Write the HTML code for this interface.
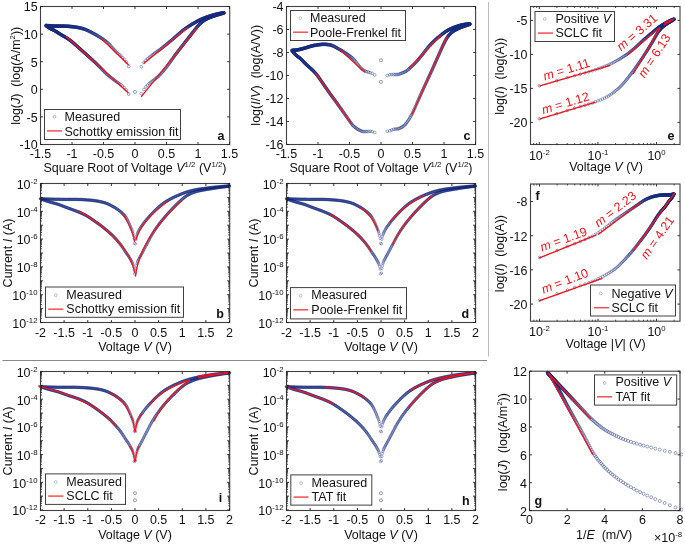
<!DOCTYPE html>
<html><head><meta charset="utf-8"><style>
html,body{margin:0;padding:0;background:#fff;}
svg{display:block;will-change:transform;}
text{font-family:"Liberation Sans", sans-serif;font-size:12.5px;fill:#111;white-space:pre;}
</style></head><body>
<svg width="685" height="544" viewBox="0 0 685 544">
<defs><marker id="mka" markerWidth="6" markerHeight="6" refX="3" refY="3" markerUnits="userSpaceOnUse" overflow="visible"><circle cx="3" cy="3" r="1.35" fill="none" stroke="#15287a" stroke-width="0.42"/></marker><marker id="mkc" markerWidth="6" markerHeight="6" refX="3" refY="3" markerUnits="userSpaceOnUse" overflow="visible"><circle cx="3" cy="3" r="1.35" fill="none" stroke="#15287a" stroke-width="0.42"/></marker><marker id="mkb" markerWidth="6" markerHeight="6" refX="3" refY="3" markerUnits="userSpaceOnUse" overflow="visible"><circle cx="3" cy="3" r="1.2" fill="none" stroke="#15287a" stroke-width="0.36"/></marker><marker id="mkd" markerWidth="6" markerHeight="6" refX="3" refY="3" markerUnits="userSpaceOnUse" overflow="visible"><circle cx="3" cy="3" r="1.2" fill="none" stroke="#15287a" stroke-width="0.36"/></marker><marker id="mki" markerWidth="6" markerHeight="6" refX="3" refY="3" markerUnits="userSpaceOnUse" overflow="visible"><circle cx="3" cy="3" r="1.2" fill="none" stroke="#15287a" stroke-width="0.36"/></marker><marker id="mkh" markerWidth="6" markerHeight="6" refX="3" refY="3" markerUnits="userSpaceOnUse" overflow="visible"><circle cx="3" cy="3" r="1.2" fill="none" stroke="#15287a" stroke-width="0.36"/></marker><marker id="mke" markerWidth="6" markerHeight="6" refX="3" refY="3" markerUnits="userSpaceOnUse" overflow="visible"><circle cx="3" cy="3" r="1.3" fill="none" stroke="#15287a" stroke-width="0.42"/></marker><marker id="mkf" markerWidth="6" markerHeight="6" refX="3" refY="3" markerUnits="userSpaceOnUse" overflow="visible"><circle cx="3" cy="3" r="1.3" fill="none" stroke="#15287a" stroke-width="0.42"/></marker><marker id="mkg" markerWidth="6" markerHeight="6" refX="3" refY="3" markerUnits="userSpaceOnUse" overflow="visible"><circle cx="3" cy="3" r="1.5" fill="none" stroke="#15287a" stroke-width="0.42"/></marker><marker id="mkz" markerWidth="6" markerHeight="6" refX="3" refY="3" markerUnits="userSpaceOnUse" overflow="visible"><circle cx="3" cy="3" r="1.55" fill="none" stroke="#15287a" stroke-width="0.45"/></marker></defs>
<rect width="685" height="544" fill="#fff"/>
<clipPath id="cpa"><rect x="37.5" y="3.5" width="195.2" height="144.0"/></clipPath>
<g clip-path="url(#cpa)">
<polyline points="128.7,66.5 126.1,61.9 124.1,59.4 122.4,57.6 120.9,56.1 119.6,54.8 118.3,53.7 117.2,52.7 116.1,51.7 115.1,50.6 114.1,49.6 113.2,48.6 112.3,47.6 111.4,46.7 110.6,45.8 109.8,44.9 109.0,44.1 108.3,43.4 107.5,42.7 106.8,42.1 106.1,41.5 105.5,41.0 104.8,40.5 104.1,40.0 103.5,39.6 102.9,39.2 102.3,38.7 101.7,38.3 101.1,38.0 100.5,37.6 99.9,37.2 99.4,36.9 98.8,36.5 98.3,36.2 97.7,35.9 97.2,35.5 96.7,35.2 96.2,34.9 95.7,34.7 95.2,34.4 94.7,34.1 94.2,33.8 93.7,33.6 93.2,33.3 92.7,33.1 92.3,32.8 91.8,32.6 91.4,32.3 90.9,32.1 90.5,31.9 90.0,31.7 89.6,31.4 89.1,31.2 88.7,31.0 88.3,30.8 87.9,30.6 87.4,30.4 87.0,30.2 86.6,30.0 86.2,29.8 85.8,29.7 85.4,29.5 85.0,29.4 84.6,29.2 84.2,29.1 83.8,29.0 83.4,28.9 83.0,28.8 82.7,28.6 82.3,28.5 81.9,28.4 81.5,28.3 81.2,28.2 80.8,28.1 80.4,28.1 80.1,28.0 79.7,27.9 79.4,27.8 79.0,27.7 78.7,27.6 78.3,27.6 78.0,27.5 77.6,27.4 77.3,27.4 76.9,27.3 76.6,27.3 76.2,27.2 75.9,27.2 75.6,27.1 75.2,27.1 74.9,27.0 74.6,27.0 74.2,26.9 73.9,26.9 73.6,26.9 73.3,26.8 73.0,26.8 72.6,26.7 72.3,26.7 72.0,26.7 71.7,26.6 71.4,26.6 71.1,26.6 70.8,26.5 70.4,26.5 70.1,26.5 69.8,26.5 69.5,26.4 69.2,26.4 68.9,26.4 68.6,26.3 68.3,26.3 68.0,26.3 67.7,26.3 67.4,26.3 67.1,26.2 66.9,26.2 66.6,26.2 66.3,26.2 66.0,26.2 65.7,26.2 65.4,26.2 65.1,26.2 64.8,26.2 64.6,26.2 64.3,26.1 64.0,26.1 63.7,26.1 63.4,26.1 63.2,26.1 62.9,26.1 62.6,26.1 62.3,26.1 62.1,26.1 61.8,26.1 61.5,26.1 61.3,26.1 61.0,26.1 60.7,26.1 60.5,26.1 60.2,26.1 59.9,26.1 59.7,26.1 59.4,26.1 59.1,26.1 58.9,26.1 58.6,26.1 58.4,26.1 58.1,26.1 57.8,26.1 57.6,26.1 57.3,26.1 57.1,26.1 56.8,26.1 56.6,26.1 56.3,26.1 56.1,26.1 55.8,26.1 55.6,26.1 55.3,26.1 55.1,26.1 54.8,26.1 54.6,26.1 54.3,26.1 54.1,26.1 53.8,26.1 53.6,26.1 53.3,26.0 53.1,26.0 52.9,26.0 52.6,26.0 52.4,26.0 52.1,26.0 51.9,26.0 51.7,26.0 51.4,26.0 51.2,25.9 50.9,25.9 50.7,25.9 50.5,25.9 50.2,25.9 50.0,25.9 49.8,25.9 49.5,25.8 49.3,25.8 49.1,25.8 48.8,25.8 48.6,25.8 48.4,25.7 48.2,25.7 47.9,25.7 47.7,25.7 47.5,25.7 47.3,25.7 47.0,25.6 46.8,25.6 46.6,25.6 46.4,25.6 46.1,25.6 45.9,25.5" fill="none" stroke="none" marker-start="url(#mka)" marker-mid="url(#mka)" marker-end="url(#mka)"/>
<polyline points="128.7,94.2 126.1,89.9 124.1,87.6 122.4,86.0 120.9,84.8 119.6,83.8 118.3,83.0 117.2,82.2 116.1,81.5 115.1,80.7 114.1,80.0 113.2,79.3 112.3,78.6 111.4,77.9 110.6,77.3 109.8,76.7 109.0,76.0 108.3,75.4 107.5,74.8 106.8,74.2 106.1,73.5 105.5,72.9 104.8,72.2 104.1,71.5 103.5,70.8 102.9,70.2 102.3,69.6 101.7,68.9 101.1,68.3 100.5,67.8 99.9,67.2 99.4,66.6 98.8,66.1 98.3,65.6 97.7,65.0 97.2,64.5 96.7,64.0 96.2,63.5 95.7,63.0 95.2,62.5 94.7,62.1 94.2,61.6 93.7,61.2 93.2,60.7 92.7,60.3 92.3,59.8 91.8,59.4 91.4,59.0 90.9,58.6 90.5,58.1 90.0,57.7 89.6,57.3 89.1,57.0 88.7,56.6 88.3,56.2 87.9,55.8 87.4,55.4 87.0,55.1 86.6,54.7 86.2,54.3 85.8,54.0 85.4,53.6 85.0,53.3 84.6,52.9 84.2,52.6 83.8,52.2 83.4,51.9 83.0,51.5 82.7,51.2 82.3,50.9 81.9,50.5 81.5,50.2 81.2,49.9 80.8,49.5 80.4,49.2 80.1,48.9 79.7,48.6 79.4,48.3 79.0,48.0 78.7,47.7 78.3,47.3 78.0,47.0 77.6,46.7 77.3,46.4 76.9,46.1 76.6,45.8 76.2,45.5 75.9,45.2 75.6,44.9 75.2,44.6 74.9,44.3 74.6,44.0 74.2,43.7 73.9,43.4 73.6,43.2 73.3,42.9 73.0,42.6 72.6,42.3 72.3,42.1 72.0,41.8 71.7,41.5 71.4,41.3 71.1,41.0 70.8,40.8 70.4,40.5 70.1,40.3 69.8,40.1 69.5,39.9 69.2,39.7 68.9,39.4 68.6,39.2 68.3,39.0 68.0,38.8 67.7,38.6 67.4,38.5 67.1,38.3 66.9,38.1 66.6,37.9 66.3,37.7 66.0,37.5 65.7,37.4 65.4,37.2 65.1,37.0 64.8,36.9 64.6,36.7 64.3,36.5 64.0,36.4 63.7,36.2 63.4,36.1 63.2,35.9 62.9,35.7 62.6,35.6 62.3,35.4 62.1,35.3 61.8,35.1 61.5,35.0 61.3,34.8 61.0,34.6 60.7,34.5 60.5,34.3 60.2,34.2 59.9,34.0 59.7,33.9 59.4,33.7 59.1,33.5 58.9,33.4 58.6,33.2 58.4,33.0 58.1,32.9 57.8,32.7 57.6,32.5 57.3,32.4 57.1,32.2 56.8,32.0 56.6,31.9 56.3,31.7 56.1,31.5 55.8,31.4 55.6,31.2 55.3,31.1 55.1,30.9 54.8,30.8 54.6,30.6 54.3,30.5 54.1,30.3 53.8,30.2 53.6,30.1 53.3,30.0 53.1,29.8 52.9,29.7 52.6,29.6 52.4,29.5 52.1,29.4 51.9,29.3 51.7,29.2 51.4,29.0 51.2,28.9 50.9,28.8 50.7,28.7 50.5,28.6 50.2,28.4 50.0,28.3 49.8,28.2 49.5,28.0 49.3,27.9 49.1,27.8 48.8,27.6 48.6,27.5 48.4,27.3 48.2,27.2 47.9,27.0 47.7,26.9 47.5,26.7 47.3,26.5 47.0,26.4 46.8,26.2 46.6,26.0 46.4,25.9 46.1,25.7 45.9,25.5" fill="none" stroke="none" marker-start="url(#mka)" marker-mid="url(#mka)" marker-end="url(#mka)"/>
<polyline points="141.3,66.8 143.9,62.5 145.9,60.3 147.6,58.7 149.1,57.5 150.4,56.5 151.7,55.6 152.8,54.7 153.9,53.9 154.9,53.1 155.9,52.4 156.8,51.8 157.7,51.2 158.6,50.6 159.4,50.0 160.2,49.4 161.0,48.8 161.7,48.2 162.5,47.6 163.2,47.0 163.9,46.5 164.5,45.9 165.2,45.4 165.9,44.9 166.5,44.3 167.1,43.8 167.7,43.4 168.3,42.9 168.9,42.4 169.5,41.9 170.1,41.4 170.6,41.0 171.2,40.5 171.7,40.0 172.3,39.6 172.8,39.1 173.3,38.7 173.8,38.2 174.3,37.8 174.8,37.3 175.3,36.9 175.8,36.5 176.3,36.1 176.8,35.6 177.3,35.2 177.7,34.8 178.2,34.4 178.6,34.0 179.1,33.6 179.5,33.2 180.0,32.8 180.4,32.5 180.9,32.1 181.3,31.7 181.7,31.4 182.1,31.0 182.6,30.7 183.0,30.3 183.4,30.0 183.8,29.7 184.2,29.4 184.6,29.1 185.0,28.8 185.4,28.5 185.8,28.3 186.2,28.0 186.6,27.7 187.0,27.5 187.3,27.2 187.7,27.0 188.1,26.7 188.5,26.5 188.8,26.2 189.2,26.0 189.6,25.8 189.9,25.6 190.3,25.3 190.6,25.1 191.0,24.9 191.3,24.7 191.7,24.5 192.0,24.3 192.4,24.1 192.7,23.8 193.1,23.6 193.4,23.4 193.8,23.2 194.1,23.1 194.4,22.9 194.8,22.7 195.1,22.5 195.4,22.3 195.8,22.1 196.1,21.9 196.4,21.7 196.7,21.6 197.0,21.4 197.4,21.2 197.7,21.0 198.0,20.9 198.3,20.7 198.6,20.6 198.9,20.4 199.2,20.2 199.6,20.1 199.9,19.9 200.2,19.8 200.5,19.6 200.8,19.5 201.1,19.4 201.4,19.2 201.7,19.1 202.0,19.0 202.3,18.9 202.6,18.7 202.9,18.6 203.1,18.5 203.4,18.4 203.7,18.3 204.0,18.2 204.3,18.0 204.6,17.9 204.9,17.8 205.2,17.7 205.4,17.6 205.7,17.5 206.0,17.4 206.3,17.3 206.6,17.2 206.8,17.1 207.1,17.0 207.4,16.9 207.7,16.8 207.9,16.7 208.2,16.6 208.5,16.6 208.7,16.5 209.0,16.4 209.3,16.3 209.5,16.2 209.8,16.1 210.1,16.0 210.3,16.0 210.6,15.9 210.9,15.8 211.1,15.7 211.4,15.6 211.6,15.6 211.9,15.5 212.2,15.4 212.4,15.3 212.7,15.3 212.9,15.2 213.2,15.1 213.4,15.0 213.7,15.0 213.9,14.9 214.2,14.8 214.4,14.8 214.7,14.7 214.9,14.6 215.2,14.6 215.4,14.5 215.7,14.4 215.9,14.4 216.2,14.3 216.4,14.3 216.7,14.2 216.9,14.2 217.1,14.1 217.4,14.0 217.6,14.0 217.9,13.9 218.1,13.9 218.3,13.8 218.6,13.8 218.8,13.7 219.1,13.7 219.3,13.6 219.5,13.6 219.8,13.5 220.0,13.5 220.2,13.4 220.5,13.4 220.7,13.4 220.9,13.3 221.2,13.3 221.4,13.2 221.6,13.2 221.8,13.1 222.1,13.1 222.3,13.1 222.5,13.0 222.7,13.0 223.0,13.0 223.2,12.9 223.4,12.9 223.6,12.9 223.9,12.8 224.1,12.8" fill="none" stroke="none" marker-start="url(#mka)" marker-mid="url(#mka)" marker-end="url(#mka)"/>
<polyline points="141.3,93.6 143.9,89.5 145.9,86.9 147.6,85.0 149.1,83.6 150.4,82.6 151.7,81.7 152.8,80.8 153.9,80.0 154.9,79.2 155.9,78.4 156.8,77.6 157.7,76.9 158.6,76.1 159.4,75.3 160.2,74.4 161.0,73.6 161.7,72.8 162.5,72.0 163.2,71.1 163.9,70.3 164.5,69.5 165.2,68.7 165.9,67.9 166.5,67.1 167.1,66.3 167.7,65.4 168.3,64.6 168.9,63.8 169.5,62.9 170.1,62.1 170.6,61.3 171.2,60.5 171.7,59.8 172.3,59.0 172.8,58.3 173.3,57.6 173.8,56.9 174.3,56.2 174.8,55.5 175.3,54.9 175.8,54.2 176.3,53.6 176.8,52.9 177.3,52.3 177.7,51.7 178.2,51.1 178.6,50.5 179.1,49.9 179.5,49.3 180.0,48.7 180.4,48.2 180.9,47.6 181.3,47.1 181.7,46.5 182.1,46.0 182.6,45.4 183.0,44.9 183.4,44.4 183.8,43.9 184.2,43.3 184.6,42.8 185.0,42.3 185.4,41.8 185.8,41.3 186.2,40.8 186.6,40.3 187.0,39.8 187.3,39.4 187.7,38.9 188.1,38.4 188.5,37.9 188.8,37.5 189.2,37.0 189.6,36.5 189.9,36.1 190.3,35.6 190.6,35.2 191.0,34.7 191.3,34.3 191.7,33.8 192.0,33.4 192.4,32.9 192.7,32.5 193.1,32.1 193.4,31.6 193.8,31.2 194.1,30.8 194.4,30.3 194.8,29.9 195.1,29.5 195.4,29.1 195.8,28.7 196.1,28.3 196.4,27.9 196.7,27.5 197.0,27.1 197.4,26.7 197.7,26.3 198.0,26.0 198.3,25.6 198.6,25.3 198.9,24.9 199.2,24.6 199.6,24.2 199.9,23.9 200.2,23.6 200.5,23.3 200.8,23.0 201.1,22.7 201.4,22.4 201.7,22.2 202.0,21.9 202.3,21.7 202.6,21.5 202.9,21.3 203.1,21.1 203.4,20.9 203.7,20.7 204.0,20.5 204.3,20.3 204.6,20.1 204.9,19.9 205.2,19.8 205.4,19.6 205.7,19.4 206.0,19.3 206.3,19.1 206.6,19.0 206.8,18.8 207.1,18.7 207.4,18.6 207.7,18.4 207.9,18.3 208.2,18.2 208.5,18.1 208.7,18.0 209.0,17.8 209.3,17.7 209.5,17.6 209.8,17.5 210.1,17.4 210.3,17.3 210.6,17.2 210.9,17.1 211.1,17.0 211.4,16.9 211.6,16.8 211.9,16.7 212.2,16.6 212.4,16.5 212.7,16.4 212.9,16.3 213.2,16.2 213.4,16.2 213.7,16.1 213.9,16.0 214.2,15.9 214.4,15.8 214.7,15.7 214.9,15.6 215.2,15.6 215.4,15.5 215.7,15.4 215.9,15.3 216.2,15.2 216.4,15.2 216.7,15.1 216.9,15.0 217.1,14.9 217.4,14.9 217.6,14.8 217.9,14.7 218.1,14.6 218.3,14.6 218.6,14.5 218.8,14.4 219.1,14.4 219.3,14.3 219.5,14.2 219.8,14.1 220.0,14.1 220.2,14.0 220.5,13.9 220.7,13.9 220.9,13.8 221.2,13.7 221.4,13.7 221.6,13.6 221.8,13.5 222.1,13.5 222.3,13.4 222.5,13.3 222.7,13.3 223.0,13.2 223.2,13.2 223.4,13.1 223.6,13.0 223.9,13.0 224.1,12.9" fill="none" stroke="none" marker-start="url(#mka)" marker-mid="url(#mka)" marker-end="url(#mka)"/>
<polyline points="135.0,91.9" fill="none" stroke="none" marker-start="url(#mkz)" marker-mid="url(#mkz)" marker-end="url(#mkz)"/>
<polyline points="101.17,38.18 128.70,65.01" fill="none" stroke="#f0141e" stroke-width="1.35" stroke-linejoin="round"/>
<polyline points="66.02,36.36 128.51,93.11" fill="none" stroke="#f0141e" stroke-width="1.35" stroke-linejoin="round"/>
<polyline points="143.63,63.58 187.98,27.59" fill="none" stroke="#f0141e" stroke-width="1.35" stroke-linejoin="round"/>
<polyline points="141.11,96.81 197.81,27.09" fill="none" stroke="#f0141e" stroke-width="1.35" stroke-linejoin="round"/>
</g>
<rect x="40.5" y="6.5" width="189.2" height="138.0" fill="none" stroke="#404040" stroke-width="1.1"/>
<path d="M40.50,144.5v-2.5M40.50,6.5v2.5" stroke="#222" stroke-width="0.9"/>
<text x="40.50" y="158" text-anchor="middle">-1.5</text>
<path d="M72.00,144.5v-2.5M72.00,6.5v2.5" stroke="#222" stroke-width="0.9"/>
<text x="72.00" y="158" text-anchor="middle">-1</text>
<path d="M103.50,144.5v-2.5M103.50,6.5v2.5" stroke="#222" stroke-width="0.9"/>
<text x="103.50" y="158" text-anchor="middle">-0.5</text>
<path d="M135.00,144.5v-2.5M135.00,6.5v2.5" stroke="#222" stroke-width="0.9"/>
<text x="135.00" y="158" text-anchor="middle">0</text>
<path d="M166.50,144.5v-2.5M166.50,6.5v2.5" stroke="#222" stroke-width="0.9"/>
<text x="166.50" y="158" text-anchor="middle">0.5</text>
<path d="M198.00,144.5v-2.5M198.00,6.5v2.5" stroke="#222" stroke-width="0.9"/>
<text x="198.00" y="158" text-anchor="middle">1</text>
<path d="M229.50,144.5v-2.5M229.50,6.5v2.5" stroke="#222" stroke-width="0.9"/>
<text x="229.50" y="158" text-anchor="middle">1.5</text>
<path d="M40.5,144.50h2.5M229.7,144.50h-2.5" stroke="#222" stroke-width="0.9"/>
<text x="37.7" y="149.40" text-anchor="end">-10</text>
<path d="M40.5,116.90h2.5M229.7,116.90h-2.5" stroke="#222" stroke-width="0.9"/>
<text x="37.7" y="121.80" text-anchor="end">-5</text>
<path d="M40.5,89.30h2.5M229.7,89.30h-2.5" stroke="#222" stroke-width="0.9"/>
<text x="37.7" y="94.20" text-anchor="end">0</text>
<path d="M40.5,61.70h2.5M229.7,61.70h-2.5" stroke="#222" stroke-width="0.9"/>
<text x="37.7" y="66.60" text-anchor="end">5</text>
<path d="M40.5,34.10h2.5M229.7,34.10h-2.5" stroke="#222" stroke-width="0.9"/>
<text x="37.7" y="39.00" text-anchor="end">10</text>
<path d="M40.5,6.50h2.5M229.7,6.50h-2.5" stroke="#222" stroke-width="0.9"/>
<text x="37.7" y="11.40" text-anchor="end">15</text>
<text x="135" y="171.9" text-anchor="middle">Square Root of Voltage <tspan font-style="italic">V</tspan><tspan dy="-5" font-size="7.8">1/2</tspan><tspan dy="5"> (V</tspan><tspan dy="-5" font-size="7.8">1/2</tspan><tspan dy="5">)</tspan></text>
<text transform="translate(20.1,75.8) rotate(-90)" text-anchor="middle">log(<tspan font-style="italic">J</tspan>)  (log(A/m<tspan dy="-5" font-size="7.8">2</tspan><tspan dy="5">))</tspan></text>
<rect x="44.5" y="109.5" width="136" height="30" fill="#fff" stroke="#404040" stroke-width="1"/>
<circle cx="54.5" cy="116.8" r="1.4" fill="none" stroke="#15287a" stroke-width="0.5" opacity="0.55"/>
<text x="64.5" y="120.8">Measured</text>
<line x1="47" y1="130.9" x2="62" y2="130.9" stroke="#f0141e" stroke-width="1.5" opacity="0.75"/>
<text x="64.5" y="135.5">Schottky emission fit</text>
<text x="217.5" y="140.1" font-weight="bold" font-size="13">a</text>
<clipPath id="cpc"><rect x="283.5" y="3.5" width="195.10000000000002" height="144.0"/></clipPath>
<g clip-path="url(#cpc)">
<polyline points="374.7,74.9 372.1,73.3 370.1,72.7 368.4,72.2 366.9,71.6 365.6,71.2 364.3,70.6 363.2,70.0 362.1,69.2 361.1,68.3 360.1,67.2 359.2,66.1 358.3,65.0 357.4,63.9 356.6,62.8 355.8,61.8 355.0,60.8 354.3,59.9 353.5,59.2 352.8,58.5 352.1,57.8 351.5,57.3 350.8,56.7 350.1,56.3 349.5,55.8 348.9,55.4 348.3,54.9 347.7,54.5 347.1,54.1 346.5,53.7 345.9,53.4 345.4,53.0 344.8,52.6 344.3,52.3 343.7,51.9 343.2,51.6 342.7,51.3 342.2,50.9 341.7,50.6 341.2,50.3 340.7,50.1 340.2,49.8 339.7,49.5 339.2,49.2 338.7,49.0 338.3,48.7 337.8,48.5 337.4,48.2 336.9,48.0 336.5,47.7 336.0,47.5 335.6,47.2 335.1,47.0 334.7,46.8 334.3,46.5 333.9,46.3 333.4,46.1 333.0,45.9 332.6,45.7 332.2,45.6 331.8,45.4 331.4,45.3 331.0,45.2 330.6,45.0 330.2,44.9 329.8,44.9 329.4,44.8 329.0,44.7 328.7,44.7 328.3,44.6 327.9,44.6 327.5,44.5 327.2,44.5 326.8,44.5 326.4,44.4 326.1,44.4 325.7,44.4 325.4,44.3 325.0,44.3 324.7,44.3 324.3,44.3 324.0,44.3 323.6,44.3 323.3,44.3 322.9,44.3 322.6,44.3 322.2,44.4 321.9,44.4 321.6,44.4 321.2,44.4 320.9,44.5 320.6,44.5 320.2,44.6 319.9,44.6 319.6,44.6 319.3,44.7 319.0,44.7 318.6,44.8 318.3,44.8 318.0,44.9 317.7,44.9 317.4,44.9 317.1,45.0 316.8,45.0 316.4,45.1 316.1,45.1 315.8,45.2 315.5,45.2 315.2,45.3 314.9,45.3 314.6,45.4 314.3,45.4 314.0,45.5 313.7,45.5 313.4,45.6 313.1,45.7 312.9,45.7 312.6,45.8 312.3,45.9 312.0,45.9 311.7,46.0 311.4,46.1 311.1,46.2 310.8,46.2 310.6,46.3 310.3,46.4 310.0,46.5 309.7,46.6 309.4,46.7 309.2,46.8 308.9,46.8 308.6,46.9 308.3,47.0 308.1,47.1 307.8,47.2 307.5,47.3 307.3,47.3 307.0,47.4 306.7,47.5 306.5,47.6 306.2,47.7 305.9,47.7 305.7,47.8 305.4,47.9 305.1,48.0 304.9,48.0 304.6,48.1 304.4,48.2 304.1,48.3 303.8,48.3 303.6,48.4 303.3,48.5 303.1,48.6 302.8,48.6 302.6,48.7 302.3,48.8 302.1,48.8 301.8,48.9 301.6,49.0 301.3,49.1 301.1,49.1 300.8,49.2 300.6,49.2 300.3,49.3 300.1,49.4 299.8,49.4 299.6,49.5 299.3,49.5 299.1,49.6 298.9,49.6 298.6,49.7 298.4,49.7 298.1,49.7 297.9,49.8 297.7,49.8 297.4,49.9 297.2,49.9 296.9,49.9 296.7,50.0 296.5,50.0 296.2,50.0 296.0,50.1 295.8,50.1 295.5,50.1 295.3,50.1 295.1,50.2 294.8,50.2 294.6,50.2 294.4,50.2 294.2,50.3 293.9,50.3 293.7,50.3 293.5,50.3 293.3,50.3 293.0,50.4 292.8,50.4 292.6,50.4 292.4,50.4 292.1,50.4 291.9,50.5" fill="none" stroke="none" marker-start="url(#mkc)" marker-mid="url(#mkc)" marker-end="url(#mkc)"/>
<polyline points="374.7,132.5 372.1,131.6 370.1,131.4 368.4,131.4 366.9,131.5 365.6,131.6 364.3,131.6 363.2,131.5 362.1,131.3 361.1,130.9 360.1,130.5 359.2,130.0 358.3,129.5 357.4,129.0 356.6,128.5 355.8,127.9 355.0,127.3 354.3,126.7 353.5,126.0 352.8,125.3 352.1,124.6 351.5,123.7 350.8,122.7 350.1,121.8 349.5,120.9 348.9,120.0 348.3,119.1 347.7,118.3 347.1,117.4 346.5,116.6 345.9,115.8 345.4,115.0 344.8,114.2 344.3,113.4 343.7,112.7 343.2,111.9 342.7,111.2 342.2,110.5 341.7,109.8 341.2,109.0 340.7,108.3 340.2,107.7 339.7,107.0 339.2,106.3 338.7,105.6 338.3,105.0 337.8,104.3 337.4,103.7 336.9,103.1 336.5,102.4 336.0,101.8 335.6,101.2 335.1,100.6 334.7,100.0 334.3,99.5 333.9,98.9 333.4,98.3 333.0,97.7 332.6,97.2 332.2,96.6 331.8,96.1 331.4,95.5 331.0,95.0 330.6,94.4 330.2,93.9 329.8,93.3 329.4,92.8 329.0,92.2 328.7,91.7 328.3,91.1 327.9,90.6 327.5,90.1 327.2,89.6 326.8,89.0 326.4,88.5 326.1,88.0 325.7,87.5 325.4,87.0 325.0,86.5 324.7,86.0 324.3,85.5 324.0,85.0 323.6,84.5 323.3,84.0 322.9,83.5 322.6,83.0 322.2,82.5 321.9,82.0 321.6,81.5 321.2,81.0 320.9,80.5 320.6,80.0 320.2,79.6 319.9,79.1 319.6,78.6 319.3,78.1 319.0,77.7 318.6,77.2 318.3,76.8 318.0,76.4 317.7,75.9 317.4,75.5 317.1,75.1 316.8,74.7 316.4,74.3 316.1,73.9 315.8,73.6 315.5,73.2 315.2,72.9 314.9,72.5 314.6,72.2 314.3,71.9 314.0,71.6 313.7,71.3 313.4,71.0 313.1,70.7 312.9,70.4 312.6,70.1 312.3,69.9 312.0,69.6 311.7,69.3 311.4,69.1 311.1,68.8 310.8,68.6 310.6,68.3 310.3,68.1 310.0,67.8 309.7,67.6 309.4,67.3 309.2,67.1 308.9,66.9 308.6,66.6 308.3,66.4 308.1,66.1 307.8,65.9 307.5,65.7 307.3,65.4 307.0,65.2 306.7,64.9 306.5,64.7 306.2,64.4 305.9,64.2 305.7,63.9 305.4,63.7 305.1,63.4 304.9,63.2 304.6,62.9 304.4,62.6 304.1,62.4 303.8,62.1 303.6,61.8 303.3,61.5 303.1,61.3 302.8,61.0 302.6,60.7 302.3,60.4 302.1,60.2 301.8,59.9 301.6,59.6 301.3,59.4 301.1,59.1 300.8,58.9 300.6,58.7 300.3,58.5 300.1,58.3 299.8,58.1 299.6,57.9 299.3,57.7 299.1,57.5 298.9,57.3 298.6,57.1 298.4,57.0 298.1,56.8 297.9,56.6 297.7,56.4 297.4,56.3 297.2,56.1 296.9,55.9 296.7,55.7 296.5,55.5 296.2,55.3 296.0,55.1 295.8,54.9 295.5,54.7 295.3,54.5 295.1,54.3 294.8,54.0 294.6,53.8 294.4,53.5 294.2,53.3 293.9,53.0 293.7,52.7 293.5,52.5 293.3,52.2 293.0,51.9 292.8,51.6 292.6,51.3 292.4,51.0 292.1,50.7 291.9,50.4" fill="none" stroke="none" marker-start="url(#mkc)" marker-mid="url(#mkc)" marker-end="url(#mkc)"/>
<polyline points="387.3,75.4 389.9,74.6 391.9,74.5 393.6,74.5 395.1,74.5 396.4,74.6 397.7,74.5 398.8,74.3 399.9,73.9 400.9,73.5 401.9,73.1 402.8,72.7 403.7,72.4 404.6,72.0 405.4,71.6 406.2,71.1 407.0,70.6 407.7,70.0 408.5,69.3 409.2,68.7 409.9,68.1 410.5,67.5 411.2,66.9 411.9,66.3 412.5,65.7 413.1,65.1 413.7,64.5 414.3,64.0 414.9,63.4 415.5,62.8 416.1,62.1 416.6,61.5 417.2,60.9 417.7,60.3 418.3,59.6 418.8,59.0 419.3,58.4 419.8,57.7 420.3,57.1 420.8,56.5 421.3,55.9 421.8,55.3 422.3,54.7 422.8,54.1 423.3,53.5 423.7,52.9 424.2,52.3 424.6,51.7 425.1,51.1 425.5,50.5 426.0,49.9 426.4,49.4 426.9,48.8 427.3,48.3 427.7,47.7 428.1,47.2 428.6,46.7 429.0,46.2 429.4,45.7 429.8,45.3 430.2,44.9 430.6,44.4 431.0,44.0 431.4,43.6 431.8,43.2 432.2,42.8 432.6,42.5 433.0,42.1 433.3,41.7 433.7,41.4 434.1,41.0 434.5,40.7 434.8,40.3 435.2,40.0 435.6,39.7 435.9,39.4 436.3,39.0 436.6,38.7 437.0,38.4 437.3,38.1 437.7,37.8 438.0,37.5 438.4,37.2 438.7,37.0 439.1,36.7 439.4,36.4 439.8,36.1 440.1,35.8 440.4,35.6 440.8,35.3 441.1,35.0 441.4,34.8 441.8,34.5 442.1,34.2 442.4,34.0 442.7,33.7 443.0,33.5 443.4,33.2 443.7,33.0 444.0,32.8 444.3,32.5 444.6,32.3 444.9,32.1 445.2,31.9 445.6,31.7 445.9,31.5 446.2,31.3 446.5,31.1 446.8,30.9 447.1,30.7 447.4,30.5 447.7,30.4 448.0,30.2 448.3,30.1 448.6,29.9 448.9,29.8 449.1,29.6 449.4,29.5 449.7,29.3 450.0,29.2 450.3,29.1 450.6,28.9 450.9,28.8 451.2,28.7 451.4,28.5 451.7,28.4 452.0,28.3 452.3,28.2 452.6,28.1 452.8,28.0 453.1,27.8 453.4,27.7 453.7,27.6 453.9,27.5 454.2,27.4 454.5,27.3 454.7,27.2 455.0,27.1 455.3,27.0 455.5,26.9 455.8,26.8 456.1,26.7 456.3,26.7 456.6,26.6 456.9,26.5 457.1,26.4 457.4,26.3 457.6,26.2 457.9,26.1 458.2,26.0 458.4,26.0 458.7,25.9 458.9,25.8 459.2,25.7 459.4,25.6 459.7,25.6 459.9,25.5 460.2,25.4 460.4,25.3 460.7,25.3 460.9,25.2 461.2,25.2 461.4,25.1 461.7,25.0 461.9,25.0 462.2,24.9 462.4,24.9 462.7,24.8 462.9,24.8 463.1,24.7 463.4,24.7 463.6,24.7 463.9,24.6 464.1,24.6 464.3,24.5 464.6,24.5 464.8,24.5 465.1,24.4 465.3,24.4 465.5,24.3 465.8,24.3 466.0,24.3 466.2,24.2 466.5,24.2 466.7,24.2 466.9,24.2 467.2,24.1 467.4,24.1 467.6,24.1 467.8,24.0 468.1,24.0 468.3,24.0 468.5,24.0 468.7,24.0 469.0,24.0 469.2,23.9 469.4,23.9 469.6,23.9 469.9,23.9 470.1,23.9" fill="none" stroke="none" marker-start="url(#mkc)" marker-mid="url(#mkc)" marker-end="url(#mkc)"/>
<polyline points="387.3,131.2 389.9,130.8 391.9,130.0 393.6,129.3 395.1,129.1 396.4,129.0 397.7,128.8 398.8,128.6 399.9,128.2 400.9,127.7 401.9,127.2 402.8,126.6 403.7,125.9 404.6,125.1 405.4,124.2 406.2,123.3 407.0,122.3 407.7,121.2 408.5,120.1 409.2,119.0 409.9,117.8 410.5,116.7 411.2,115.5 411.9,114.3 412.5,113.1 413.1,111.8 413.7,110.5 414.3,109.2 414.9,107.9 415.5,106.5 416.1,105.2 416.6,103.9 417.2,102.6 417.7,101.4 418.3,100.1 418.8,98.9 419.3,97.8 419.8,96.6 420.3,95.5 420.8,94.4 421.3,93.3 421.8,92.2 422.3,91.2 422.8,90.1 423.3,89.1 423.7,88.0 424.2,87.0 424.6,86.0 425.1,85.0 425.5,84.0 426.0,83.1 426.4,82.1 426.9,81.2 427.3,80.2 427.7,79.3 428.1,78.4 428.6,77.5 429.0,76.6 429.4,75.7 429.8,74.8 430.2,73.9 430.6,73.0 431.0,72.2 431.4,71.3 431.8,70.4 432.2,69.6 432.6,68.7 433.0,67.9 433.3,67.0 433.7,66.2 434.1,65.3 434.5,64.5 434.8,63.7 435.2,62.9 435.6,62.1 435.9,61.3 436.3,60.5 436.6,59.7 437.0,58.9 437.3,58.1 437.7,57.3 438.0,56.5 438.4,55.8 438.7,55.0 439.1,54.2 439.4,53.4 439.8,52.7 440.1,51.9 440.4,51.1 440.8,50.4 441.1,49.6 441.4,48.9 441.8,48.2 442.1,47.5 442.4,46.8 442.7,46.1 443.0,45.4 443.4,44.7 443.7,44.1 444.0,43.4 444.3,42.8 444.6,42.1 444.9,41.5 445.2,40.9 445.6,40.3 445.9,39.7 446.2,39.1 446.5,38.6 446.8,38.1 447.1,37.6 447.4,37.2 447.7,36.8 448.0,36.4 448.3,36.0 448.6,35.7 448.9,35.3 449.1,35.0 449.4,34.7 449.7,34.3 450.0,34.1 450.3,33.8 450.6,33.5 450.9,33.2 451.2,32.9 451.4,32.7 451.7,32.4 452.0,32.2 452.3,32.0 452.6,31.8 452.8,31.5 453.1,31.3 453.4,31.2 453.7,31.0 453.9,30.8 454.2,30.6 454.5,30.5 454.7,30.3 455.0,30.2 455.3,30.0 455.5,29.9 455.8,29.7 456.1,29.6 456.3,29.5 456.6,29.3 456.9,29.2 457.1,29.1 457.4,28.9 457.6,28.8 457.9,28.7 458.2,28.6 458.4,28.4 458.7,28.3 458.9,28.2 459.2,28.1 459.4,28.0 459.7,27.9 459.9,27.8 460.2,27.7 460.4,27.6 460.7,27.4 460.9,27.3 461.2,27.2 461.4,27.1 461.7,27.0 461.9,26.9 462.2,26.8 462.4,26.7 462.7,26.7 462.9,26.6 463.1,26.5 463.4,26.4 463.6,26.3 463.9,26.2 464.1,26.1 464.3,26.1 464.6,26.0 464.8,25.9 465.1,25.8 465.3,25.7 465.5,25.7 465.8,25.6 466.0,25.5 466.2,25.4 466.5,25.3 466.7,25.3 466.9,25.2 467.2,25.1 467.4,25.0 467.6,24.9 467.8,24.9 468.1,24.8 468.3,24.7 468.5,24.6 468.7,24.6 469.0,24.5 469.2,24.4 469.4,24.3 469.6,24.3 469.9,24.2 470.1,24.1" fill="none" stroke="none" marker-start="url(#mkc)" marker-mid="url(#mkc)" marker-end="url(#mkc)"/>
<polyline points="381.0,60.2 381.0,81.9" fill="none" stroke="none" marker-start="url(#mkz)" marker-mid="url(#mkz)" marker-end="url(#mkz)"/>
<polyline points="339.29,49.16 365.00,72.17" fill="none" stroke="#f0141e" stroke-width="1.35" stroke-linejoin="round"/>
<polyline points="315.42,73.08 352.21,124.61" fill="none" stroke="#f0141e" stroke-width="1.35" stroke-linejoin="round"/>
<polyline points="409.10,68.83 441.29,34.79" fill="none" stroke="#f0141e" stroke-width="1.35" stroke-linejoin="round"/>
<polyline points="411.87,114.71 446.84,36.75" fill="none" stroke="#f0141e" stroke-width="1.35" stroke-linejoin="round"/>
</g>
<rect x="286.5" y="6.5" width="189.10000000000002" height="138.0" fill="none" stroke="#404040" stroke-width="1.1"/>
<path d="M286.50,144.5v-2.5M286.50,6.5v2.5" stroke="#222" stroke-width="0.9"/>
<text x="286.50" y="158" text-anchor="middle">-1.5</text>
<path d="M318.00,144.5v-2.5M318.00,6.5v2.5" stroke="#222" stroke-width="0.9"/>
<text x="318.00" y="158" text-anchor="middle">-1</text>
<path d="M349.50,144.5v-2.5M349.50,6.5v2.5" stroke="#222" stroke-width="0.9"/>
<text x="349.50" y="158" text-anchor="middle">-0.5</text>
<path d="M381.00,144.5v-2.5M381.00,6.5v2.5" stroke="#222" stroke-width="0.9"/>
<text x="381.00" y="158" text-anchor="middle">0</text>
<path d="M412.50,144.5v-2.5M412.50,6.5v2.5" stroke="#222" stroke-width="0.9"/>
<text x="412.50" y="158" text-anchor="middle">0.5</text>
<path d="M444.00,144.5v-2.5M444.00,6.5v2.5" stroke="#222" stroke-width="0.9"/>
<text x="444.00" y="158" text-anchor="middle">1</text>
<path d="M475.50,144.5v-2.5M475.50,6.5v2.5" stroke="#222" stroke-width="0.9"/>
<text x="475.50" y="158" text-anchor="middle">1.5</text>
<path d="M286.5,144.50h2.5M475.6,144.50h-2.5" stroke="#222" stroke-width="0.9"/>
<text x="283.5" y="149.40" text-anchor="end">-16</text>
<path d="M286.5,121.50h2.5M475.6,121.50h-2.5" stroke="#222" stroke-width="0.9"/>
<text x="283.5" y="126.40" text-anchor="end">-14</text>
<path d="M286.5,98.50h2.5M475.6,98.50h-2.5" stroke="#222" stroke-width="0.9"/>
<text x="283.5" y="103.40" text-anchor="end">-12</text>
<path d="M286.5,75.50h2.5M475.6,75.50h-2.5" stroke="#222" stroke-width="0.9"/>
<text x="283.5" y="80.40" text-anchor="end">-10</text>
<path d="M286.5,52.50h2.5M475.6,52.50h-2.5" stroke="#222" stroke-width="0.9"/>
<text x="283.5" y="57.40" text-anchor="end">-8</text>
<path d="M286.5,29.50h2.5M475.6,29.50h-2.5" stroke="#222" stroke-width="0.9"/>
<text x="283.5" y="34.40" text-anchor="end">-6</text>
<path d="M286.5,6.50h2.5M475.6,6.50h-2.5" stroke="#222" stroke-width="0.9"/>
<text x="283.5" y="11.40" text-anchor="end">-4</text>
<text x="381" y="171.9" text-anchor="middle">Square Root of Voltage <tspan font-style="italic">V</tspan><tspan dy="-5" font-size="7.8">1/2</tspan><tspan dy="5"> (V</tspan><tspan dy="-5" font-size="7.8">1/2</tspan><tspan dy="5">)</tspan></text>
<text transform="translate(260.1,75.25) rotate(-90)" text-anchor="middle">log(<tspan font-style="italic">I</tspan>/<tspan font-style="italic">V</tspan>)  (log(A/V))</text>
<rect x="290.5" y="10.5" width="115" height="30" fill="#fff" stroke="#404040" stroke-width="1"/>
<circle cx="300.4" cy="18.2" r="1.4" fill="none" stroke="#15287a" stroke-width="0.5" opacity="0.55"/>
<text x="310" y="22">Measured</text>
<line x1="293.1" y1="32.2" x2="308.1" y2="32.2" stroke="#f0141e" stroke-width="1.5" opacity="0.75"/>
<text x="310" y="36.7">Poole-Frenkel fit</text>
<text x="463.5" y="139.5" font-weight="bold" font-size="13">c</text>
<clipPath id="cpe"><rect x="527.5" y="3.5" width="155.5" height="144.0"/></clipPath>
<g clip-path="url(#cpe)">
<polyline points="539.3,85.7 556.9,80.5 567.3,77.6 574.6,75.7 580.3,74.2 584.9,73.0 588.8,71.9 592.2,70.8 595.2,69.8 597.9,68.9 600.3,68.0 602.5,67.2 604.6,66.4 606.5,65.7 608.2,65.0 609.9,64.3 611.4,63.5 612.9,62.8 614.2,62.0 615.5,61.3 616.8,60.6 618.0,60.0 619.1,59.3 620.2,58.7 621.2,58.0 622.2,57.4 623.2,56.8 624.1,56.2 625.0,55.6 625.9,55.0 626.7,54.5 627.5,53.9 628.3,53.3 629.0,52.7 629.8,52.2 630.5,51.6 631.2,51.0 631.9,50.5 632.5,49.9 633.2,49.4 633.8,48.9 634.4,48.3 635.0,47.8 635.6,47.3 636.2,46.8 636.7,46.3 637.3,45.8 637.8,45.3 638.3,44.8 638.9,44.3 639.4,43.9 639.9,43.4 640.3,42.9 640.8,42.5 641.3,42.0 641.7,41.6 642.2,41.2 642.6,40.8 643.1,40.4 643.5,40.0 643.9,39.6 644.3,39.3 644.7,38.9 645.1,38.6 645.5,38.2 645.9,37.9 646.3,37.6 646.7,37.3 647.1,37.0 647.4,36.6 647.8,36.3 648.1,36.0 648.5,35.7 648.8,35.5 649.2,35.2 649.5,34.9 649.8,34.6 650.2,34.3 650.5,34.1 650.8,33.8 651.1,33.6 651.4,33.3 651.8,33.0 652.1,32.8 652.4,32.5 652.7,32.3 653.0,32.1 653.2,31.8 653.5,31.6 653.8,31.3 654.1,31.1 654.4,30.9 654.7,30.7 654.9,30.4 655.2,30.2 655.5,30.0 655.7,29.8 656.0,29.6 656.2,29.3 656.5,29.1 656.8,28.9 657.0,28.7 657.3,28.5 657.5,28.3 657.7,28.2 658.0,28.0 658.2,27.8 658.5,27.6 658.7,27.4 658.9,27.3 659.2,27.1 659.4,27.0 659.6,26.8 659.8,26.6 660.1,26.5 660.3,26.3 660.5,26.2 660.7,26.1 660.9,25.9 661.1,25.8 661.4,25.6 661.6,25.5 661.8,25.4 662.0,25.2 662.2,25.1 662.4,25.0 662.6,24.9 662.8,24.7 663.0,24.6 663.2,24.5 663.4,24.4 663.6,24.3 663.8,24.1 663.9,24.0 664.1,23.9 664.3,23.8 664.5,23.7 664.7,23.6 664.9,23.5 665.1,23.4 665.2,23.3 665.4,23.2 665.6,23.1 665.8,23.0 666.0,22.9 666.1,22.8 666.3,22.7 666.5,22.6 666.6,22.5 666.8,22.4 667.0,22.3 667.2,22.2 667.3,22.1 667.5,22.0 667.7,21.9 667.8,21.8 668.0,21.8 668.1,21.7 668.3,21.6 668.5,21.5 668.6,21.4 668.8,21.3 668.9,21.3 669.1,21.2 669.2,21.1 669.4,21.1 669.6,21.0 669.7,20.9 669.9,20.8 670.0,20.8 670.2,20.7 670.3,20.6 670.4,20.6 670.6,20.5 670.7,20.5 670.9,20.4 671.0,20.3 671.2,20.3 671.3,20.2 671.5,20.2 671.6,20.1 671.7,20.0 671.9,20.0 672.0,19.9 672.2,19.9 672.3,19.8 672.4,19.8 672.6,19.7 672.7,19.7 672.8,19.6 673.0,19.6 673.1,19.5 673.2,19.5 673.4,19.4 673.5,19.4 673.6,19.3 673.8,19.3 673.9,19.3 674.0,19.2 674.1,19.2" fill="none" stroke="none" marker-start="url(#mke)" marker-mid="url(#mke)" marker-end="url(#mke)"/>
<polyline points="539.3,118.7 556.9,113.7 567.3,110.5 574.6,108.1 580.3,106.5 584.9,105.2 588.8,104.0 592.2,103.0 595.2,101.9 597.9,100.9 600.3,100.0 602.5,99.0 604.6,98.1 606.5,97.1 608.2,96.0 609.9,95.0 611.4,94.0 612.9,92.9 614.2,91.9 615.5,90.8 616.8,89.8 618.0,88.8 619.1,87.8 620.2,86.8 621.2,85.7 622.2,84.7 623.2,83.6 624.1,82.6 625.0,81.5 625.9,80.5 626.7,79.4 627.5,78.4 628.3,77.4 629.0,76.4 629.8,75.5 630.5,74.5 631.2,73.6 631.9,72.7 632.5,71.9 633.2,71.0 633.8,70.2 634.4,69.3 635.0,68.5 635.6,67.7 636.2,66.9 636.7,66.1 637.3,65.4 637.8,64.6 638.3,63.9 638.9,63.1 639.4,62.4 639.9,61.7 640.3,61.0 640.8,60.3 641.3,59.6 641.7,58.9 642.2,58.2 642.6,57.6 643.1,56.9 643.5,56.2 643.9,55.6 644.3,55.0 644.7,54.3 645.1,53.7 645.5,53.1 645.9,52.5 646.3,51.9 646.7,51.3 647.1,50.7 647.4,50.1 647.8,49.6 648.1,49.0 648.5,48.4 648.8,47.9 649.2,47.3 649.5,46.8 649.8,46.2 650.2,45.7 650.5,45.1 650.8,44.6 651.1,44.1 651.4,43.5 651.8,43.0 652.1,42.5 652.4,42.0 652.7,41.4 653.0,40.9 653.2,40.4 653.5,39.9 653.8,39.4 654.1,38.9 654.4,38.4 654.7,37.9 654.9,37.4 655.2,37.0 655.5,36.5 655.7,36.1 656.0,35.6 656.2,35.2 656.5,34.7 656.8,34.3 657.0,33.9 657.3,33.5 657.5,33.1 657.7,32.7 658.0,32.3 658.2,31.9 658.5,31.6 658.7,31.3 658.9,30.9 659.2,30.7 659.4,30.4 659.6,30.1 659.8,29.8 660.1,29.6 660.3,29.4 660.5,29.1 660.7,28.9 660.9,28.7 661.1,28.4 661.4,28.2 661.6,28.0 661.8,27.8 662.0,27.6 662.2,27.4 662.4,27.2 662.6,27.0 662.8,26.8 663.0,26.6 663.2,26.5 663.4,26.3 663.6,26.1 663.8,26.0 663.9,25.8 664.1,25.7 664.3,25.6 664.5,25.4 664.7,25.3 664.9,25.1 665.1,25.0 665.2,24.9 665.4,24.8 665.6,24.6 665.8,24.5 666.0,24.4 666.1,24.3 666.3,24.2 666.5,24.0 666.6,23.9 666.8,23.8 667.0,23.7 667.2,23.6 667.3,23.5 667.5,23.4 667.7,23.3 667.8,23.2 668.0,23.1 668.1,22.9 668.3,22.8 668.5,22.7 668.6,22.6 668.8,22.5 668.9,22.4 669.1,22.3 669.2,22.2 669.4,22.2 669.6,22.1 669.7,22.0 669.9,21.9 670.0,21.8 670.2,21.7 670.3,21.6 670.4,21.5 670.6,21.4 670.7,21.3 670.9,21.3 671.0,21.2 671.2,21.1 671.3,21.0 671.5,20.9 671.6,20.8 671.7,20.8 671.9,20.7 672.0,20.6 672.2,20.5 672.3,20.4 672.4,20.3 672.6,20.3 672.7,20.2 672.8,20.1 673.0,20.0 673.1,19.9 673.2,19.9 673.4,19.8 673.5,19.7 673.6,19.6 673.8,19.5 673.9,19.5 674.0,19.4 674.1,19.3" fill="none" stroke="none" marker-start="url(#mke)" marker-mid="url(#mke)" marker-end="url(#mke)"/>
<polyline points="539.40,86.00 540.60,85.65 541.79,85.30 542.99,84.95 544.19,84.60 545.38,84.25 546.58,83.91 547.78,83.56 548.97,83.21 550.17,82.86 551.37,82.51 552.56,82.16 553.76,81.81 554.96,81.46 556.15,81.11 557.35,80.76 558.55,80.41 559.74,80.06 560.94,79.72 562.14,79.37 563.33,79.02 564.53,78.67 565.73,78.32 566.92,77.97 568.12,77.62 569.32,77.27 570.51,76.92 571.71,76.57 572.91,76.22 574.10,75.87 575.30,75.53 576.49,75.18 577.69,74.83 578.89,74.48 580.08,74.13 581.28,73.78 582.48,73.43 583.67,73.08 584.87,72.73 586.07,72.38 587.26,72.03 588.46,71.68 589.66,71.34 590.85,70.99 592.05,70.64 593.25,70.29 594.44,69.94 595.64,69.59 596.84,69.24 598.03,68.89 599.23,68.54 600.43,68.19 601.62,67.84 602.82,67.49 604.02,67.15 605.21,66.80 606.41,66.45 607.61,66.10 608.80,65.75 610.00,65.40" fill="none" stroke="#f0141e" stroke-width="1.35" stroke-linejoin="round"/>
<polyline points="539.40,119.10 540.35,118.81 541.29,118.53 542.24,118.24 543.19,117.95 544.14,117.67 545.08,117.38 546.03,117.09 546.98,116.81 547.93,116.52 548.87,116.24 549.82,115.95 550.77,115.66 551.72,115.38 552.66,115.09 553.61,114.80 554.56,114.52 555.51,114.23 556.45,113.94 557.40,113.66 558.35,113.37 559.30,113.08 560.24,112.80 561.19,112.51 562.14,112.23 563.09,111.94 564.03,111.65 564.98,111.37 565.93,111.08 566.88,110.79 567.82,110.51 568.77,110.22 569.72,109.93 570.67,109.65 571.61,109.36 572.56,109.07 573.51,108.79 574.46,108.50 575.40,108.22 576.35,107.93 577.30,107.64 578.25,107.36 579.19,107.07 580.14,106.78 581.09,106.50 582.04,106.21 582.98,105.92 583.93,105.64 584.88,105.35 585.83,105.06 586.77,104.78 587.72,104.49 588.67,104.21 589.62,103.92 590.56,103.63 591.51,103.35 592.46,103.06 593.41,102.77 594.35,102.49 595.30,102.20" fill="none" stroke="#f0141e" stroke-width="1.35" stroke-linejoin="round"/>
<polyline points="627.20,54.90 627.75,54.44 628.30,53.97 628.85,53.51 629.40,53.05 629.95,52.59 630.49,52.12 631.04,51.66 631.59,51.20 632.14,50.74 632.69,50.27 633.24,49.81 633.79,49.35 634.34,48.88 634.89,48.42 635.44,47.96 635.99,47.50 636.54,47.03 637.08,46.57 637.63,46.11 638.18,45.65 638.73,45.18 639.28,44.72 639.83,44.26 640.38,43.79 640.93,43.33 641.48,42.87 642.03,42.41 642.58,41.94 643.13,41.48 643.67,41.02 644.22,40.56 644.77,40.09 645.32,39.63 645.87,39.17 646.42,38.71 646.97,38.24 647.52,37.78 648.07,37.32 648.62,36.85 649.17,36.39 649.72,35.93 650.26,35.47 650.81,35.00 651.36,34.54 651.91,34.08 652.46,33.62 653.01,33.15 653.56,32.69 654.11,32.23 654.66,31.76 655.21,31.30 655.76,30.84 656.31,30.38 656.85,29.91 657.40,29.45 657.95,28.99 658.50,28.53 659.05,28.06 659.60,27.60" fill="none" stroke="#f0141e" stroke-width="1.35" stroke-linejoin="round"/>
<polyline points="633.10,74.00 633.56,73.21 634.02,72.43 634.48,71.64 634.94,70.85 635.41,70.07 635.87,69.28 636.33,68.49 636.79,67.71 637.25,66.92 637.71,66.14 638.17,65.35 638.63,64.56 639.09,63.78 639.55,62.99 640.02,62.20 640.48,61.42 640.94,60.63 641.40,59.84 641.86,59.06 642.32,58.27 642.78,57.48 643.24,56.70 643.70,55.91 644.16,55.13 644.63,54.34 645.09,53.55 645.55,52.77 646.01,51.98 646.47,51.19 646.93,50.41 647.39,49.62 647.85,48.83 648.31,48.05 648.77,47.26 649.24,46.47 649.70,45.69 650.16,44.90 650.62,44.12 651.08,43.33 651.54,42.54 652.00,41.76 652.46,40.97 652.92,40.18 653.38,39.40 653.85,38.61 654.31,37.82 654.77,37.04 655.23,36.25 655.69,35.46 656.15,34.68 656.61,33.89 657.07,33.11 657.53,32.32 657.99,31.53 658.46,30.75 658.92,29.96 659.38,29.17 659.84,28.39 660.30,27.60" fill="none" stroke="#f0141e" stroke-width="1.35" stroke-linejoin="round"/>
<polyline points="663.80,22.90 663.97,22.83 664.15,22.76 664.32,22.70 664.50,22.63 664.67,22.56 664.85,22.49 665.02,22.43 665.20,22.36 665.37,22.29 665.55,22.22 665.72,22.15 665.89,22.09 666.07,22.02 666.24,21.95 666.42,21.88 666.59,21.82 666.77,21.75 666.94,21.68 667.12,21.61 667.29,21.54 667.47,21.48 667.64,21.41 667.82,21.34 667.99,21.27 668.16,21.21 668.34,21.14 668.51,21.07 668.69,21.00 668.86,20.93 669.04,20.87 669.21,20.80 669.39,20.73 669.56,20.66 669.74,20.59 669.91,20.53 670.08,20.46 670.26,20.39 670.43,20.32 670.61,20.26 670.78,20.19 670.96,20.12 671.13,20.05 671.31,19.98 671.48,19.92 671.66,19.85 671.83,19.78 672.01,19.71 672.18,19.65 672.35,19.58 672.53,19.51 672.70,19.44 672.88,19.37 673.05,19.31 673.23,19.24 673.40,19.17 673.58,19.10 673.75,19.04 673.93,18.97 674.10,18.90" fill="none" stroke="#f0141e" stroke-width="1.35" stroke-linejoin="round"/>
<polyline points="663.80,25.00 663.97,24.90 664.15,24.81 664.32,24.71 664.50,24.61 664.67,24.52 664.85,24.42 665.02,24.32 665.20,24.23 665.37,24.13 665.55,24.03 665.72,23.94 665.89,23.84 666.07,23.74 666.24,23.65 666.42,23.55 666.59,23.45 666.77,23.36 666.94,23.26 667.12,23.16 667.29,23.07 667.47,22.97 667.64,22.87 667.82,22.78 667.99,22.68 668.16,22.58 668.34,22.49 668.51,22.39 668.69,22.29 668.86,22.20 669.04,22.10 669.21,22.01 669.39,21.91 669.56,21.81 669.74,21.72 669.91,21.62 670.08,21.52 670.26,21.43 670.43,21.33 670.61,21.23 670.78,21.14 670.96,21.04 671.13,20.94 671.31,20.85 671.48,20.75 671.66,20.65 671.83,20.56 672.01,20.46 672.18,20.36 672.35,20.27 672.53,20.17 672.70,20.07 672.88,19.98 673.05,19.88 673.23,19.78 673.40,19.69 673.58,19.59 673.75,19.49 673.93,19.40 674.10,19.30" fill="none" stroke="#f0141e" stroke-width="1.35" stroke-linejoin="round"/>
</g>
<rect x="530.5" y="6.5" width="149.5" height="138.0" fill="none" stroke="#404040" stroke-width="1.1"/>
<text x="539.30" y="160" text-anchor="middle">10<tspan dy="-5" font-size="7.8">-2</tspan></text>
<text x="597.90" y="160" text-anchor="middle">10<tspan dy="-5" font-size="7.8">-1</tspan></text>
<text x="656.50" y="160" text-anchor="middle">10<tspan dy="-5" font-size="7.8">0</tspan></text>
<path d="M539.30,144.5v-2.5M539.30,6.5v2.5M597.90,144.5v-2.5M597.90,6.5v2.5M656.50,144.5v-2.5M656.50,6.5v2.5" stroke="#222" stroke-width="0.9"/>
<path d="M533.62,144.5v-1.5M533.62,6.5v1.5M536.62,144.5v-1.5M536.62,6.5v1.5M556.94,144.5v-1.5M556.94,6.5v1.5M567.26,144.5v-1.5M567.26,6.5v1.5M574.58,144.5v-1.5M574.58,6.5v1.5M580.26,144.5v-1.5M580.26,6.5v1.5M584.90,144.5v-1.5M584.90,6.5v1.5M588.82,144.5v-1.5M588.82,6.5v1.5M592.22,144.5v-1.5M592.22,6.5v1.5M595.22,144.5v-1.5M595.22,6.5v1.5M615.54,144.5v-1.5M615.54,6.5v1.5M625.86,144.5v-1.5M625.86,6.5v1.5M633.18,144.5v-1.5M633.18,6.5v1.5M638.86,144.5v-1.5M638.86,6.5v1.5M643.50,144.5v-1.5M643.50,6.5v1.5M647.42,144.5v-1.5M647.42,6.5v1.5M650.82,144.5v-1.5M650.82,6.5v1.5M653.82,144.5v-1.5M653.82,6.5v1.5M674.14,144.5v-1.5M674.14,6.5v1.5" stroke="#222" stroke-width="0.8"/>
<path d="M530.5,122.40h2.5M680,122.40h-2.5" stroke="#222" stroke-width="0.9"/>
<text x="527.5" y="127.30" text-anchor="end">-20</text>
<path d="M530.5,88.40h2.5M680,88.40h-2.5" stroke="#222" stroke-width="0.9"/>
<text x="527.5" y="93.30" text-anchor="end">-15</text>
<path d="M530.5,54.40h2.5M680,54.40h-2.5" stroke="#222" stroke-width="0.9"/>
<text x="527.5" y="59.30" text-anchor="end">-10</text>
<path d="M530.5,20.40h2.5M680,20.40h-2.5" stroke="#222" stroke-width="0.9"/>
<text x="527.5" y="25.30" text-anchor="end">-5</text>
<text x="606" y="171.4" text-anchor="middle">Voltage <tspan font-style="italic">V</tspan> (V)</text>
<text transform="translate(504.3,76.3) rotate(-90)" text-anchor="middle">log(<tspan font-style="italic">I</tspan>)  (log(A))</text>
<rect x="535" y="11.5" width="79.5" height="30" fill="#fff" stroke="#404040" stroke-width="1"/>
<circle cx="544.8" cy="19" r="1.4" fill="none" stroke="#15287a" stroke-width="0.5" opacity="0.55"/>
<text x="555.5" y="22.6">Positive <tspan font-style="italic">V</tspan></text>
<line x1="538" y1="33.1" x2="553" y2="33.1" stroke="#f0141e" stroke-width="1.5" opacity="0.75"/>
<text x="555.5" y="37">SCLC fit</text>
<text x="667.5" y="140.4" font-weight="bold" font-size="13">e</text>
<text transform="translate(544.7,80.4) rotate(-17)" fill="#f0141e" style="fill:#f0141e"><tspan font-style="italic">m</tspan> = 1.11</text>
<text transform="translate(543.2,114.2) rotate(-17)" fill="#f0141e" style="fill:#f0141e"><tspan font-style="italic">m</tspan> = 1.12</text>
<text transform="translate(621.3,51.6) rotate(-41)" fill="#f0141e" style="fill:#f0141e"><tspan font-style="italic">m</tspan> = 3.31</text>
<text transform="translate(644.4,78.6) rotate(-57)" fill="#f0141e" style="fill:#f0141e"><tspan font-style="italic">m</tspan> = 6.13</text>
<clipPath id="cpf"><rect x="527.5" y="181" width="155.5" height="143.2"/></clipPath>
<g clip-path="url(#cpf)">
<polyline points="539.5,257.5 557.1,250.4 567.4,246.5 574.7,243.7 580.4,241.3 585.0,239.4 588.9,237.7 592.3,236.1 595.3,234.5 598.0,232.9 600.4,231.3 602.6,229.7 604.7,228.2 606.5,226.8 608.3,225.4 609.9,224.1 611.5,222.8 612.9,221.7 614.3,220.6 615.6,219.7 616.8,218.8 618.0,218.0 619.2,217.2 620.2,216.5 621.3,215.8 622.3,215.1 623.2,214.5 624.2,213.9 625.1,213.3 625.9,212.7 626.7,212.2 627.6,211.6 628.3,211.1 629.1,210.6 629.8,210.0 630.5,209.6 631.2,209.1 631.9,208.6 632.6,208.2 633.2,207.7 633.8,207.3 634.5,206.9 635.1,206.5 635.6,206.1 636.2,205.7 636.8,205.3 637.3,205.0 637.9,204.6 638.4,204.2 638.9,203.9 639.4,203.5 639.9,203.2 640.4,202.8 640.8,202.5 641.3,202.2 641.8,201.9 642.2,201.6 642.7,201.3 643.1,201.0 643.5,200.7 643.9,200.5 644.4,200.2 644.8,200.0 645.2,199.8 645.6,199.6 645.9,199.4 646.3,199.2 646.7,199.0 647.1,198.9 647.4,198.7 647.8,198.5 648.2,198.4 648.5,198.2 648.9,198.1 649.2,198.0 649.5,197.8 649.9,197.7 650.2,197.6 650.5,197.4 650.8,197.3 651.1,197.2 651.5,197.1 651.8,197.0 652.1,196.9 652.4,196.8 652.7,196.7 653.0,196.6 653.3,196.6 653.5,196.5 653.8,196.4 654.1,196.3 654.4,196.3 654.7,196.2 654.9,196.2 655.2,196.1 655.5,196.0 655.7,196.0 656.0,195.9 656.2,195.9 656.5,195.8 656.8,195.8 657.0,195.7 657.3,195.7 657.5,195.6 657.7,195.6 658.0,195.5 658.2,195.5 658.5,195.4 658.7,195.4 658.9,195.3 659.2,195.3 659.4,195.3 659.6,195.2 659.8,195.2 660.1,195.2 660.3,195.1 660.5,195.1 660.7,195.1 660.9,195.1 661.1,195.1 661.3,195.0 661.6,195.0 661.8,195.0 662.0,195.0 662.2,195.0 662.4,195.0 662.6,195.0 662.8,195.0 663.0,195.0 663.2,195.0 663.4,195.0 663.6,195.0 663.7,195.0 663.9,195.0 664.1,195.0 664.3,195.0 664.5,195.0 664.7,195.0 664.9,195.0 665.0,195.0 665.2,195.0 665.4,195.0 665.6,195.0 665.8,195.0 665.9,195.0 666.1,195.0 666.3,195.0 666.5,194.9 666.6,194.9 666.8,194.9 667.0,194.9 667.1,194.9 667.3,194.9 667.5,194.9 667.6,194.9 667.8,194.9 668.0,194.9 668.1,194.9 668.3,194.9 668.4,194.9 668.6,194.9 668.8,194.9 668.9,194.9 669.1,194.9 669.2,194.9 669.4,194.9 669.5,194.9 669.7,194.8 669.8,194.8 670.0,194.8 670.1,194.8 670.3,194.8 670.4,194.8 670.6,194.7 670.7,194.7 670.9,194.7 671.0,194.7 671.1,194.7 671.3,194.6 671.4,194.6 671.6,194.6 671.7,194.6 671.9,194.5 672.0,194.5 672.1,194.5 672.3,194.5 672.4,194.4 672.5,194.4 672.7,194.4 672.8,194.3 672.9,194.3 673.1,194.3 673.2,194.3 673.3,194.2 673.5,194.2 673.6,194.2 673.7,194.1 673.9,194.1 674.0,194.1 674.1,194.1" fill="none" stroke="none" marker-start="url(#mkf)" marker-mid="url(#mkf)" marker-end="url(#mkf)"/>
<polyline points="539.5,300.3 557.1,293.7 567.4,290.0 574.7,287.4 580.4,285.5 585.0,284.0 588.9,282.6 592.3,281.4 595.3,280.2 598.0,278.9 600.4,277.8 602.6,276.6 604.7,275.5 606.5,274.4 608.3,273.4 609.9,272.4 611.5,271.4 612.9,270.5 614.3,269.5 615.6,268.5 616.8,267.5 618.0,266.4 619.2,265.3 620.2,264.2 621.3,263.1 622.3,262.1 623.2,261.2 624.2,260.2 625.1,259.3 625.9,258.3 626.7,257.4 627.6,256.5 628.3,255.7 629.1,254.8 629.8,254.0 630.5,253.2 631.2,252.4 631.9,251.6 632.6,250.8 633.2,250.0 633.8,249.3 634.5,248.5 635.1,247.8 635.6,247.1 636.2,246.3 636.8,245.6 637.3,244.9 637.9,244.2 638.4,243.5 638.9,242.8 639.4,242.2 639.9,241.5 640.4,240.9 640.8,240.3 641.3,239.7 641.8,239.1 642.2,238.5 642.7,237.9 643.1,237.3 643.5,236.8 643.9,236.2 644.4,235.7 644.8,235.1 645.2,234.6 645.6,234.0 645.9,233.5 646.3,233.0 646.7,232.4 647.1,231.9 647.4,231.4 647.8,230.9 648.2,230.4 648.5,229.9 648.9,229.4 649.2,228.9 649.5,228.4 649.9,227.9 650.2,227.4 650.5,226.9 650.8,226.4 651.1,226.0 651.5,225.5 651.8,225.0 652.1,224.5 652.4,224.1 652.7,223.6 653.0,223.1 653.3,222.7 653.5,222.2 653.8,221.8 654.1,221.3 654.4,220.9 654.7,220.4 654.9,220.0 655.2,219.6 655.5,219.1 655.7,218.7 656.0,218.3 656.2,217.9 656.5,217.5 656.8,217.1 657.0,216.7 657.3,216.4 657.5,216.0 657.7,215.6 658.0,215.3 658.2,214.9 658.5,214.6 658.7,214.3 658.9,214.0 659.2,213.7 659.4,213.4 659.6,213.1 659.8,212.8 660.1,212.5 660.3,212.2 660.5,212.0 660.7,211.7 660.9,211.5 661.1,211.2 661.3,211.0 661.6,210.7 661.8,210.5 662.0,210.3 662.2,210.0 662.4,209.8 662.6,209.6 662.8,209.4 663.0,209.1 663.2,208.9 663.4,208.7 663.6,208.5 663.7,208.3 663.9,208.1 664.1,207.8 664.3,207.6 664.5,207.4 664.7,207.2 664.9,207.0 665.0,206.8 665.2,206.5 665.4,206.3 665.6,206.1 665.8,205.8 665.9,205.6 666.1,205.4 666.3,205.1 666.5,204.9 666.6,204.6 666.8,204.4 667.0,204.2 667.1,203.9 667.3,203.7 667.5,203.4 667.6,203.2 667.8,202.9 668.0,202.7 668.1,202.4 668.3,202.2 668.4,202.0 668.6,201.8 668.8,201.5 668.9,201.3 669.1,201.1 669.2,200.9 669.4,200.8 669.5,200.6 669.7,200.4 669.8,200.2 670.0,200.0 670.1,199.9 670.3,199.7 670.4,199.5 670.6,199.4 670.7,199.2 670.9,199.0 671.0,198.9 671.1,198.7 671.3,198.5 671.4,198.3 671.6,198.2 671.7,198.0 671.9,197.8 672.0,197.6 672.1,197.4 672.3,197.2 672.4,197.0 672.5,196.7 672.7,196.5 672.8,196.3 672.9,196.0 673.1,195.8 673.2,195.6 673.3,195.3 673.5,195.1 673.6,194.8 673.7,194.6 673.9,194.3 674.0,194.0 674.1,193.8" fill="none" stroke="none" marker-start="url(#mkf)" marker-mid="url(#mkf)" marker-end="url(#mkf)"/>
<polyline points="539.20,258.00 540.17,257.61 541.13,257.22 542.10,256.83 543.06,256.44 544.03,256.05 545.00,255.66 545.96,255.27 546.93,254.88 547.89,254.49 548.86,254.10 549.83,253.71 550.79,253.32 551.76,252.93 552.73,252.54 553.69,252.15 554.66,251.76 555.62,251.37 556.59,250.98 557.56,250.59 558.52,250.20 559.49,249.81 560.45,249.42 561.42,249.03 562.39,248.64 563.35,248.25 564.32,247.86 565.28,247.47 566.25,247.08 567.22,246.69 568.18,246.31 569.15,245.92 570.12,245.53 571.08,245.14 572.05,244.75 573.01,244.36 573.98,243.97 574.95,243.58 575.91,243.19 576.88,242.80 577.84,242.41 578.81,242.02 579.78,241.63 580.74,241.24 581.71,240.85 582.67,240.46 583.64,240.07 584.61,239.68 585.57,239.29 586.54,238.90 587.51,238.51 588.47,238.12 589.44,237.73 590.40,237.34 591.37,236.95 592.34,236.56 593.30,236.17 594.27,235.78 595.23,235.39 596.20,235.00" fill="none" stroke="#f0141e" stroke-width="1.35" stroke-linejoin="round"/>
<polyline points="598.10,234.50 598.82,233.96 599.54,233.42 600.26,232.88 600.98,232.34 601.70,231.81 602.42,231.27 603.14,230.73 603.86,230.19 604.58,229.65 605.30,229.11 606.02,228.57 606.74,228.03 607.46,227.49 608.18,226.95 608.91,226.42 609.63,225.88 610.35,225.34 611.07,224.80 611.79,224.26 612.51,223.72 613.23,223.18 613.95,222.64 614.67,222.10 615.39,221.56 616.11,221.03 616.83,220.49 617.55,219.95 618.27,219.41 618.99,218.87 619.71,218.33 620.43,217.79 621.15,217.25 621.87,216.71 622.59,216.17 623.31,215.64 624.03,215.10 624.75,214.56 625.47,214.02 626.19,213.48 626.91,212.94 627.63,212.40 628.35,211.86 629.07,211.32 629.79,210.78 630.52,210.25 631.24,209.71 631.96,209.17 632.68,208.63 633.40,208.09 634.12,207.55 634.84,207.01 635.56,206.47 636.28,205.93 637.00,205.39 637.72,204.86 638.44,204.32 639.16,203.78 639.88,203.24 640.60,202.70" fill="none" stroke="#f0141e" stroke-width="1.35" stroke-linejoin="round"/>
<polyline points="539.10,300.90 540.17,300.52 541.25,300.13 542.32,299.75 543.39,299.37 544.46,298.98 545.54,298.60 546.61,298.22 547.68,297.84 548.76,297.45 549.83,297.07 550.90,296.69 551.97,296.30 553.05,295.92 554.12,295.54 555.19,295.15 556.27,294.77 557.34,294.39 558.41,294.01 559.48,293.62 560.56,293.24 561.63,292.86 562.70,292.47 563.78,292.09 564.85,291.71 565.92,291.32 566.99,290.94 568.07,290.56 569.14,290.17 570.21,289.79 571.29,289.41 572.36,289.03 573.43,288.64 574.51,288.26 575.58,287.88 576.65,287.49 577.72,287.11 578.80,286.73 579.87,286.34 580.94,285.96 582.02,285.58 583.09,285.19 584.16,284.81 585.23,284.43 586.31,284.05 587.38,283.66 588.45,283.28 589.53,282.90 590.60,282.51 591.67,282.13 592.74,281.75 593.82,281.36 594.89,280.98 595.96,280.60 597.04,280.22 598.11,279.83 599.18,279.45 600.25,279.07 601.33,278.68 602.40,278.30" fill="none" stroke="#f0141e" stroke-width="1.35" stroke-linejoin="round"/>
<polyline points="632.80,251.40 633.51,250.41 634.22,249.42 634.93,248.43 635.64,247.43 636.35,246.44 637.06,245.45 637.77,244.46 638.48,243.47 639.19,242.48 639.90,241.48 640.61,240.49 641.32,239.50 642.03,238.51 642.74,237.52 643.45,236.53 644.16,235.54 644.87,234.54 645.58,233.55 646.29,232.56 647.00,231.57 647.71,230.58 648.42,229.59 649.13,228.59 649.84,227.60 650.55,226.61 651.26,225.62 651.97,224.63 652.68,223.64 653.39,222.65 654.11,221.65 654.82,220.66 655.53,219.67 656.24,218.68 656.95,217.69 657.66,216.70 658.37,215.71 659.08,214.71 659.79,213.72 660.50,212.73 661.21,211.74 661.92,210.75 662.63,209.76 663.34,208.76 664.05,207.77 664.76,206.78 665.47,205.79 666.18,204.80 666.89,203.81 667.60,202.82 668.31,201.82 669.02,200.83 669.73,199.84 670.44,198.85 671.15,197.86 671.86,196.87 672.57,195.87 673.28,194.88 673.99,193.89 674.70,192.90" fill="none" stroke="#f0141e" stroke-width="1.35" stroke-linejoin="round"/>
</g>
<rect x="530.5" y="184" width="149.5" height="137.2" fill="none" stroke="#404040" stroke-width="1.1"/>
<text x="539.50" y="336" text-anchor="middle">10<tspan dy="-5" font-size="7.8">-2</tspan></text>
<text x="598.00" y="336" text-anchor="middle">10<tspan dy="-5" font-size="7.8">-1</tspan></text>
<text x="656.50" y="336" text-anchor="middle">10<tspan dy="-5" font-size="7.8">0</tspan></text>
<path d="M539.50,321.2v-2.5M539.50,184v2.5M598.00,321.2v-2.5M598.00,184v2.5M656.50,321.2v-2.5M656.50,184v2.5" stroke="#222" stroke-width="0.9"/>
<path d="M533.83,321.2v-1.5M533.83,184v1.5M536.82,321.2v-1.5M536.82,184v1.5M557.11,321.2v-1.5M557.11,184v1.5M567.41,321.2v-1.5M567.41,184v1.5M574.72,321.2v-1.5M574.72,184v1.5M580.39,321.2v-1.5M580.39,184v1.5M585.02,321.2v-1.5M585.02,184v1.5M588.94,321.2v-1.5M588.94,184v1.5M592.33,321.2v-1.5M592.33,184v1.5M595.32,321.2v-1.5M595.32,184v1.5M615.61,321.2v-1.5M615.61,184v1.5M625.91,321.2v-1.5M625.91,184v1.5M633.22,321.2v-1.5M633.22,184v1.5M638.89,321.2v-1.5M638.89,184v1.5M643.52,321.2v-1.5M643.52,184v1.5M647.44,321.2v-1.5M647.44,184v1.5M650.83,321.2v-1.5M650.83,184v1.5M653.82,321.2v-1.5M653.82,184v1.5M674.11,321.2v-1.5M674.11,184v1.5" stroke="#222" stroke-width="0.8"/>
<path d="M530.5,304.10h2.5M680,304.10h-2.5" stroke="#222" stroke-width="0.9"/>
<text x="527.5" y="309.00" text-anchor="end">-20</text>
<path d="M530.5,269.90h2.5M680,269.90h-2.5" stroke="#222" stroke-width="0.9"/>
<text x="527.5" y="274.80" text-anchor="end">-16</text>
<path d="M530.5,235.70h2.5M680,235.70h-2.5" stroke="#222" stroke-width="0.9"/>
<text x="527.5" y="240.60" text-anchor="end">-12</text>
<path d="M530.5,201.50h2.5M680,201.50h-2.5" stroke="#222" stroke-width="0.9"/>
<text x="527.5" y="206.40" text-anchor="end">-8</text>
<text x="605.7" y="347.9" text-anchor="middle">Voltage |<tspan font-style="italic">V</tspan>| (V)</text>
<text transform="translate(504.3,253.6) rotate(-90)" text-anchor="middle">log(<tspan font-style="italic">I</tspan>)  (log(A))</text>
<rect x="590.5" y="285" width="85" height="31" fill="#fff" stroke="#404040" stroke-width="1"/>
<circle cx="600.8" cy="293.4" r="1.4" fill="none" stroke="#15287a" stroke-width="0.5" opacity="0.55"/>
<text x="611.5" y="297.5">Negative <tspan font-style="italic">V</tspan></text>
<line x1="594" y1="307.7" x2="609" y2="307.7" stroke="#f0141e" stroke-width="1.5" opacity="0.75"/>
<text x="611.5" y="311.8">SCLC fit</text>
<text x="535.5" y="199.5" font-weight="bold" font-size="13">f</text>
<text transform="translate(541.9,251.6) rotate(-20)" fill="#f0141e" style="fill:#f0141e"><tspan font-style="italic">m</tspan> = 1.19</text>
<text transform="translate(598.5,227.5) rotate(-38)" fill="#f0141e" style="fill:#f0141e"><tspan font-style="italic">m</tspan> = 2.23</text>
<text transform="translate(543.4,293.7) rotate(-21)" fill="#f0141e" style="fill:#f0141e"><tspan font-style="italic">m</tspan> = 1.10</text>
<text transform="translate(646.7,260.1) rotate(-55)" fill="#f0141e" style="fill:#f0141e"><tspan font-style="italic">m</tspan> = 4.21</text>
<clipPath id="cpb"><rect x="37.5" y="180.5" width="195.2" height="145.0"/></clipPath>
<g clip-path="url(#cpb)">
<polyline points="134.5,243.5 134.1,238.5 133.6,235.8 133.1,233.8 132.6,232.1 132.2,230.8 131.7,229.6 131.2,228.4 130.7,227.3 130.3,226.2 129.8,225.0 129.3,223.9 128.9,222.9 128.4,221.8 127.9,220.9 127.4,219.9 127.0,219.1 126.5,218.3 126.0,217.5 125.5,216.8 125.1,216.2 124.6,215.6 124.1,215.1 123.7,214.6 123.2,214.1 122.7,213.6 122.2,213.2 121.8,212.7 121.3,212.3 120.8,211.9 120.4,211.5 119.9,211.1 119.4,210.8 118.9,210.4 118.5,210.0 118.0,209.7 117.5,209.3 117.0,209.0 116.6,208.7 116.1,208.4 115.6,208.1 115.2,207.8 114.7,207.5 114.2,207.2 113.7,207.0 113.3,206.7 112.8,206.4 112.3,206.2 111.8,205.9 111.4,205.7 110.9,205.4 110.4,205.2 110.0,204.9 109.5,204.7 109.0,204.5 108.5,204.3 108.1,204.0 107.6,203.8 107.1,203.6 106.6,203.4 106.2,203.3 105.7,203.1 105.2,202.9 104.8,202.8 104.3,202.6 103.8,202.5 103.3,202.4 102.9,202.3 102.4,202.1 101.9,202.0 101.5,201.9 101.0,201.8 100.5,201.7 100.0,201.6 99.6,201.5 99.1,201.4 98.6,201.3 98.1,201.2 97.7,201.1 97.2,201.0 96.7,201.0 96.3,200.9 95.8,200.8 95.3,200.7 94.8,200.7 94.4,200.6 93.9,200.6 93.4,200.5 92.9,200.4 92.5,200.4 92.0,200.4 91.5,200.3 91.1,200.3 90.6,200.2 90.1,200.2 89.6,200.1 89.2,200.1 88.7,200.1 88.2,200.0 87.8,200.0 87.3,199.9 86.8,199.9 86.3,199.9 85.9,199.8 85.4,199.8 84.9,199.8 84.4,199.7 84.0,199.7 83.5,199.7 83.0,199.6 82.6,199.6 82.1,199.6 81.6,199.6 81.1,199.5 80.7,199.5 80.2,199.5 79.7,199.5 79.2,199.5 78.8,199.5 78.3,199.4 77.8,199.4 77.4,199.4 76.9,199.4 76.4,199.4 75.9,199.4 75.5,199.4 75.0,199.4 74.5,199.4 74.0,199.4 73.6,199.4 73.1,199.4 72.6,199.4 72.2,199.4 71.7,199.4 71.2,199.4 70.7,199.4 70.3,199.4 69.8,199.4 69.3,199.4 68.9,199.4 68.4,199.4 67.9,199.4 67.4,199.4 67.0,199.4 66.5,199.4 66.0,199.4 65.5,199.4 65.1,199.4 64.6,199.4 64.1,199.4 63.7,199.4 63.2,199.4 62.7,199.4 62.2,199.4 61.8,199.4 61.3,199.4 60.8,199.4 60.3,199.4 59.9,199.3 59.4,199.3 58.9,199.3 58.5,199.3 58.0,199.3 57.5,199.3 57.0,199.3 56.6,199.3 56.1,199.3 55.6,199.3 55.1,199.3 54.7,199.3 54.2,199.3 53.7,199.2 53.3,199.2 52.8,199.2 52.3,199.2 51.8,199.2 51.4,199.2 50.9,199.2 50.4,199.1 49.9,199.1 49.5,199.1 49.0,199.1 48.5,199.1 48.1,199.1 47.6,199.0 47.1,199.0 46.6,199.0 46.2,199.0 45.7,199.0 45.2,198.9 44.8,198.9 44.3,198.9 43.8,198.9 43.3,198.9 42.9,198.8 42.4,198.8 41.9,198.8 41.4,198.8 41.0,198.8 40.5,198.7" fill="none" stroke="none" marker-start="url(#mkb)" marker-mid="url(#mkb)" marker-end="url(#mkb)"/>
<polyline points="134.5,273.8 134.1,269.2 133.6,266.6 133.1,264.8 132.6,263.5 132.2,262.5 131.7,261.6 131.2,260.7 130.7,259.9 130.3,259.1 129.8,258.3 129.3,257.5 128.9,256.7 128.4,256.0 127.9,255.3 127.4,254.6 127.0,254.0 126.5,253.3 126.0,252.6 125.5,251.9 125.1,251.2 124.6,250.5 124.1,249.7 123.7,249.0 123.2,248.2 122.7,247.5 122.2,246.9 121.8,246.2 121.3,245.6 120.8,244.9 120.4,244.3 119.9,243.7 119.4,243.1 118.9,242.5 118.5,241.9 118.0,241.4 117.5,240.8 117.0,240.3 116.6,239.7 116.1,239.2 115.6,238.7 115.2,238.2 114.7,237.7 114.2,237.2 113.7,236.7 113.3,236.2 112.8,235.8 112.3,235.3 111.8,234.8 111.4,234.4 110.9,234.0 110.4,233.5 110.0,233.1 109.5,232.7 109.0,232.3 108.5,231.8 108.1,231.4 107.6,231.0 107.1,230.6 106.6,230.2 106.2,229.8 105.7,229.5 105.2,229.1 104.8,228.7 104.3,228.3 103.8,227.9 103.3,227.5 102.9,227.2 102.4,226.8 101.9,226.4 101.5,226.1 101.0,225.7 100.5,225.3 100.0,225.0 99.6,224.6 99.1,224.3 98.6,223.9 98.1,223.6 97.7,223.3 97.2,222.9 96.7,222.6 96.3,222.3 95.8,221.9 95.3,221.6 94.8,221.3 94.4,220.9 93.9,220.6 93.4,220.3 92.9,219.9 92.5,219.6 92.0,219.3 91.5,219.0 91.1,218.6 90.6,218.3 90.1,218.0 89.6,217.7 89.2,217.4 88.7,217.1 88.2,216.8 87.8,216.5 87.3,216.2 86.8,216.0 86.3,215.7 85.9,215.4 85.4,215.1 84.9,214.9 84.4,214.6 84.0,214.4 83.5,214.2 83.0,213.9 82.6,213.7 82.1,213.5 81.6,213.3 81.1,213.1 80.7,212.9 80.2,212.7 79.7,212.5 79.2,212.3 78.8,212.1 78.3,211.9 77.8,211.7 77.4,211.5 76.9,211.3 76.4,211.1 75.9,210.9 75.5,210.8 75.0,210.6 74.5,210.4 74.0,210.2 73.6,210.1 73.1,209.9 72.6,209.7 72.2,209.6 71.7,209.4 71.2,209.2 70.7,209.0 70.3,208.9 69.8,208.7 69.3,208.5 68.9,208.4 68.4,208.2 67.9,208.0 67.4,207.8 67.0,207.7 66.5,207.5 66.0,207.3 65.5,207.1 65.1,206.9 64.6,206.8 64.1,206.6 63.7,206.4 63.2,206.2 62.7,206.0 62.2,205.8 61.8,205.7 61.3,205.5 60.8,205.3 60.3,205.1 59.9,204.9 59.4,204.8 58.9,204.6 58.5,204.4 58.0,204.3 57.5,204.1 57.0,204.0 56.6,203.9 56.1,203.7 55.6,203.6 55.1,203.4 54.7,203.3 54.2,203.2 53.7,203.1 53.3,202.9 52.8,202.8 52.3,202.7 51.8,202.6 51.4,202.4 50.9,202.3 50.4,202.2 49.9,202.0 49.5,201.9 49.0,201.8 48.5,201.6 48.1,201.5 47.6,201.3 47.1,201.2 46.6,201.0 46.2,200.9 45.7,200.7 45.2,200.5 44.8,200.4 44.3,200.2 43.8,200.0 43.3,199.8 42.9,199.7 42.4,199.5 41.9,199.3 41.4,199.1 41.0,198.9 40.5,198.7" fill="none" stroke="none" marker-start="url(#mkb)" marker-mid="url(#mkb)" marker-end="url(#mkb)"/>
<polyline points="135.5,243.8 135.9,239.2 136.4,236.7 136.9,235.0 137.4,233.6 137.8,232.6 138.3,231.6 138.8,230.7 139.3,229.8 139.7,228.9 140.2,228.1 140.7,227.4 141.1,226.7 141.6,226.1 142.1,225.5 142.6,224.8 143.0,224.2 143.5,223.5 144.0,222.9 144.4,222.2 144.9,221.6 145.4,221.0 145.9,220.4 146.3,219.9 146.8,219.3 147.3,218.8 147.8,218.2 148.2,217.7 148.7,217.2 149.2,216.6 149.6,216.1 150.1,215.6 150.6,215.1 151.1,214.6 151.5,214.1 152.0,213.6 152.5,213.1 153.0,212.6 153.4,212.1 153.9,211.6 154.4,211.1 154.8,210.7 155.3,210.2 155.8,209.8 156.3,209.3 156.7,208.9 157.2,208.4 157.7,208.0 158.2,207.6 158.6,207.1 159.1,206.7 159.6,206.3 160.0,205.9 160.5,205.5 161.0,205.1 161.5,204.7 161.9,204.3 162.4,204.0 162.9,203.6 163.4,203.3 163.8,203.0 164.3,202.6 164.8,202.3 165.2,202.0 165.7,201.7 166.2,201.4 166.7,201.1 167.1,200.9 167.6,200.6 168.1,200.3 168.5,200.0 169.0,199.8 169.5,199.5 170.0,199.3 170.4,199.0 170.9,198.8 171.4,198.5 171.9,198.3 172.3,198.0 172.8,197.8 173.3,197.6 173.7,197.3 174.2,197.1 174.7,196.9 175.2,196.7 175.6,196.4 176.1,196.2 176.6,196.0 177.1,195.8 177.5,195.6 178.0,195.4 178.5,195.2 178.9,195.0 179.4,194.8 179.9,194.6 180.4,194.4 180.8,194.2 181.3,194.0 181.8,193.8 182.2,193.6 182.7,193.5 183.2,193.3 183.7,193.1 184.1,192.9 184.6,192.8 185.1,192.6 185.6,192.4 186.0,192.3 186.5,192.1 187.0,192.0 187.4,191.8 187.9,191.7 188.4,191.6 188.9,191.4 189.3,191.3 189.8,191.2 190.3,191.0 190.8,190.9 191.2,190.8 191.7,190.7 192.2,190.5 192.6,190.4 193.1,190.3 193.6,190.2 194.1,190.1 194.5,190.0 195.0,189.9 195.5,189.8 196.0,189.7 196.4,189.6 196.9,189.5 197.4,189.5 197.8,189.4 198.3,189.3 198.8,189.2 199.3,189.2 199.7,189.1 200.2,189.0 200.7,188.9 201.2,188.9 201.6,188.8 202.1,188.8 202.6,188.7 203.0,188.6 203.5,188.6 204.0,188.5 204.5,188.5 204.9,188.4 205.4,188.3 205.9,188.3 206.3,188.2 206.8,188.1 207.3,188.1 207.8,188.0 208.2,188.0 208.7,187.9 209.2,187.8 209.7,187.8 210.1,187.7 210.6,187.6 211.1,187.6 211.5,187.5 212.0,187.5 212.5,187.4 213.0,187.4 213.4,187.3 213.9,187.3 214.4,187.2 214.9,187.2 215.3,187.1 215.8,187.1 216.3,187.0 216.7,187.0 217.2,187.0 217.7,186.9 218.2,186.9 218.6,186.8 219.1,186.8 219.6,186.7 220.0,186.7 220.5,186.7 221.0,186.6 221.5,186.6 221.9,186.5 222.4,186.5 222.9,186.5 223.4,186.4 223.8,186.4 224.3,186.3 224.8,186.3 225.2,186.3 225.7,186.2 226.2,186.2 226.7,186.2 227.1,186.1 227.6,186.1 228.1,186.1 228.6,186.1 229.0,186.0 229.5,186.0" fill="none" stroke="none" marker-start="url(#mkb)" marker-mid="url(#mkb)" marker-end="url(#mkb)"/>
<polyline points="135.5,273.1 135.9,268.7 136.4,265.8 136.9,263.8 137.4,262.3 137.8,261.1 138.3,260.1 138.8,259.2 139.3,258.3 139.7,257.4 140.2,256.5 140.7,255.7 141.1,254.9 141.6,254.0 142.1,253.1 142.6,252.2 143.0,251.3 143.5,250.4 144.0,249.5 144.4,248.6 144.9,247.7 145.4,246.8 145.9,245.9 146.3,245.1 146.8,244.2 147.3,243.3 147.8,242.4 148.2,241.5 148.7,240.5 149.2,239.6 149.6,238.7 150.1,237.9 150.6,237.0 151.1,236.2 151.5,235.3 152.0,234.5 152.5,233.8 153.0,233.0 153.4,232.3 153.9,231.5 154.4,230.8 154.8,230.1 155.3,229.4 155.8,228.7 156.3,228.0 156.7,227.3 157.2,226.7 157.7,226.0 158.2,225.4 158.6,224.7 159.1,224.1 159.6,223.5 160.0,222.9 160.5,222.3 161.0,221.7 161.5,221.1 161.9,220.5 162.4,219.9 162.9,219.3 163.4,218.8 163.8,218.2 164.3,217.7 164.8,217.1 165.2,216.5 165.7,216.0 166.2,215.5 166.7,214.9 167.1,214.4 167.6,213.9 168.1,213.3 168.5,212.8 169.0,212.3 169.5,211.8 170.0,211.3 170.4,210.8 170.9,210.3 171.4,209.8 171.9,209.3 172.3,208.8 172.8,208.3 173.3,207.8 173.7,207.3 174.2,206.8 174.7,206.4 175.2,205.9 175.6,205.4 176.1,204.9 176.6,204.5 177.1,204.0 177.5,203.5 178.0,203.1 178.5,202.6 178.9,202.2 179.4,201.7 179.9,201.3 180.4,200.9 180.8,200.4 181.3,200.0 181.8,199.6 182.2,199.2 182.7,198.8 183.2,198.4 183.7,198.0 184.1,197.7 184.6,197.3 185.1,196.9 185.6,196.6 186.0,196.2 186.5,195.9 187.0,195.6 187.4,195.3 187.9,195.1 188.4,194.8 188.9,194.5 189.3,194.3 189.8,194.1 190.3,193.8 190.8,193.6 191.2,193.4 191.7,193.2 192.2,193.0 192.6,192.8 193.1,192.6 193.6,192.4 194.1,192.3 194.5,192.1 195.0,191.9 195.5,191.8 196.0,191.6 196.4,191.5 196.9,191.4 197.4,191.3 197.8,191.1 198.3,191.0 198.8,190.9 199.3,190.8 199.7,190.7 200.2,190.6 200.7,190.5 201.2,190.4 201.6,190.3 202.1,190.3 202.6,190.2 203.0,190.1 203.5,190.0 204.0,189.9 204.5,189.8 204.9,189.7 205.4,189.7 205.9,189.6 206.3,189.5 206.8,189.4 207.3,189.3 207.8,189.3 208.2,189.2 208.7,189.1 209.2,189.0 209.7,188.9 210.1,188.9 210.6,188.8 211.1,188.7 211.5,188.6 212.0,188.6 212.5,188.5 213.0,188.4 213.4,188.3 213.9,188.3 214.4,188.2 214.9,188.1 215.3,188.0 215.8,188.0 216.3,187.9 216.7,187.8 217.2,187.8 217.7,187.7 218.2,187.6 218.6,187.6 219.1,187.5 219.6,187.4 220.0,187.4 220.5,187.3 221.0,187.3 221.5,187.2 221.9,187.1 222.4,187.1 222.9,187.0 223.4,186.9 223.8,186.9 224.3,186.8 224.8,186.7 225.2,186.7 225.7,186.6 226.2,186.6 226.7,186.5 227.1,186.4 227.6,186.4 228.1,186.3 228.6,186.2 229.0,186.2 229.5,186.1" fill="none" stroke="none" marker-start="url(#mkb)" marker-mid="url(#mkb)" marker-end="url(#mkb)"/>
<polyline points="121.37,212.57 121.75,213.06 122.12,213.56 122.48,214.06 122.84,214.55 123.19,215.05 123.54,215.55 123.88,216.05 124.22,216.54 124.55,217.04 124.87,217.54 125.20,218.04 125.51,218.53 125.82,219.03 126.13,219.53 126.43,220.02 126.72,220.52 127.02,221.02 127.30,221.52 127.58,222.01 127.86,222.51 128.12,223.01 128.39,223.51 128.65,224.00 128.90,224.50 129.15,225.00 129.39,225.49 129.63,225.99 129.87,226.49 130.09,226.99 130.32,227.48 130.54,227.98 130.75,228.48 130.96,228.98 131.16,229.47 131.35,229.97 131.55,230.47 131.73,230.96 131.91,231.46 132.09,231.96 132.26,232.46 132.43,232.95 132.59,233.45 132.74,233.95 132.89,234.45 133.04,234.94 133.18,235.44 133.31,235.94 133.44,236.43 133.57,236.93 133.69,237.43 133.80,237.93 133.91,238.42 134.01,238.92 134.11,239.42 134.21,239.91 134.29,240.41 134.38,240.91 134.45,241.41 134.53,241.90" fill="none" stroke="#f0141e" stroke-width="1.35" stroke-linejoin="round"/>
<polyline points="78.35,210.57 80.07,211.63 81.77,212.68 83.45,213.73 85.09,214.78 86.71,215.83 88.30,216.88 89.87,217.94 91.41,218.99 92.92,220.04 94.41,221.09 95.87,222.14 97.30,223.20 98.71,224.25 100.09,225.30 101.44,226.35 102.76,227.40 104.06,228.45 105.34,229.51 106.58,230.56 107.80,231.61 108.99,232.66 110.16,233.71 111.30,234.77 112.41,235.82 113.49,236.87 114.55,237.92 115.58,238.97 116.59,240.02 117.57,241.08 118.52,242.13 119.44,243.18 120.34,244.23 121.21,245.28 122.06,246.34 122.88,247.39 123.67,248.44 124.43,249.49 125.17,250.54 125.88,251.59 126.57,252.65 127.23,253.70 127.86,254.75 128.46,255.80 129.04,256.85 129.59,257.91 130.11,258.96 130.61,260.01 131.08,261.06 131.53,262.11 131.94,263.16 132.33,264.22 132.70,265.27 133.04,266.32 133.35,267.37 133.63,268.42 133.89,269.48 134.12,270.53 134.32,271.58 134.50,272.63" fill="none" stroke="#f0141e" stroke-width="1.35" stroke-linejoin="round"/>
<polyline points="135.89,240.33 136.05,239.67 136.22,239.00 136.41,238.33 136.61,237.67 136.83,237.00 137.06,236.33 137.30,235.66 137.55,235.00 137.82,234.33 138.10,233.66 138.40,233.00 138.71,232.33 139.03,231.66 139.37,230.99 139.72,230.33 140.08,229.66 140.46,228.99 140.85,228.33 141.25,227.66 141.67,226.99 142.10,226.33 142.54,225.66 143.00,224.99 143.47,224.32 143.95,223.66 144.45,222.99 144.96,222.32 145.49,221.66 146.02,220.99 146.58,220.32 147.14,219.65 147.72,218.99 148.31,218.32 148.92,217.65 149.53,216.99 150.17,216.32 150.81,215.65 151.47,214.98 152.14,214.32 152.83,213.65 153.53,212.98 154.24,212.32 154.97,211.65 155.71,210.98 156.46,210.31 157.23,209.65 158.01,208.98 158.80,208.31 159.61,207.65 160.43,206.98 161.26,206.31 162.11,205.64 162.97,204.98 163.85,204.31 164.73,203.64 165.63,202.98 166.55,202.31 167.48,201.64 168.42,200.98" fill="none" stroke="#f0141e" stroke-width="1.35" stroke-linejoin="round"/>
<polyline points="135.44,276.68 135.60,275.38 135.77,274.09 135.96,272.80 136.18,271.51 136.42,270.21 136.68,268.92 136.96,267.63 137.27,266.34 137.59,265.04 137.94,263.75 138.31,262.46 138.71,261.17 139.12,259.88 139.56,258.58 140.02,257.29 140.50,256.00 141.00,254.71 141.52,253.41 142.07,252.12 142.64,250.83 143.23,249.54 143.84,248.25 144.48,246.95 145.13,245.66 145.81,244.37 146.51,243.08 147.24,241.78 147.98,240.49 148.75,239.20 149.53,237.91 150.35,236.62 151.18,235.32 152.03,234.03 152.91,232.74 153.81,231.45 154.73,230.15 155.67,228.86 156.63,227.57 157.62,226.28 158.63,224.98 159.66,223.69 160.71,222.40 161.79,221.11 162.88,219.82 164.00,218.52 165.14,217.23 166.30,215.94 167.49,214.65 168.69,213.35 169.92,212.06 171.17,210.77 172.45,209.48 173.74,208.19 175.06,206.89 176.39,205.60 177.75,204.31 179.14,203.02 180.54,201.72 181.97,200.43" fill="none" stroke="#f0141e" stroke-width="1.35" stroke-linejoin="round"/>
</g>
<rect x="40.5" y="183.5" width="189.2" height="139.0" fill="none" stroke="#404040" stroke-width="1.1"/>
<path d="M40.50,322.5v-2.5M40.50,183.5v2.5" stroke="#222" stroke-width="0.9"/>
<text x="40.50" y="336.6" text-anchor="middle">-2</text>
<path d="M64.12,322.5v-2.5M64.12,183.5v2.5" stroke="#222" stroke-width="0.9"/>
<text x="64.12" y="336.6" text-anchor="middle">-1.5</text>
<path d="M87.75,322.5v-2.5M87.75,183.5v2.5" stroke="#222" stroke-width="0.9"/>
<text x="87.75" y="336.6" text-anchor="middle">-1</text>
<path d="M111.38,322.5v-2.5M111.38,183.5v2.5" stroke="#222" stroke-width="0.9"/>
<text x="111.38" y="336.6" text-anchor="middle">-0.5</text>
<path d="M135.00,322.5v-2.5M135.00,183.5v2.5" stroke="#222" stroke-width="0.9"/>
<text x="135.00" y="336.6" text-anchor="middle">0</text>
<path d="M158.62,322.5v-2.5M158.62,183.5v2.5" stroke="#222" stroke-width="0.9"/>
<text x="158.62" y="336.6" text-anchor="middle">0.5</text>
<path d="M182.25,322.5v-2.5M182.25,183.5v2.5" stroke="#222" stroke-width="0.9"/>
<text x="182.25" y="336.6" text-anchor="middle">1</text>
<path d="M205.88,322.5v-2.5M205.88,183.5v2.5" stroke="#222" stroke-width="0.9"/>
<text x="205.88" y="336.6" text-anchor="middle">1.5</text>
<path d="M229.50,322.5v-2.5M229.50,183.5v2.5" stroke="#222" stroke-width="0.9"/>
<text x="229.50" y="336.6" text-anchor="middle">2</text>
<text x="37.5" y="327.80" text-anchor="end">10<tspan dy="-5" font-size="7.8">-12</tspan></text>
<text x="37.5" y="300.00" text-anchor="end">10<tspan dy="-5" font-size="7.8">-10</tspan></text>
<text x="37.5" y="272.20" text-anchor="end">10<tspan dy="-5" font-size="7.8">-8</tspan></text>
<text x="37.5" y="244.40" text-anchor="end">10<tspan dy="-5" font-size="7.8">-6</tspan></text>
<text x="37.5" y="216.60" text-anchor="end">10<tspan dy="-5" font-size="7.8">-4</tspan></text>
<text x="37.5" y="188.80" text-anchor="end">10<tspan dy="-5" font-size="7.8">-2</tspan></text>
<path d="M40.5,322.50h2.5M229.7,322.50h-2.5M40.5,308.60h2.5M229.7,308.60h-2.5M40.5,294.70h2.5M229.7,294.70h-2.5M40.5,280.80h2.5M229.7,280.80h-2.5M40.5,266.90h2.5M229.7,266.90h-2.5M40.5,253.00h2.5M229.7,253.00h-2.5M40.5,239.10h2.5M229.7,239.10h-2.5M40.5,225.20h2.5M229.7,225.20h-2.5M40.5,211.30h2.5M229.7,211.30h-2.5M40.5,197.40h2.5M229.7,197.40h-2.5M40.5,183.50h2.5M229.7,183.50h-2.5" stroke="#222" stroke-width="0.9"/>
<path d="M40.5,318.32h1.5M229.7,318.32h-1.5M40.5,315.87h1.5M229.7,315.87h-1.5M40.5,314.13h1.5M229.7,314.13h-1.5M40.5,312.78h1.5M229.7,312.78h-1.5M40.5,311.68h1.5M229.7,311.68h-1.5M40.5,310.75h1.5M229.7,310.75h-1.5M40.5,309.95h1.5M229.7,309.95h-1.5M40.5,309.24h1.5M229.7,309.24h-1.5M40.5,304.42h1.5M229.7,304.42h-1.5M40.5,301.97h1.5M229.7,301.97h-1.5M40.5,300.23h1.5M229.7,300.23h-1.5M40.5,298.88h1.5M229.7,298.88h-1.5M40.5,297.78h1.5M229.7,297.78h-1.5M40.5,296.85h1.5M229.7,296.85h-1.5M40.5,296.05h1.5M229.7,296.05h-1.5M40.5,295.34h1.5M229.7,295.34h-1.5M40.5,290.52h1.5M229.7,290.52h-1.5M40.5,288.07h1.5M229.7,288.07h-1.5M40.5,286.33h1.5M229.7,286.33h-1.5M40.5,284.98h1.5M229.7,284.98h-1.5M40.5,283.88h1.5M229.7,283.88h-1.5M40.5,282.95h1.5M229.7,282.95h-1.5M40.5,282.15h1.5M229.7,282.15h-1.5M40.5,281.44h1.5M229.7,281.44h-1.5M40.5,276.62h1.5M229.7,276.62h-1.5M40.5,274.17h1.5M229.7,274.17h-1.5M40.5,272.43h1.5M229.7,272.43h-1.5M40.5,271.08h1.5M229.7,271.08h-1.5M40.5,269.98h1.5M229.7,269.98h-1.5M40.5,269.05h1.5M229.7,269.05h-1.5M40.5,268.25h1.5M229.7,268.25h-1.5M40.5,267.54h1.5M229.7,267.54h-1.5M40.5,262.72h1.5M229.7,262.72h-1.5M40.5,260.27h1.5M229.7,260.27h-1.5M40.5,258.53h1.5M229.7,258.53h-1.5M40.5,257.18h1.5M229.7,257.18h-1.5M40.5,256.08h1.5M229.7,256.08h-1.5M40.5,255.15h1.5M229.7,255.15h-1.5M40.5,254.35h1.5M229.7,254.35h-1.5M40.5,253.64h1.5M229.7,253.64h-1.5M40.5,248.82h1.5M229.7,248.82h-1.5M40.5,246.37h1.5M229.7,246.37h-1.5M40.5,244.63h1.5M229.7,244.63h-1.5M40.5,243.28h1.5M229.7,243.28h-1.5M40.5,242.18h1.5M229.7,242.18h-1.5M40.5,241.25h1.5M229.7,241.25h-1.5M40.5,240.45h1.5M229.7,240.45h-1.5M40.5,239.74h1.5M229.7,239.74h-1.5M40.5,234.92h1.5M229.7,234.92h-1.5M40.5,232.47h1.5M229.7,232.47h-1.5M40.5,230.73h1.5M229.7,230.73h-1.5M40.5,229.38h1.5M229.7,229.38h-1.5M40.5,228.28h1.5M229.7,228.28h-1.5M40.5,227.35h1.5M229.7,227.35h-1.5M40.5,226.55h1.5M229.7,226.55h-1.5M40.5,225.84h1.5M229.7,225.84h-1.5M40.5,221.02h1.5M229.7,221.02h-1.5M40.5,218.57h1.5M229.7,218.57h-1.5M40.5,216.83h1.5M229.7,216.83h-1.5M40.5,215.48h1.5M229.7,215.48h-1.5M40.5,214.38h1.5M229.7,214.38h-1.5M40.5,213.45h1.5M229.7,213.45h-1.5M40.5,212.65h1.5M229.7,212.65h-1.5M40.5,211.94h1.5M229.7,211.94h-1.5M40.5,207.12h1.5M229.7,207.12h-1.5M40.5,204.67h1.5M229.7,204.67h-1.5M40.5,202.93h1.5M229.7,202.93h-1.5M40.5,201.58h1.5M229.7,201.58h-1.5M40.5,200.48h1.5M229.7,200.48h-1.5M40.5,199.55h1.5M229.7,199.55h-1.5M40.5,198.75h1.5M229.7,198.75h-1.5M40.5,198.04h1.5M229.7,198.04h-1.5M40.5,193.22h1.5M229.7,193.22h-1.5M40.5,190.77h1.5M229.7,190.77h-1.5M40.5,189.03h1.5M229.7,189.03h-1.5M40.5,187.68h1.5M229.7,187.68h-1.5M40.5,186.58h1.5M229.7,186.58h-1.5M40.5,185.65h1.5M229.7,185.65h-1.5M40.5,184.85h1.5M229.7,184.85h-1.5M40.5,184.14h1.5M229.7,184.14h-1.5" stroke="#222" stroke-width="0.8"/>
<text x="135" y="350.7" text-anchor="middle">Voltage <tspan font-style="italic">V</tspan> (V)</text>
<text transform="translate(12.0,253.0) rotate(-90)" text-anchor="middle">Current <tspan font-style="italic">I</tspan> (A)</text>
<rect x="45.5" y="287" width="138" height="30.3" fill="#fff" stroke="#404040" stroke-width="1"/>
<circle cx="55.8" cy="295.2" r="1.4" fill="none" stroke="#15287a" stroke-width="0.5" opacity="0.55"/>
<text x="66.3" y="298.6">Measured</text>
<line x1="48.2" y1="309.2" x2="63.2" y2="309.2" stroke="#f0141e" stroke-width="1.5" opacity="0.75"/>
<text x="66.3" y="313.2">Schottky emission fit</text>
<text x="216.2" y="317.5" font-weight="bold" font-size="13">b</text>
<clipPath id="cpd"><rect x="283.5" y="180.5" width="195.10000000000002" height="145.0"/></clipPath>
<g clip-path="url(#cpd)">
<polyline points="380.5,243.5 380.1,238.5 379.6,235.8 379.1,233.8 378.6,232.1 378.2,230.8 377.7,229.6 377.2,228.4 376.7,227.3 376.3,226.2 375.8,225.0 375.3,223.9 374.9,222.9 374.4,221.8 373.9,220.9 373.4,219.9 373.0,219.1 372.5,218.3 372.0,217.5 371.6,216.8 371.1,216.2 370.6,215.6 370.1,215.1 369.7,214.6 369.2,214.1 368.7,213.6 368.2,213.2 367.8,212.7 367.3,212.3 366.8,211.9 366.4,211.5 365.9,211.1 365.4,210.8 364.9,210.4 364.5,210.0 364.0,209.7 363.5,209.3 363.0,209.0 362.6,208.7 362.1,208.4 361.6,208.1 361.2,207.8 360.7,207.5 360.2,207.2 359.7,207.0 359.3,206.7 358.8,206.4 358.3,206.2 357.8,205.9 357.4,205.7 356.9,205.4 356.4,205.2 356.0,204.9 355.5,204.7 355.0,204.5 354.5,204.3 354.1,204.0 353.6,203.8 353.1,203.6 352.6,203.4 352.2,203.3 351.7,203.1 351.2,202.9 350.8,202.8 350.3,202.6 349.8,202.5 349.3,202.4 348.9,202.3 348.4,202.1 347.9,202.0 347.5,201.9 347.0,201.8 346.5,201.7 346.0,201.6 345.6,201.5 345.1,201.4 344.6,201.3 344.1,201.2 343.7,201.1 343.2,201.0 342.7,201.0 342.3,200.9 341.8,200.8 341.3,200.7 340.8,200.7 340.4,200.6 339.9,200.6 339.4,200.5 338.9,200.4 338.5,200.4 338.0,200.4 337.5,200.3 337.1,200.3 336.6,200.2 336.1,200.2 335.6,200.1 335.2,200.1 334.7,200.1 334.2,200.0 333.8,200.0 333.3,199.9 332.8,199.9 332.3,199.9 331.9,199.8 331.4,199.8 330.9,199.8 330.4,199.7 330.0,199.7 329.5,199.7 329.0,199.6 328.6,199.6 328.1,199.6 327.6,199.6 327.1,199.5 326.7,199.5 326.2,199.5 325.7,199.5 325.2,199.5 324.8,199.5 324.3,199.4 323.8,199.4 323.4,199.4 322.9,199.4 322.4,199.4 321.9,199.4 321.5,199.4 321.0,199.4 320.5,199.4 320.0,199.4 319.6,199.4 319.1,199.4 318.6,199.4 318.2,199.4 317.7,199.4 317.2,199.4 316.7,199.4 316.3,199.4 315.8,199.4 315.3,199.4 314.9,199.4 314.4,199.4 313.9,199.4 313.4,199.4 313.0,199.4 312.5,199.4 312.0,199.4 311.5,199.4 311.1,199.4 310.6,199.4 310.1,199.4 309.7,199.4 309.2,199.4 308.7,199.4 308.2,199.4 307.8,199.4 307.3,199.4 306.8,199.4 306.3,199.4 305.9,199.3 305.4,199.3 304.9,199.3 304.5,199.3 304.0,199.3 303.5,199.3 303.0,199.3 302.6,199.3 302.1,199.3 301.6,199.3 301.1,199.3 300.7,199.3 300.2,199.3 299.7,199.2 299.3,199.2 298.8,199.2 298.3,199.2 297.8,199.2 297.4,199.2 296.9,199.2 296.4,199.1 295.9,199.1 295.5,199.1 295.0,199.1 294.5,199.1 294.1,199.1 293.6,199.0 293.1,199.0 292.6,199.0 292.2,199.0 291.7,199.0 291.2,198.9 290.8,198.9 290.3,198.9 289.8,198.9 289.3,198.9 288.9,198.8 288.4,198.8 287.9,198.8 287.4,198.8 287.0,198.8 286.5,198.7" fill="none" stroke="none" marker-start="url(#mkd)" marker-mid="url(#mkd)" marker-end="url(#mkd)"/>
<polyline points="380.5,273.8 380.1,269.2 379.6,266.6 379.1,264.8 378.6,263.5 378.2,262.5 377.7,261.6 377.2,260.7 376.7,259.9 376.3,259.1 375.8,258.3 375.3,257.5 374.9,256.7 374.4,256.0 373.9,255.3 373.4,254.6 373.0,254.0 372.5,253.3 372.0,252.6 371.6,251.9 371.1,251.2 370.6,250.5 370.1,249.7 369.7,249.0 369.2,248.2 368.7,247.5 368.2,246.9 367.8,246.2 367.3,245.6 366.8,244.9 366.4,244.3 365.9,243.7 365.4,243.1 364.9,242.5 364.5,241.9 364.0,241.4 363.5,240.8 363.0,240.3 362.6,239.7 362.1,239.2 361.6,238.7 361.2,238.2 360.7,237.7 360.2,237.2 359.7,236.7 359.3,236.2 358.8,235.8 358.3,235.3 357.8,234.8 357.4,234.4 356.9,234.0 356.4,233.5 356.0,233.1 355.5,232.7 355.0,232.3 354.5,231.8 354.1,231.4 353.6,231.0 353.1,230.6 352.6,230.2 352.2,229.8 351.7,229.5 351.2,229.1 350.8,228.7 350.3,228.3 349.8,227.9 349.3,227.5 348.9,227.2 348.4,226.8 347.9,226.4 347.5,226.1 347.0,225.7 346.5,225.3 346.0,225.0 345.6,224.6 345.1,224.3 344.6,223.9 344.1,223.6 343.7,223.3 343.2,222.9 342.7,222.6 342.3,222.3 341.8,221.9 341.3,221.6 340.8,221.3 340.4,220.9 339.9,220.6 339.4,220.3 338.9,219.9 338.5,219.6 338.0,219.3 337.5,219.0 337.1,218.6 336.6,218.3 336.1,218.0 335.6,217.7 335.2,217.4 334.7,217.1 334.2,216.8 333.8,216.5 333.3,216.2 332.8,216.0 332.3,215.7 331.9,215.4 331.4,215.1 330.9,214.9 330.4,214.6 330.0,214.4 329.5,214.2 329.0,213.9 328.6,213.7 328.1,213.5 327.6,213.3 327.1,213.1 326.7,212.9 326.2,212.7 325.7,212.5 325.2,212.3 324.8,212.1 324.3,211.9 323.8,211.7 323.4,211.5 322.9,211.3 322.4,211.1 321.9,210.9 321.5,210.8 321.0,210.6 320.5,210.4 320.0,210.2 319.6,210.1 319.1,209.9 318.6,209.7 318.2,209.6 317.7,209.4 317.2,209.2 316.7,209.0 316.3,208.9 315.8,208.7 315.3,208.5 314.9,208.4 314.4,208.2 313.9,208.0 313.4,207.8 313.0,207.7 312.5,207.5 312.0,207.3 311.5,207.1 311.1,206.9 310.6,206.8 310.1,206.6 309.7,206.4 309.2,206.2 308.7,206.0 308.2,205.8 307.8,205.7 307.3,205.5 306.8,205.3 306.3,205.1 305.9,204.9 305.4,204.8 304.9,204.6 304.5,204.4 304.0,204.3 303.5,204.1 303.0,204.0 302.6,203.9 302.1,203.7 301.6,203.6 301.1,203.4 300.7,203.3 300.2,203.2 299.7,203.1 299.3,202.9 298.8,202.8 298.3,202.7 297.8,202.6 297.4,202.4 296.9,202.3 296.4,202.2 295.9,202.0 295.5,201.9 295.0,201.8 294.5,201.6 294.1,201.5 293.6,201.3 293.1,201.2 292.6,201.0 292.2,200.9 291.7,200.7 291.2,200.5 290.8,200.4 290.3,200.2 289.8,200.0 289.3,199.8 288.9,199.7 288.4,199.5 287.9,199.3 287.4,199.1 287.0,198.9 286.5,198.7" fill="none" stroke="none" marker-start="url(#mkd)" marker-mid="url(#mkd)" marker-end="url(#mkd)"/>
<polyline points="381.5,243.8 381.9,239.2 382.4,236.7 382.9,235.0 383.4,233.6 383.8,232.6 384.3,231.6 384.8,230.7 385.3,229.8 385.7,228.9 386.2,228.1 386.7,227.4 387.1,226.7 387.6,226.1 388.1,225.5 388.6,224.8 389.0,224.2 389.5,223.5 390.0,222.9 390.4,222.2 390.9,221.6 391.4,221.0 391.9,220.4 392.3,219.9 392.8,219.3 393.3,218.8 393.8,218.2 394.2,217.7 394.7,217.2 395.2,216.6 395.6,216.1 396.1,215.6 396.6,215.1 397.1,214.6 397.5,214.1 398.0,213.6 398.5,213.1 399.0,212.6 399.4,212.1 399.9,211.6 400.4,211.1 400.8,210.7 401.3,210.2 401.8,209.8 402.3,209.3 402.7,208.9 403.2,208.4 403.7,208.0 404.2,207.6 404.6,207.1 405.1,206.7 405.6,206.3 406.0,205.9 406.5,205.5 407.0,205.1 407.5,204.7 407.9,204.3 408.4,204.0 408.9,203.6 409.4,203.3 409.8,203.0 410.3,202.6 410.8,202.3 411.2,202.0 411.7,201.7 412.2,201.4 412.7,201.1 413.1,200.9 413.6,200.6 414.1,200.3 414.5,200.0 415.0,199.8 415.5,199.5 416.0,199.3 416.4,199.0 416.9,198.8 417.4,198.5 417.9,198.3 418.3,198.0 418.8,197.8 419.3,197.6 419.7,197.3 420.2,197.1 420.7,196.9 421.2,196.7 421.6,196.4 422.1,196.2 422.6,196.0 423.1,195.8 423.5,195.6 424.0,195.4 424.5,195.2 424.9,195.0 425.4,194.8 425.9,194.6 426.4,194.4 426.8,194.2 427.3,194.0 427.8,193.8 428.2,193.6 428.7,193.5 429.2,193.3 429.7,193.1 430.1,192.9 430.6,192.8 431.1,192.6 431.6,192.4 432.0,192.3 432.5,192.1 433.0,192.0 433.4,191.8 433.9,191.7 434.4,191.6 434.9,191.4 435.3,191.3 435.8,191.2 436.3,191.0 436.8,190.9 437.2,190.8 437.7,190.7 438.2,190.5 438.6,190.4 439.1,190.3 439.6,190.2 440.1,190.1 440.5,190.0 441.0,189.9 441.5,189.8 442.0,189.7 442.4,189.6 442.9,189.5 443.4,189.5 443.8,189.4 444.3,189.3 444.8,189.2 445.3,189.2 445.7,189.1 446.2,189.0 446.7,188.9 447.1,188.9 447.6,188.8 448.1,188.8 448.6,188.7 449.0,188.6 449.5,188.6 450.0,188.5 450.5,188.5 450.9,188.4 451.4,188.3 451.9,188.3 452.3,188.2 452.8,188.1 453.3,188.1 453.8,188.0 454.2,188.0 454.7,187.9 455.2,187.8 455.7,187.8 456.1,187.7 456.6,187.6 457.1,187.6 457.5,187.5 458.0,187.5 458.5,187.4 459.0,187.4 459.4,187.3 459.9,187.3 460.4,187.2 460.9,187.2 461.3,187.1 461.8,187.1 462.3,187.0 462.7,187.0 463.2,187.0 463.7,186.9 464.2,186.9 464.6,186.8 465.1,186.8 465.6,186.7 466.0,186.7 466.5,186.7 467.0,186.6 467.5,186.6 467.9,186.5 468.4,186.5 468.9,186.5 469.4,186.4 469.8,186.4 470.3,186.3 470.8,186.3 471.2,186.3 471.7,186.2 472.2,186.2 472.7,186.2 473.1,186.1 473.6,186.1 474.1,186.1 474.6,186.1 475.0,186.0 475.5,186.0" fill="none" stroke="none" marker-start="url(#mkd)" marker-mid="url(#mkd)" marker-end="url(#mkd)"/>
<polyline points="381.5,273.1 381.9,268.7 382.4,265.8 382.9,263.8 383.4,262.3 383.8,261.1 384.3,260.1 384.8,259.2 385.3,258.3 385.7,257.4 386.2,256.5 386.7,255.7 387.1,254.9 387.6,254.0 388.1,253.1 388.6,252.2 389.0,251.3 389.5,250.4 390.0,249.5 390.4,248.6 390.9,247.7 391.4,246.8 391.9,245.9 392.3,245.1 392.8,244.2 393.3,243.3 393.8,242.4 394.2,241.5 394.7,240.5 395.2,239.6 395.6,238.7 396.1,237.9 396.6,237.0 397.1,236.2 397.5,235.3 398.0,234.5 398.5,233.8 399.0,233.0 399.4,232.3 399.9,231.5 400.4,230.8 400.8,230.1 401.3,229.4 401.8,228.7 402.3,228.0 402.7,227.3 403.2,226.7 403.7,226.0 404.2,225.4 404.6,224.7 405.1,224.1 405.6,223.5 406.0,222.9 406.5,222.3 407.0,221.7 407.5,221.1 407.9,220.5 408.4,219.9 408.9,219.3 409.4,218.8 409.8,218.2 410.3,217.7 410.8,217.1 411.2,216.5 411.7,216.0 412.2,215.5 412.7,214.9 413.1,214.4 413.6,213.9 414.1,213.3 414.5,212.8 415.0,212.3 415.5,211.8 416.0,211.3 416.4,210.8 416.9,210.3 417.4,209.8 417.9,209.3 418.3,208.8 418.8,208.3 419.3,207.8 419.7,207.3 420.2,206.8 420.7,206.4 421.2,205.9 421.6,205.4 422.1,204.9 422.6,204.5 423.1,204.0 423.5,203.5 424.0,203.1 424.5,202.6 424.9,202.2 425.4,201.7 425.9,201.3 426.4,200.9 426.8,200.4 427.3,200.0 427.8,199.6 428.2,199.2 428.7,198.8 429.2,198.4 429.7,198.0 430.1,197.7 430.6,197.3 431.1,196.9 431.6,196.6 432.0,196.2 432.5,195.9 433.0,195.6 433.4,195.3 433.9,195.1 434.4,194.8 434.9,194.5 435.3,194.3 435.8,194.1 436.3,193.8 436.8,193.6 437.2,193.4 437.7,193.2 438.2,193.0 438.6,192.8 439.1,192.6 439.6,192.4 440.1,192.3 440.5,192.1 441.0,191.9 441.5,191.8 442.0,191.6 442.4,191.5 442.9,191.4 443.4,191.3 443.8,191.1 444.3,191.0 444.8,190.9 445.3,190.8 445.7,190.7 446.2,190.6 446.7,190.5 447.1,190.4 447.6,190.3 448.1,190.3 448.6,190.2 449.0,190.1 449.5,190.0 450.0,189.9 450.5,189.8 450.9,189.7 451.4,189.7 451.9,189.6 452.3,189.5 452.8,189.4 453.3,189.3 453.8,189.3 454.2,189.2 454.7,189.1 455.2,189.0 455.7,188.9 456.1,188.9 456.6,188.8 457.1,188.7 457.5,188.6 458.0,188.6 458.5,188.5 459.0,188.4 459.4,188.3 459.9,188.3 460.4,188.2 460.9,188.1 461.3,188.0 461.8,188.0 462.3,187.9 462.7,187.8 463.2,187.8 463.7,187.7 464.2,187.6 464.6,187.6 465.1,187.5 465.6,187.4 466.0,187.4 466.5,187.3 467.0,187.3 467.5,187.2 467.9,187.1 468.4,187.1 468.9,187.0 469.4,186.9 469.8,186.9 470.3,186.8 470.8,186.7 471.2,186.7 471.7,186.6 472.2,186.6 472.7,186.5 473.1,186.4 473.6,186.4 474.1,186.3 474.6,186.2 475.0,186.2 475.5,186.1" fill="none" stroke="none" marker-start="url(#mkd)" marker-mid="url(#mkd)" marker-end="url(#mkd)"/>
<polyline points="360.29,207.22 360.72,207.55 361.15,207.89 361.57,208.22 361.99,208.56 362.40,208.89 362.81,209.23 363.21,209.57 363.61,209.91 364.00,210.26 364.39,210.60 364.78,210.95 365.16,211.30 365.54,211.65 365.91,212.00 366.27,212.35 366.64,212.71 366.99,213.06 367.35,213.42 367.70,213.78 368.04,214.15 368.38,214.51 368.72,214.88 369.05,215.25 369.37,215.62 369.70,215.99 370.01,216.37 370.33,216.75 370.63,217.13 370.94,217.51 371.24,217.90 371.53,218.29 371.82,218.68 372.11,219.08 372.39,219.48 372.67,219.88 372.94,220.28 373.21,220.69 373.47,221.11 373.73,221.52 373.98,221.94 374.23,222.36 374.48,222.79 374.72,223.22 374.95,223.66 375.18,224.10 375.41,224.54 375.63,224.99 375.85,225.45 376.07,225.91 376.27,226.37 376.48,226.85 376.68,227.32 376.87,227.81 377.07,228.30 377.25,228.80 377.43,229.30 377.61,229.81 377.78,230.33 377.95,230.86" fill="none" stroke="#f0141e" stroke-width="1.35" stroke-linejoin="round"/>
<polyline points="329.80,214.31 330.77,214.89 331.73,215.46 332.68,216.04 333.62,216.62 334.55,217.19 335.47,217.77 336.39,218.35 337.29,218.94 338.18,219.52 339.07,220.10 339.95,220.69 340.81,221.28 341.67,221.87 342.52,222.46 343.36,223.05 344.19,223.64 345.01,224.24 345.82,224.83 346.63,225.43 347.42,226.03 348.20,226.63 348.98,227.23 349.74,227.84 350.50,228.44 351.25,229.05 351.98,229.66 352.71,230.27 353.43,230.89 354.14,231.50 354.84,232.12 355.53,232.74 356.22,233.36 356.89,233.99 357.55,234.61 358.21,235.24 358.85,235.87 359.49,236.51 360.11,237.15 360.73,237.79 361.34,238.43 361.94,239.07 362.53,239.72 363.11,240.37 363.68,241.03 364.24,241.68 364.79,242.34 365.34,243.01 365.87,243.68 366.39,244.35 366.91,245.02 367.42,245.70 367.91,246.38 368.40,247.07 368.88,247.76 369.35,248.46 369.81,249.16 370.26,249.87 370.70,250.58 371.13,251.30" fill="none" stroke="#f0141e" stroke-width="1.35" stroke-linejoin="round"/>
<polyline points="390.40,222.31 390.77,221.78 391.14,221.25 391.53,220.72 391.92,220.20 392.31,219.68 392.72,219.17 393.13,218.66 393.55,218.15 393.97,217.64 394.40,217.14 394.84,216.65 395.29,216.15 395.74,215.66 396.20,215.17 396.67,214.68 397.15,214.20 397.63,213.72 398.12,213.24 398.61,212.77 399.12,212.30 399.63,211.82 400.15,211.36 400.67,210.89 401.20,210.43 401.74,209.96 402.29,209.51 402.84,209.05 403.40,208.59 403.97,208.14 404.54,207.69 405.12,207.24 405.71,206.79 406.30,206.34 406.91,205.90 407.52,205.45 408.13,205.01 408.76,204.57 409.39,204.13 410.03,203.70 410.67,203.26 411.32,202.83 411.98,202.39 412.65,201.96 413.32,201.53 414.00,201.10 414.69,200.68 415.38,200.25 416.09,199.83 416.80,199.40 417.51,198.98 418.23,198.56 418.96,198.14 419.70,197.72 420.45,197.30 421.20,196.88 421.96,196.47 422.72,196.05 423.49,195.64 424.27,195.23" fill="none" stroke="#f0141e" stroke-width="1.35" stroke-linejoin="round"/>
<polyline points="392.34,245.26 392.78,244.34 393.23,243.42 393.69,242.51 394.15,241.60 394.63,240.69 395.11,239.79 395.60,238.89 396.10,237.99 396.60,237.10 397.12,236.21 397.64,235.32 398.17,234.44 398.71,233.56 399.26,232.68 399.82,231.80 400.38,230.93 400.96,230.06 401.54,229.19 402.13,228.33 402.73,227.47 403.34,226.61 403.95,225.75 404.57,224.89 405.21,224.04 405.85,223.19 406.50,222.34 407.15,221.49 407.82,220.65 408.49,219.80 409.18,218.96 409.87,218.12 410.56,217.28 411.27,216.45 411.99,215.61 412.71,214.78 413.44,213.95 414.19,213.12 414.93,212.29 415.69,211.46 416.46,210.64 417.23,209.81 418.01,208.99 418.81,208.17 419.60,207.35 420.41,206.53 421.23,205.71 422.05,204.90 422.89,204.08 423.73,203.27 424.58,202.46 425.43,201.64 426.30,200.83 427.18,200.02 428.06,199.22 428.95,198.41 429.85,197.60 430.76,196.80 431.67,195.99 432.60,195.19" fill="none" stroke="#f0141e" stroke-width="1.35" stroke-linejoin="round"/>
</g>
<rect x="286.5" y="183.5" width="189.10000000000002" height="139.0" fill="none" stroke="#404040" stroke-width="1.1"/>
<path d="M286.50,322.5v-2.5M286.50,183.5v2.5" stroke="#222" stroke-width="0.9"/>
<text x="286.50" y="336.6" text-anchor="middle">-2</text>
<path d="M310.12,322.5v-2.5M310.12,183.5v2.5" stroke="#222" stroke-width="0.9"/>
<text x="310.12" y="336.6" text-anchor="middle">-1.5</text>
<path d="M333.75,322.5v-2.5M333.75,183.5v2.5" stroke="#222" stroke-width="0.9"/>
<text x="333.75" y="336.6" text-anchor="middle">-1</text>
<path d="M357.38,322.5v-2.5M357.38,183.5v2.5" stroke="#222" stroke-width="0.9"/>
<text x="357.38" y="336.6" text-anchor="middle">-0.5</text>
<path d="M381.00,322.5v-2.5M381.00,183.5v2.5" stroke="#222" stroke-width="0.9"/>
<text x="381.00" y="336.6" text-anchor="middle">0</text>
<path d="M404.62,322.5v-2.5M404.62,183.5v2.5" stroke="#222" stroke-width="0.9"/>
<text x="404.62" y="336.6" text-anchor="middle">0.5</text>
<path d="M428.25,322.5v-2.5M428.25,183.5v2.5" stroke="#222" stroke-width="0.9"/>
<text x="428.25" y="336.6" text-anchor="middle">1</text>
<path d="M451.88,322.5v-2.5M451.88,183.5v2.5" stroke="#222" stroke-width="0.9"/>
<text x="451.88" y="336.6" text-anchor="middle">1.5</text>
<path d="M475.50,322.5v-2.5M475.50,183.5v2.5" stroke="#222" stroke-width="0.9"/>
<text x="475.50" y="336.6" text-anchor="middle">2</text>
<text x="283.5" y="327.80" text-anchor="end">10<tspan dy="-5" font-size="7.8">-12</tspan></text>
<text x="283.5" y="300.00" text-anchor="end">10<tspan dy="-5" font-size="7.8">-10</tspan></text>
<text x="283.5" y="272.20" text-anchor="end">10<tspan dy="-5" font-size="7.8">-8</tspan></text>
<text x="283.5" y="244.40" text-anchor="end">10<tspan dy="-5" font-size="7.8">-6</tspan></text>
<text x="283.5" y="216.60" text-anchor="end">10<tspan dy="-5" font-size="7.8">-4</tspan></text>
<text x="283.5" y="188.80" text-anchor="end">10<tspan dy="-5" font-size="7.8">-2</tspan></text>
<path d="M286.5,322.50h2.5M475.6,322.50h-2.5M286.5,308.60h2.5M475.6,308.60h-2.5M286.5,294.70h2.5M475.6,294.70h-2.5M286.5,280.80h2.5M475.6,280.80h-2.5M286.5,266.90h2.5M475.6,266.90h-2.5M286.5,253.00h2.5M475.6,253.00h-2.5M286.5,239.10h2.5M475.6,239.10h-2.5M286.5,225.20h2.5M475.6,225.20h-2.5M286.5,211.30h2.5M475.6,211.30h-2.5M286.5,197.40h2.5M475.6,197.40h-2.5M286.5,183.50h2.5M475.6,183.50h-2.5" stroke="#222" stroke-width="0.9"/>
<path d="M286.5,318.32h1.5M475.6,318.32h-1.5M286.5,315.87h1.5M475.6,315.87h-1.5M286.5,314.13h1.5M475.6,314.13h-1.5M286.5,312.78h1.5M475.6,312.78h-1.5M286.5,311.68h1.5M475.6,311.68h-1.5M286.5,310.75h1.5M475.6,310.75h-1.5M286.5,309.95h1.5M475.6,309.95h-1.5M286.5,309.24h1.5M475.6,309.24h-1.5M286.5,304.42h1.5M475.6,304.42h-1.5M286.5,301.97h1.5M475.6,301.97h-1.5M286.5,300.23h1.5M475.6,300.23h-1.5M286.5,298.88h1.5M475.6,298.88h-1.5M286.5,297.78h1.5M475.6,297.78h-1.5M286.5,296.85h1.5M475.6,296.85h-1.5M286.5,296.05h1.5M475.6,296.05h-1.5M286.5,295.34h1.5M475.6,295.34h-1.5M286.5,290.52h1.5M475.6,290.52h-1.5M286.5,288.07h1.5M475.6,288.07h-1.5M286.5,286.33h1.5M475.6,286.33h-1.5M286.5,284.98h1.5M475.6,284.98h-1.5M286.5,283.88h1.5M475.6,283.88h-1.5M286.5,282.95h1.5M475.6,282.95h-1.5M286.5,282.15h1.5M475.6,282.15h-1.5M286.5,281.44h1.5M475.6,281.44h-1.5M286.5,276.62h1.5M475.6,276.62h-1.5M286.5,274.17h1.5M475.6,274.17h-1.5M286.5,272.43h1.5M475.6,272.43h-1.5M286.5,271.08h1.5M475.6,271.08h-1.5M286.5,269.98h1.5M475.6,269.98h-1.5M286.5,269.05h1.5M475.6,269.05h-1.5M286.5,268.25h1.5M475.6,268.25h-1.5M286.5,267.54h1.5M475.6,267.54h-1.5M286.5,262.72h1.5M475.6,262.72h-1.5M286.5,260.27h1.5M475.6,260.27h-1.5M286.5,258.53h1.5M475.6,258.53h-1.5M286.5,257.18h1.5M475.6,257.18h-1.5M286.5,256.08h1.5M475.6,256.08h-1.5M286.5,255.15h1.5M475.6,255.15h-1.5M286.5,254.35h1.5M475.6,254.35h-1.5M286.5,253.64h1.5M475.6,253.64h-1.5M286.5,248.82h1.5M475.6,248.82h-1.5M286.5,246.37h1.5M475.6,246.37h-1.5M286.5,244.63h1.5M475.6,244.63h-1.5M286.5,243.28h1.5M475.6,243.28h-1.5M286.5,242.18h1.5M475.6,242.18h-1.5M286.5,241.25h1.5M475.6,241.25h-1.5M286.5,240.45h1.5M475.6,240.45h-1.5M286.5,239.74h1.5M475.6,239.74h-1.5M286.5,234.92h1.5M475.6,234.92h-1.5M286.5,232.47h1.5M475.6,232.47h-1.5M286.5,230.73h1.5M475.6,230.73h-1.5M286.5,229.38h1.5M475.6,229.38h-1.5M286.5,228.28h1.5M475.6,228.28h-1.5M286.5,227.35h1.5M475.6,227.35h-1.5M286.5,226.55h1.5M475.6,226.55h-1.5M286.5,225.84h1.5M475.6,225.84h-1.5M286.5,221.02h1.5M475.6,221.02h-1.5M286.5,218.57h1.5M475.6,218.57h-1.5M286.5,216.83h1.5M475.6,216.83h-1.5M286.5,215.48h1.5M475.6,215.48h-1.5M286.5,214.38h1.5M475.6,214.38h-1.5M286.5,213.45h1.5M475.6,213.45h-1.5M286.5,212.65h1.5M475.6,212.65h-1.5M286.5,211.94h1.5M475.6,211.94h-1.5M286.5,207.12h1.5M475.6,207.12h-1.5M286.5,204.67h1.5M475.6,204.67h-1.5M286.5,202.93h1.5M475.6,202.93h-1.5M286.5,201.58h1.5M475.6,201.58h-1.5M286.5,200.48h1.5M475.6,200.48h-1.5M286.5,199.55h1.5M475.6,199.55h-1.5M286.5,198.75h1.5M475.6,198.75h-1.5M286.5,198.04h1.5M475.6,198.04h-1.5M286.5,193.22h1.5M475.6,193.22h-1.5M286.5,190.77h1.5M475.6,190.77h-1.5M286.5,189.03h1.5M475.6,189.03h-1.5M286.5,187.68h1.5M475.6,187.68h-1.5M286.5,186.58h1.5M475.6,186.58h-1.5M286.5,185.65h1.5M475.6,185.65h-1.5M286.5,184.85h1.5M475.6,184.85h-1.5M286.5,184.14h1.5M475.6,184.14h-1.5" stroke="#222" stroke-width="0.8"/>
<text x="381" y="350.7" text-anchor="middle">Voltage <tspan font-style="italic">V</tspan> (V)</text>
<text transform="translate(257.8,253.0) rotate(-90)" text-anchor="middle">Current <tspan font-style="italic">I</tspan> (A)</text>
<rect x="290.5" y="287.6" width="116" height="31.3" fill="#fff" stroke="#404040" stroke-width="1"/>
<circle cx="300.8" cy="295.8" r="1.4" fill="none" stroke="#15287a" stroke-width="0.5" opacity="0.55"/>
<text x="311.3" y="299.20000000000005">Measured</text>
<line x1="293.2" y1="309.8" x2="308.2" y2="309.8" stroke="#f0141e" stroke-width="1.5" opacity="0.75"/>
<text x="311.3" y="313.8">Poole-Frenkel fit</text>
<text x="461.6" y="317.5" font-weight="bold" font-size="13">d</text>
<clipPath id="cpi"><rect x="37.5" y="368.5" width="195.2" height="145.0"/></clipPath>
<g clip-path="url(#cpi)">
<polyline points="134.5,431.3 134.1,426.3 133.6,423.6 133.1,421.6 132.6,420.0 132.2,418.6 131.7,417.4 131.2,416.3 130.7,415.1 130.3,414.0 129.8,412.9 129.3,411.8 128.9,410.7 128.4,409.7 127.9,408.7 127.4,407.8 127.0,406.9 126.5,406.1 126.0,405.4 125.5,404.7 125.1,404.1 124.6,403.5 124.1,403.0 123.7,402.5 123.2,402.0 122.7,401.5 122.2,401.1 121.8,400.6 121.3,400.2 120.8,399.8 120.4,399.4 119.9,399.0 119.4,398.7 118.9,398.3 118.5,397.9 118.0,397.6 117.5,397.3 117.0,396.9 116.6,396.6 116.1,396.3 115.6,396.0 115.2,395.7 114.7,395.4 114.2,395.2 113.7,394.9 113.3,394.6 112.8,394.4 112.3,394.1 111.8,393.8 111.4,393.6 110.9,393.3 110.4,393.1 110.0,392.9 109.5,392.6 109.0,392.4 108.5,392.2 108.1,392.0 107.6,391.8 107.1,391.6 106.6,391.4 106.2,391.2 105.7,391.0 105.2,390.9 104.8,390.7 104.3,390.6 103.8,390.4 103.3,390.3 102.9,390.2 102.4,390.1 101.9,389.9 101.5,389.8 101.0,389.7 100.5,389.6 100.0,389.5 99.6,389.4 99.1,389.3 98.6,389.2 98.1,389.1 97.7,389.1 97.2,389.0 96.7,388.9 96.3,388.8 95.8,388.8 95.3,388.7 94.8,388.6 94.4,388.6 93.9,388.5 93.4,388.4 92.9,388.4 92.5,388.3 92.0,388.3 91.5,388.3 91.1,388.2 90.6,388.2 90.1,388.1 89.6,388.1 89.2,388.0 88.7,388.0 88.2,388.0 87.8,387.9 87.3,387.9 86.8,387.8 86.3,387.8 85.9,387.8 85.4,387.7 84.9,387.7 84.4,387.7 84.0,387.6 83.5,387.6 83.0,387.6 82.6,387.6 82.1,387.5 81.6,387.5 81.1,387.5 80.7,387.5 80.2,387.5 79.7,387.4 79.2,387.4 78.8,387.4 78.3,387.4 77.8,387.4 77.4,387.4 76.9,387.4 76.4,387.4 75.9,387.3 75.5,387.3 75.0,387.3 74.5,387.3 74.0,387.3 73.6,387.3 73.1,387.3 72.6,387.3 72.2,387.3 71.7,387.3 71.2,387.3 70.7,387.3 70.3,387.3 69.8,387.3 69.3,387.3 68.9,387.3 68.4,387.3 67.9,387.3 67.4,387.3 67.0,387.3 66.5,387.3 66.0,387.3 65.5,387.3 65.1,387.3 64.6,387.3 64.1,387.3 63.7,387.3 63.2,387.3 62.7,387.3 62.2,387.3 61.8,387.3 61.3,387.3 60.8,387.3 60.3,387.3 59.9,387.3 59.4,387.3 58.9,387.3 58.5,387.3 58.0,387.3 57.5,387.3 57.0,387.3 56.6,387.3 56.1,387.2 55.6,387.2 55.1,387.2 54.7,387.2 54.2,387.2 53.7,387.2 53.3,387.2 52.8,387.2 52.3,387.2 51.8,387.1 51.4,387.1 50.9,387.1 50.4,387.1 49.9,387.1 49.5,387.1 49.0,387.0 48.5,387.0 48.1,387.0 47.6,387.0 47.1,387.0 46.6,386.9 46.2,386.9 45.7,386.9 45.2,386.9 44.8,386.9 44.3,386.8 43.8,386.8 43.3,386.8 42.9,386.8 42.4,386.8 41.9,386.7 41.4,386.7 41.0,386.7 40.5,386.7" fill="none" stroke="none" marker-start="url(#mki)" marker-mid="url(#mki)" marker-end="url(#mki)"/>
<polyline points="134.5,461.5 134.1,456.8 133.6,454.2 133.1,452.4 132.6,451.0 132.2,449.9 131.7,449.0 131.2,448.1 130.7,447.3 130.3,446.4 129.8,445.6 129.3,444.8 128.9,444.0 128.4,443.2 127.9,442.5 127.4,441.8 127.0,441.1 126.5,440.4 126.0,439.7 125.5,439.0 125.1,438.3 124.6,437.6 124.1,436.8 123.7,436.0 123.2,435.3 122.7,434.6 122.2,433.9 121.8,433.2 121.3,432.5 120.8,431.9 120.4,431.3 119.9,430.6 119.4,430.0 118.9,429.4 118.5,428.8 118.0,428.3 117.5,427.7 117.0,427.1 116.6,426.6 116.1,426.1 115.6,425.5 115.2,425.0 114.7,424.5 114.2,424.0 113.7,423.5 113.3,423.0 112.8,422.5 112.3,422.0 111.8,421.5 111.4,421.0 110.9,420.5 110.4,420.1 110.0,419.6 109.5,419.2 109.0,418.8 108.5,418.3 108.1,417.9 107.6,417.5 107.1,417.1 106.6,416.7 106.2,416.4 105.7,416.0 105.2,415.6 104.8,415.2 104.3,414.8 103.8,414.4 103.3,414.1 102.9,413.7 102.4,413.3 101.9,413.0 101.5,412.6 101.0,412.2 100.5,411.9 100.0,411.5 99.6,411.2 99.1,410.8 98.6,410.5 98.1,410.1 97.7,409.8 97.2,409.5 96.7,409.1 96.3,408.8 95.8,408.5 95.3,408.1 94.8,407.8 94.4,407.5 93.9,407.1 93.4,406.8 92.9,406.5 92.5,406.2 92.0,405.9 91.5,405.5 91.1,405.2 90.6,404.9 90.1,404.6 89.6,404.3 89.2,404.0 88.7,403.7 88.2,403.5 87.8,403.2 87.3,402.9 86.8,402.6 86.3,402.4 85.9,402.1 85.4,401.9 84.9,401.6 84.4,401.4 84.0,401.1 83.5,400.9 83.0,400.7 82.6,400.5 82.1,400.3 81.6,400.1 81.1,399.9 80.7,399.7 80.2,399.5 79.7,399.3 79.2,399.1 78.8,398.9 78.3,398.8 77.8,398.6 77.4,398.4 76.9,398.2 76.4,398.1 75.9,397.9 75.5,397.8 75.0,397.6 74.5,397.5 74.0,397.3 73.6,397.1 73.1,397.0 72.6,396.8 72.2,396.7 71.7,396.5 71.2,396.4 70.7,396.2 70.3,396.1 69.8,395.9 69.3,395.8 68.9,395.6 68.4,395.5 67.9,395.3 67.4,395.1 67.0,395.0 66.5,394.8 66.0,394.6 65.5,394.5 65.1,394.3 64.6,394.1 64.1,394.0 63.7,393.8 63.2,393.6 62.7,393.4 62.2,393.3 61.8,393.1 61.3,392.9 60.8,392.7 60.3,392.6 59.9,392.4 59.4,392.3 58.9,392.1 58.5,391.9 58.0,391.8 57.5,391.7 57.0,391.5 56.6,391.4 56.1,391.3 55.6,391.1 55.1,391.0 54.7,390.9 54.2,390.8 53.7,390.7 53.3,390.5 52.8,390.4 52.3,390.3 51.8,390.2 51.4,390.1 50.9,389.9 50.4,389.8 49.9,389.7 49.5,389.6 49.0,389.4 48.5,389.3 48.1,389.2 47.6,389.0 47.1,388.9 46.6,388.7 46.2,388.6 45.7,388.4 45.2,388.2 44.8,388.1 44.3,387.9 43.8,387.7 43.3,387.6 42.9,387.4 42.4,387.2 41.9,387.0 41.4,386.9 41.0,386.7 40.5,386.5" fill="none" stroke="none" marker-start="url(#mki)" marker-mid="url(#mki)" marker-end="url(#mki)"/>
<polyline points="135.5,431.6 135.9,427.0 136.4,424.5 136.9,422.8 137.4,421.5 137.8,420.4 138.3,419.4 138.8,418.5 139.3,417.6 139.7,416.7 140.2,416.0 140.7,415.2 141.1,414.6 141.6,414.0 142.1,413.3 142.6,412.7 143.0,412.0 143.5,411.4 144.0,410.7 144.4,410.1 144.9,409.5 145.4,408.9 145.9,408.3 146.3,407.7 146.8,407.2 147.3,406.6 147.8,406.1 148.2,405.6 148.7,405.0 149.2,404.5 149.6,404.0 150.1,403.5 150.6,403.0 151.1,402.5 151.5,402.0 152.0,401.5 152.5,401.0 153.0,400.5 153.4,400.0 153.9,399.5 154.4,399.0 154.8,398.6 155.3,398.1 155.8,397.7 156.3,397.2 156.7,396.8 157.2,396.3 157.7,395.9 158.2,395.5 158.6,395.1 159.1,394.6 159.6,394.2 160.0,393.8 160.5,393.4 161.0,393.0 161.5,392.6 161.9,392.3 162.4,391.9 162.9,391.6 163.4,391.2 163.8,390.9 164.3,390.6 164.8,390.3 165.2,390.0 165.7,389.7 166.2,389.4 166.7,389.1 167.1,388.8 167.6,388.5 168.1,388.2 168.5,388.0 169.0,387.7 169.5,387.5 170.0,387.2 170.4,386.9 170.9,386.7 171.4,386.5 171.9,386.2 172.3,386.0 172.8,385.7 173.3,385.5 173.7,385.3 174.2,385.1 174.7,384.8 175.2,384.6 175.6,384.4 176.1,384.2 176.6,384.0 177.1,383.8 177.5,383.6 178.0,383.4 178.5,383.1 178.9,382.9 179.4,382.7 179.9,382.5 180.4,382.4 180.8,382.2 181.3,382.0 181.8,381.8 182.2,381.6 182.7,381.4 183.2,381.2 183.7,381.1 184.1,380.9 184.6,380.7 185.1,380.6 185.6,380.4 186.0,380.3 186.5,380.1 187.0,380.0 187.4,379.8 187.9,379.7 188.4,379.5 188.9,379.4 189.3,379.3 189.8,379.1 190.3,379.0 190.8,378.9 191.2,378.8 191.7,378.6 192.2,378.5 192.6,378.4 193.1,378.3 193.6,378.2 194.1,378.0 194.5,377.9 195.0,377.8 195.5,377.7 196.0,377.6 196.4,377.5 196.9,377.4 197.4,377.3 197.8,377.2 198.3,377.1 198.8,377.0 199.3,376.9 199.7,376.8 200.2,376.7 200.7,376.6 201.2,376.5 201.6,376.4 202.1,376.3 202.6,376.2 203.0,376.2 203.5,376.1 204.0,376.0 204.5,375.9 204.9,375.8 205.4,375.7 205.9,375.6 206.3,375.6 206.8,375.5 207.3,375.4 207.8,375.3 208.2,375.2 208.7,375.2 209.2,375.1 209.7,375.0 210.1,374.9 210.6,374.9 211.1,374.8 211.5,374.7 212.0,374.6 212.5,374.6 213.0,374.5 213.4,374.5 213.9,374.4 214.4,374.3 214.9,374.3 215.3,374.2 215.8,374.2 216.3,374.1 216.7,374.0 217.2,374.0 217.7,373.9 218.2,373.9 218.6,373.8 219.1,373.8 219.6,373.7 220.0,373.7 220.5,373.6 221.0,373.6 221.5,373.5 221.9,373.5 222.4,373.4 222.9,373.4 223.4,373.3 223.8,373.3 224.3,373.2 224.8,373.2 225.2,373.1 225.7,373.1 226.2,373.1 226.7,373.0 227.1,373.0 227.6,372.9 228.1,372.9 228.6,372.9 229.0,372.8 229.5,372.8" fill="none" stroke="none" marker-start="url(#mki)" marker-mid="url(#mki)" marker-end="url(#mki)"/>
<polyline points="135.5,460.8 135.9,456.4 136.4,453.5 136.9,451.5 137.4,450.0 137.8,448.8 138.3,447.8 138.8,446.9 139.3,446.0 139.7,445.1 140.2,444.3 140.7,443.4 141.1,442.6 141.6,441.7 142.1,440.8 142.6,439.9 143.0,438.9 143.5,438.0 144.0,437.1 144.4,436.2 144.9,435.3 145.4,434.4 145.9,433.5 146.3,432.6 146.8,431.7 147.3,430.7 147.8,429.8 148.2,428.9 148.7,427.9 149.2,427.0 149.6,426.1 150.1,425.2 150.6,424.3 151.1,423.4 151.5,422.6 152.0,421.8 152.5,421.0 153.0,420.2 153.4,419.4 153.9,418.6 154.4,417.9 154.8,417.2 155.3,416.4 155.8,415.7 156.3,415.0 156.7,414.3 157.2,413.6 157.7,413.0 158.2,412.3 158.6,411.7 159.1,411.0 159.6,410.4 160.0,409.8 160.5,409.1 161.0,408.5 161.5,407.9 161.9,407.3 162.4,406.7 162.9,406.2 163.4,405.6 163.8,405.0 164.3,404.5 164.8,403.9 165.2,403.3 165.7,402.8 166.2,402.3 166.7,401.7 167.1,401.2 167.6,400.7 168.1,400.2 168.5,399.7 169.0,399.2 169.5,398.7 170.0,398.2 170.4,397.7 170.9,397.2 171.4,396.7 171.9,396.2 172.3,395.7 172.8,395.3 173.3,394.8 173.7,394.3 174.2,393.9 174.7,393.4 175.2,392.9 175.6,392.5 176.1,392.0 176.6,391.6 177.1,391.1 177.5,390.7 178.0,390.2 178.5,389.8 178.9,389.4 179.4,389.0 179.9,388.5 180.4,388.1 180.8,387.7 181.3,387.3 181.8,386.9 182.2,386.6 182.7,386.2 183.2,385.8 183.7,385.5 184.1,385.1 184.6,384.7 185.1,384.4 185.6,384.1 186.0,383.8 186.5,383.5 187.0,383.2 187.4,382.9 187.9,382.7 188.4,382.5 188.9,382.2 189.3,382.0 189.8,381.8 190.3,381.6 190.8,381.4 191.2,381.2 191.7,381.0 192.2,380.8 192.6,380.6 193.1,380.4 193.6,380.2 194.1,380.1 194.5,379.9 195.0,379.7 195.5,379.6 196.0,379.4 196.4,379.2 196.9,379.1 197.4,379.0 197.8,378.8 198.3,378.7 198.8,378.6 199.3,378.4 199.7,378.3 200.2,378.2 200.7,378.1 201.2,378.0 201.6,377.9 202.1,377.7 202.6,377.6 203.0,377.5 203.5,377.4 204.0,377.3 204.5,377.2 204.9,377.1 205.4,377.0 205.9,376.9 206.3,376.8 206.8,376.7 207.3,376.6 207.8,376.5 208.2,376.4 208.7,376.3 209.2,376.2 209.7,376.1 210.1,376.0 210.6,375.9 211.1,375.9 211.5,375.8 212.0,375.7 212.5,375.6 213.0,375.5 213.4,375.4 213.9,375.3 214.4,375.3 214.9,375.2 215.3,375.1 215.8,375.0 216.3,374.9 216.7,374.9 217.2,374.8 217.7,374.7 218.2,374.6 218.6,374.6 219.1,374.5 219.6,374.4 220.0,374.3 220.5,374.3 221.0,374.2 221.5,374.1 221.9,374.0 222.4,374.0 222.9,373.9 223.4,373.8 223.8,373.7 224.3,373.7 224.8,373.6 225.2,373.5 225.7,373.5 226.2,373.4 226.7,373.3 227.1,373.3 227.6,373.2 228.1,373.1 228.6,373.0 229.0,373.0 229.5,372.9" fill="none" stroke="none" marker-start="url(#mki)" marker-mid="url(#mki)" marker-end="url(#mki)"/>
<polyline points="135.0,493.2 135.0,500.3" fill="none" stroke="none" marker-start="url(#mkz)" marker-mid="url(#mkz)" marker-end="url(#mkz)"/>
<polyline points="135.47,431.90 135.50,431.59 135.52,431.28 135.55,430.98 135.57,430.67 135.60,430.36 135.63,430.05 135.66,429.74 135.69,429.43 135.72,429.12 135.76,428.81 135.80,428.50 135.83,428.20 135.87,427.89 135.92,427.58 135.96,427.27 136.01,426.96 136.05,426.65 136.11,426.34 136.16,426.03 136.21,425.72 136.27,425.42 136.33,425.11 136.40,424.80 136.47,424.49 136.54,424.18 136.61,423.87 136.69,423.56 136.77,423.25 136.85,422.95 136.94,422.64 137.04,422.33 137.14,422.02 137.24,421.71 137.35,421.40 137.46,421.09 137.58,420.78 137.70,420.47 137.83,420.17 137.97,419.86 138.11,419.55 138.26,419.24 138.42,418.93 138.58,418.62 138.75,418.31 138.94,418.00 139.13,417.69 139.32,417.39 139.53,417.08 139.75,416.77 139.98,416.46 140.22,416.15 140.47,415.84 140.73,415.53 141.01,415.22 141.30,414.92 141.60,414.61 141.92,414.30 142.25,413.99 142.60,413.68" fill="none" stroke="#f0141e" stroke-width="1.35" stroke-linejoin="round"/>
<polyline points="135.47,461.18 135.49,460.93 135.51,460.67 135.53,460.42 135.55,460.17 135.57,459.91 135.59,459.66 135.62,459.41 135.64,459.15 135.66,458.90 135.69,458.65 135.71,458.39 135.74,458.14 135.77,457.89 135.80,457.63 135.83,457.38 135.86,457.13 135.89,456.87 135.93,456.62 135.96,456.37 136.00,456.11 136.04,455.86 136.08,455.61 136.12,455.35 136.16,455.10 136.20,454.85 136.25,454.59 136.30,454.34 136.35,454.09 136.40,453.83 136.45,453.58 136.50,453.33 136.56,453.07 136.62,452.82 136.68,452.57 136.75,452.31 136.81,452.06 136.88,451.81 136.95,451.55 137.03,451.30 137.10,451.05 137.18,450.79 137.27,450.54 137.35,450.29 137.44,450.03 137.53,449.78 137.63,449.53 137.73,449.27 137.83,449.02 137.94,448.77 138.05,448.51 138.17,448.26 138.29,448.01 138.41,447.75 138.54,447.50 138.68,447.25 138.82,446.99 138.96,446.74 139.11,446.48 139.27,446.23" fill="none" stroke="#f0141e" stroke-width="1.35" stroke-linejoin="round"/>
<polyline points="149.94,404.39 150.27,403.98 150.60,403.57 150.94,403.16 151.29,402.75 151.64,402.35 152.01,401.94 152.38,401.53 152.76,401.12 153.14,400.71 153.54,400.30 153.94,399.89 154.36,399.48 154.78,399.07 155.21,398.66 155.65,398.25 156.10,397.84 156.56,397.43 157.03,397.02 157.51,396.62 158.01,396.21 158.51,395.80 159.02,395.39 159.54,394.98 160.08,394.57 160.63,394.16 161.19,393.75 161.76,393.34 162.34,392.93 162.94,392.52 163.55,392.11 164.17,391.70 164.80,391.29 165.45,390.89 166.12,390.48 166.80,390.07 167.49,389.66 168.20,389.25 168.92,388.84 169.66,388.43 170.42,388.02 171.19,387.61 171.98,387.20 172.79,386.79 173.61,386.38 174.46,385.97 175.32,385.56 176.20,385.16 177.09,384.75 178.01,384.34 178.95,383.93 179.91,383.52 180.89,383.11 181.89,382.70 182.91,382.29 183.96,381.88 185.03,381.47 186.12,381.06 187.23,380.65 188.37,380.24" fill="none" stroke="#f0141e" stroke-width="1.35" stroke-linejoin="round"/>
<polyline points="153.84,421.29 154.18,420.59 154.54,419.90 154.89,419.20 155.26,418.50 155.63,417.81 156.00,417.11 156.39,416.42 156.78,415.72 157.18,415.03 157.58,414.33 157.99,413.63 158.41,412.94 158.84,412.24 159.28,411.55 159.72,410.85 160.17,410.16 160.63,409.46 161.10,408.77 161.58,408.07 162.07,407.37 162.56,406.68 163.06,405.98 163.58,405.29 164.10,404.59 164.63,403.90 165.17,403.20 165.73,402.50 166.29,401.81 166.86,401.11 167.44,400.42 168.03,399.72 168.64,399.03 169.25,398.33 169.88,397.63 170.52,396.94 171.17,396.24 171.83,395.55 172.50,394.85 173.19,394.16 173.88,393.46 174.59,392.77 175.32,392.07 176.06,391.37 176.81,390.68 177.57,389.98 178.35,389.29 179.14,388.59 179.95,387.90 180.77,387.20 181.61,386.50 182.46,385.81 183.33,385.11 184.21,384.42 185.11,383.72 186.02,383.03 186.96,382.33 187.91,381.63 188.87,380.94 189.86,380.24" fill="none" stroke="#f0141e" stroke-width="1.35" stroke-linejoin="round"/>
<polyline points="197.95,376.09 198.38,376.03 198.82,375.97 199.26,375.91 199.70,375.85 200.14,375.79 200.59,375.73 201.04,375.67 201.50,375.61 201.96,375.55 202.42,375.49 202.88,375.43 203.35,375.37 203.82,375.31 204.29,375.25 204.77,375.19 205.25,375.13 205.73,375.07 206.22,375.01 206.71,374.95 207.20,374.89 207.70,374.83 208.20,374.77 208.70,374.71 209.21,374.65 209.72,374.59 210.24,374.53 210.76,374.47 211.28,374.41 211.80,374.35 212.33,374.29 212.86,374.23 213.40,374.17 213.94,374.11 214.48,374.05 215.03,373.99 215.58,373.93 216.13,373.87 216.69,373.81 217.25,373.75 217.82,373.69 218.39,373.63 218.96,373.57 219.54,373.51 220.12,373.45 220.71,373.39 221.30,373.33 221.89,373.27 222.49,373.21 223.10,373.15 223.70,373.09 224.31,373.03 224.93,372.97 225.55,372.91 226.17,372.85 226.80,372.79 227.43,372.73 228.06,372.67 228.71,372.61 229.35,372.55" fill="none" stroke="#f0141e" stroke-width="1.35" stroke-linejoin="round"/>
<polyline points="197.95,377.94 198.38,377.86 198.82,377.77 199.26,377.69 199.70,377.60 200.14,377.52 200.59,377.43 201.04,377.35 201.50,377.26 201.96,377.17 202.42,377.09 202.88,377.00 203.35,376.92 203.82,376.83 204.29,376.75 204.77,376.66 205.25,376.58 205.73,376.49 206.22,376.41 206.71,376.32 207.20,376.23 207.70,376.15 208.20,376.06 208.70,375.98 209.21,375.89 209.72,375.81 210.24,375.72 210.76,375.64 211.28,375.55 211.80,375.47 212.33,375.38 212.86,375.29 213.40,375.21 213.94,375.12 214.48,375.04 215.03,374.95 215.58,374.87 216.13,374.78 216.69,374.70 217.25,374.61 217.82,374.53 218.39,374.44 218.96,374.35 219.54,374.27 220.12,374.18 220.71,374.10 221.30,374.01 221.89,373.93 222.49,373.84 223.10,373.76 223.70,373.67 224.31,373.59 224.93,373.50 225.55,373.41 226.17,373.33 226.80,373.24 227.43,373.16 228.06,373.07 228.71,372.99 229.35,372.90" fill="none" stroke="#f0141e" stroke-width="1.35" stroke-linejoin="round"/>
<polyline points="134.53,431.67 134.51,431.39 134.50,431.12 134.48,430.85 134.46,430.57 134.44,430.30 134.41,430.02 134.39,429.75 134.37,429.47 134.34,429.20 134.32,428.93 134.29,428.65 134.26,428.38 134.23,428.10 134.20,427.83 134.17,427.55 134.14,427.28 134.11,427.01 134.07,426.73 134.04,426.46 134.00,426.18 133.96,425.91 133.92,425.63 133.88,425.36 133.84,425.09 133.79,424.81 133.74,424.54 133.70,424.26 133.65,423.99 133.59,423.71 133.54,423.44 133.48,423.17 133.42,422.89 133.36,422.62 133.30,422.34 133.23,422.07 133.16,421.79 133.09,421.52 133.02,421.25 132.94,420.97 132.86,420.70 132.78,420.42 132.69,420.15 132.60,419.88 132.51,419.60 132.42,419.33 132.32,419.05 132.21,418.78 132.10,418.50 131.99,418.23 131.87,417.96 131.75,417.68 131.63,417.41 131.50,417.13 131.36,416.86 131.22,416.58 131.07,416.31 130.92,416.04 130.76,415.76 130.60,415.49" fill="none" stroke="#f0141e" stroke-width="1.35" stroke-linejoin="round"/>
<polyline points="130.26,415.14 130.12,414.76 129.98,414.38 129.84,414.00 129.69,413.62 129.53,413.24 129.38,412.86 129.21,412.48 129.05,412.10 128.88,411.72 128.70,411.34 128.52,410.96 128.33,410.59 128.14,410.21 127.94,409.83 127.74,409.45 127.53,409.07 127.32,408.69 127.10,408.31 126.87,407.93 126.64,407.55 126.40,407.17 126.15,406.79 125.89,406.41 125.63,406.04 125.36,405.66 125.09,405.28 124.80,404.90 124.51,404.52 124.21,404.14 123.90,403.76 123.58,403.38 123.25,403.00 122.91,402.62 122.56,402.24 122.20,401.86 121.84,401.49 121.46,401.11 121.07,400.73 120.67,400.35 120.25,399.97 119.83,399.59 119.39,399.21 118.95,398.83 118.48,398.45 118.01,398.07 117.52,397.69 117.02,397.31 116.50,396.93 115.97,396.56 115.42,396.18 114.86,395.80 114.28,395.42 113.68,395.04 113.07,394.66 112.44,394.28 111.79,393.90 111.12,393.52 110.44,393.14 109.73,392.76" fill="none" stroke="#f0141e" stroke-width="1.35" stroke-linejoin="round"/>
<polyline points="134.53,461.85 134.51,461.58 134.49,461.31 134.47,461.04 134.45,460.77 134.43,460.50 134.40,460.23 134.37,459.96 134.35,459.69 134.32,459.42 134.29,459.15 134.26,458.88 134.23,458.61 134.19,458.35 134.16,458.08 134.12,457.81 134.09,457.54 134.05,457.27 134.01,457.00 133.96,456.73 133.92,456.46 133.87,456.19 133.82,455.92 133.77,455.65 133.72,455.38 133.66,455.11 133.61,454.84 133.55,454.57 133.48,454.30 133.42,454.03 133.35,453.76 133.28,453.49 133.20,453.23 133.13,452.96 133.05,452.69 132.96,452.42 132.87,452.15 132.78,451.88 132.69,451.61 132.59,451.34 132.48,451.07 132.37,450.80 132.26,450.53 132.14,450.26 132.02,449.99 131.89,449.72 131.76,449.45 131.62,449.18 131.47,448.91 131.32,448.64 131.16,448.37 130.99,448.10 130.82,447.84 130.64,447.57 130.45,447.30 130.25,447.03 130.05,446.76 129.84,446.49 129.61,446.22 129.38,445.95" fill="none" stroke="#f0141e" stroke-width="1.35" stroke-linejoin="round"/>
<polyline points="116.41,427.02 115.88,426.33 115.34,425.63 114.78,424.93 114.21,424.23 113.62,423.54 113.02,422.84 112.39,422.14 111.75,421.44 111.09,420.75 110.42,420.05 109.72,419.35 109.00,418.65 108.26,417.96 107.51,417.26 106.73,416.56 105.93,415.86 105.10,415.17 104.25,414.47 103.38,413.77 102.49,413.07 101.56,412.38 100.62,411.68 99.64,410.98 98.64,410.28 97.61,409.59 96.55,408.89 95.46,408.19 94.34,407.49 93.19,406.80 92.00,406.10 90.78,405.40 89.53,404.70 88.24,404.01 86.91,403.31 85.55,402.61 84.15,401.91 82.71,401.22 81.23,400.52 79.70,399.82 78.13,399.12 76.52,398.43 74.86,397.73 73.16,397.03 71.41,396.33 69.60,395.64 67.75,394.94 65.84,394.24 63.88,393.54 61.87,392.85 59.79,392.15 57.66,391.45 55.47,390.75 53.21,390.05 50.90,389.36 48.51,388.66 46.06,387.96 43.54,387.26 40.95,386.57 38.28,385.87" fill="none" stroke="#f0141e" stroke-width="1.35" stroke-linejoin="round"/>
</g>
<rect x="40.5" y="371.5" width="189.2" height="139.0" fill="none" stroke="#404040" stroke-width="1.1"/>
<path d="M40.50,510.5v-2.5M40.50,371.5v2.5" stroke="#222" stroke-width="0.9"/>
<text x="40.50" y="523.6" text-anchor="middle">-2</text>
<path d="M64.12,510.5v-2.5M64.12,371.5v2.5" stroke="#222" stroke-width="0.9"/>
<text x="64.12" y="523.6" text-anchor="middle">-1.5</text>
<path d="M87.75,510.5v-2.5M87.75,371.5v2.5" stroke="#222" stroke-width="0.9"/>
<text x="87.75" y="523.6" text-anchor="middle">-1</text>
<path d="M111.38,510.5v-2.5M111.38,371.5v2.5" stroke="#222" stroke-width="0.9"/>
<text x="111.38" y="523.6" text-anchor="middle">-0.5</text>
<path d="M135.00,510.5v-2.5M135.00,371.5v2.5" stroke="#222" stroke-width="0.9"/>
<text x="135.00" y="523.6" text-anchor="middle">0</text>
<path d="M158.62,510.5v-2.5M158.62,371.5v2.5" stroke="#222" stroke-width="0.9"/>
<text x="158.62" y="523.6" text-anchor="middle">0.5</text>
<path d="M182.25,510.5v-2.5M182.25,371.5v2.5" stroke="#222" stroke-width="0.9"/>
<text x="182.25" y="523.6" text-anchor="middle">1</text>
<path d="M205.88,510.5v-2.5M205.88,371.5v2.5" stroke="#222" stroke-width="0.9"/>
<text x="205.88" y="523.6" text-anchor="middle">1.5</text>
<path d="M229.50,510.5v-2.5M229.50,371.5v2.5" stroke="#222" stroke-width="0.9"/>
<text x="229.50" y="523.6" text-anchor="middle">2</text>
<text x="37.5" y="515.30" text-anchor="end">10<tspan dy="-5" font-size="7.8">-12</tspan></text>
<text x="37.5" y="487.60" text-anchor="end">10<tspan dy="-5" font-size="7.8">-10</tspan></text>
<text x="37.5" y="459.90" text-anchor="end">10<tspan dy="-5" font-size="7.8">-8</tspan></text>
<text x="37.5" y="432.20" text-anchor="end">10<tspan dy="-5" font-size="7.8">-6</tspan></text>
<text x="37.5" y="404.50" text-anchor="end">10<tspan dy="-5" font-size="7.8">-4</tspan></text>
<text x="37.5" y="376.80" text-anchor="end">10<tspan dy="-5" font-size="7.8">-2</tspan></text>
<path d="M40.5,510.00h2.5M229.7,510.00h-2.5M40.5,496.15h2.5M229.7,496.15h-2.5M40.5,482.30h2.5M229.7,482.30h-2.5M40.5,468.45h2.5M229.7,468.45h-2.5M40.5,454.60h2.5M229.7,454.60h-2.5M40.5,440.75h2.5M229.7,440.75h-2.5M40.5,426.90h2.5M229.7,426.90h-2.5M40.5,413.05h2.5M229.7,413.05h-2.5M40.5,399.20h2.5M229.7,399.20h-2.5M40.5,385.35h2.5M229.7,385.35h-2.5M40.5,371.50h2.5M229.7,371.50h-2.5" stroke="#222" stroke-width="0.9"/>
<path d="M40.5,505.83h1.5M229.7,505.83h-1.5M40.5,503.39h1.5M229.7,503.39h-1.5M40.5,501.66h1.5M229.7,501.66h-1.5M40.5,500.32h1.5M229.7,500.32h-1.5M40.5,499.22h1.5M229.7,499.22h-1.5M40.5,498.30h1.5M229.7,498.30h-1.5M40.5,497.49h1.5M229.7,497.49h-1.5M40.5,496.78h1.5M229.7,496.78h-1.5M40.5,491.98h1.5M229.7,491.98h-1.5M40.5,489.54h1.5M229.7,489.54h-1.5M40.5,487.81h1.5M229.7,487.81h-1.5M40.5,486.47h1.5M229.7,486.47h-1.5M40.5,485.37h1.5M229.7,485.37h-1.5M40.5,484.45h1.5M229.7,484.45h-1.5M40.5,483.64h1.5M229.7,483.64h-1.5M40.5,482.93h1.5M229.7,482.93h-1.5M40.5,478.13h1.5M229.7,478.13h-1.5M40.5,475.69h1.5M229.7,475.69h-1.5M40.5,473.96h1.5M229.7,473.96h-1.5M40.5,472.62h1.5M229.7,472.62h-1.5M40.5,471.52h1.5M229.7,471.52h-1.5M40.5,470.60h1.5M229.7,470.60h-1.5M40.5,469.79h1.5M229.7,469.79h-1.5M40.5,469.08h1.5M229.7,469.08h-1.5M40.5,464.28h1.5M229.7,464.28h-1.5M40.5,461.84h1.5M229.7,461.84h-1.5M40.5,460.11h1.5M229.7,460.11h-1.5M40.5,458.77h1.5M229.7,458.77h-1.5M40.5,457.67h1.5M229.7,457.67h-1.5M40.5,456.75h1.5M229.7,456.75h-1.5M40.5,455.94h1.5M229.7,455.94h-1.5M40.5,455.23h1.5M229.7,455.23h-1.5M40.5,450.43h1.5M229.7,450.43h-1.5M40.5,447.99h1.5M229.7,447.99h-1.5M40.5,446.26h1.5M229.7,446.26h-1.5M40.5,444.92h1.5M229.7,444.92h-1.5M40.5,443.82h1.5M229.7,443.82h-1.5M40.5,442.90h1.5M229.7,442.90h-1.5M40.5,442.09h1.5M229.7,442.09h-1.5M40.5,441.38h1.5M229.7,441.38h-1.5M40.5,436.58h1.5M229.7,436.58h-1.5M40.5,434.14h1.5M229.7,434.14h-1.5M40.5,432.41h1.5M229.7,432.41h-1.5M40.5,431.07h1.5M229.7,431.07h-1.5M40.5,429.97h1.5M229.7,429.97h-1.5M40.5,429.05h1.5M229.7,429.05h-1.5M40.5,428.24h1.5M229.7,428.24h-1.5M40.5,427.53h1.5M229.7,427.53h-1.5M40.5,422.73h1.5M229.7,422.73h-1.5M40.5,420.29h1.5M229.7,420.29h-1.5M40.5,418.56h1.5M229.7,418.56h-1.5M40.5,417.22h1.5M229.7,417.22h-1.5M40.5,416.12h1.5M229.7,416.12h-1.5M40.5,415.20h1.5M229.7,415.20h-1.5M40.5,414.39h1.5M229.7,414.39h-1.5M40.5,413.68h1.5M229.7,413.68h-1.5M40.5,408.88h1.5M229.7,408.88h-1.5M40.5,406.44h1.5M229.7,406.44h-1.5M40.5,404.71h1.5M229.7,404.71h-1.5M40.5,403.37h1.5M229.7,403.37h-1.5M40.5,402.27h1.5M229.7,402.27h-1.5M40.5,401.35h1.5M229.7,401.35h-1.5M40.5,400.54h1.5M229.7,400.54h-1.5M40.5,399.83h1.5M229.7,399.83h-1.5M40.5,395.03h1.5M229.7,395.03h-1.5M40.5,392.59h1.5M229.7,392.59h-1.5M40.5,390.86h1.5M229.7,390.86h-1.5M40.5,389.52h1.5M229.7,389.52h-1.5M40.5,388.42h1.5M229.7,388.42h-1.5M40.5,387.50h1.5M229.7,387.50h-1.5M40.5,386.69h1.5M229.7,386.69h-1.5M40.5,385.98h1.5M229.7,385.98h-1.5M40.5,381.18h1.5M229.7,381.18h-1.5M40.5,378.74h1.5M229.7,378.74h-1.5M40.5,377.01h1.5M229.7,377.01h-1.5M40.5,375.67h1.5M229.7,375.67h-1.5M40.5,374.57h1.5M229.7,374.57h-1.5M40.5,373.65h1.5M229.7,373.65h-1.5M40.5,372.84h1.5M229.7,372.84h-1.5M40.5,372.13h1.5M229.7,372.13h-1.5" stroke="#222" stroke-width="0.8"/>
<text x="135" y="538.7" text-anchor="middle">Voltage <tspan font-style="italic">V</tspan> (V)</text>
<text transform="translate(12.0,441.0) rotate(-90)" text-anchor="middle">Current <tspan font-style="italic">I</tspan> (A)</text>
<rect x="45.5" y="473.9" width="80" height="30.5" fill="#fff" stroke="#404040" stroke-width="1"/>
<circle cx="55.8" cy="482.09999999999997" r="1.4" fill="none" stroke="#15287a" stroke-width="0.5" opacity="0.55"/>
<text x="66.3" y="485.5">Measured</text>
<line x1="48.2" y1="496.09999999999997" x2="63.2" y2="496.09999999999997" stroke="#f0141e" stroke-width="1.5" opacity="0.75"/>
<text x="66.3" y="500.09999999999997">SCLC fit</text>
<text x="218.7" y="502" font-weight="bold" font-size="13">i</text>
<clipPath id="cph"><rect x="283.5" y="368.5" width="195.10000000000002" height="145.0"/></clipPath>
<g clip-path="url(#cph)">
<polyline points="380.5,431.3 380.1,426.3 379.6,423.6 379.1,421.6 378.6,420.0 378.2,418.6 377.7,417.4 377.2,416.3 376.7,415.1 376.3,414.0 375.8,412.9 375.3,411.8 374.9,410.7 374.4,409.7 373.9,408.7 373.4,407.8 373.0,406.9 372.5,406.1 372.0,405.4 371.6,404.7 371.1,404.1 370.6,403.5 370.1,403.0 369.7,402.5 369.2,402.0 368.7,401.5 368.2,401.1 367.8,400.6 367.3,400.2 366.8,399.8 366.4,399.4 365.9,399.0 365.4,398.7 364.9,398.3 364.5,397.9 364.0,397.6 363.5,397.3 363.0,396.9 362.6,396.6 362.1,396.3 361.6,396.0 361.2,395.7 360.7,395.4 360.2,395.2 359.7,394.9 359.3,394.6 358.8,394.4 358.3,394.1 357.8,393.8 357.4,393.6 356.9,393.3 356.4,393.1 356.0,392.9 355.5,392.6 355.0,392.4 354.5,392.2 354.1,392.0 353.6,391.8 353.1,391.6 352.6,391.4 352.2,391.2 351.7,391.0 351.2,390.9 350.8,390.7 350.3,390.6 349.8,390.4 349.3,390.3 348.9,390.2 348.4,390.1 347.9,389.9 347.5,389.8 347.0,389.7 346.5,389.6 346.0,389.5 345.6,389.4 345.1,389.3 344.6,389.2 344.1,389.1 343.7,389.1 343.2,389.0 342.7,388.9 342.3,388.8 341.8,388.8 341.3,388.7 340.8,388.6 340.4,388.6 339.9,388.5 339.4,388.4 338.9,388.4 338.5,388.3 338.0,388.3 337.5,388.3 337.1,388.2 336.6,388.2 336.1,388.1 335.6,388.1 335.2,388.0 334.7,388.0 334.2,388.0 333.8,387.9 333.3,387.9 332.8,387.8 332.3,387.8 331.9,387.8 331.4,387.7 330.9,387.7 330.4,387.7 330.0,387.6 329.5,387.6 329.0,387.6 328.6,387.6 328.1,387.5 327.6,387.5 327.1,387.5 326.7,387.5 326.2,387.5 325.7,387.4 325.2,387.4 324.8,387.4 324.3,387.4 323.8,387.4 323.4,387.4 322.9,387.4 322.4,387.4 321.9,387.3 321.5,387.3 321.0,387.3 320.5,387.3 320.0,387.3 319.6,387.3 319.1,387.3 318.6,387.3 318.2,387.3 317.7,387.3 317.2,387.3 316.7,387.3 316.3,387.3 315.8,387.3 315.3,387.3 314.9,387.3 314.4,387.3 313.9,387.3 313.4,387.3 313.0,387.3 312.5,387.3 312.0,387.3 311.5,387.3 311.1,387.3 310.6,387.3 310.1,387.3 309.7,387.3 309.2,387.3 308.7,387.3 308.2,387.3 307.8,387.3 307.3,387.3 306.8,387.3 306.3,387.3 305.9,387.3 305.4,387.3 304.9,387.3 304.5,387.3 304.0,387.3 303.5,387.3 303.0,387.3 302.6,387.3 302.1,387.2 301.6,387.2 301.1,387.2 300.7,387.2 300.2,387.2 299.7,387.2 299.3,387.2 298.8,387.2 298.3,387.2 297.8,387.1 297.4,387.1 296.9,387.1 296.4,387.1 295.9,387.1 295.5,387.1 295.0,387.0 294.5,387.0 294.1,387.0 293.6,387.0 293.1,387.0 292.6,386.9 292.2,386.9 291.7,386.9 291.2,386.9 290.8,386.9 290.3,386.8 289.8,386.8 289.3,386.8 288.9,386.8 288.4,386.8 287.9,386.7 287.4,386.7 287.0,386.7 286.5,386.7" fill="none" stroke="none" marker-start="url(#mkh)" marker-mid="url(#mkh)" marker-end="url(#mkh)"/>
<polyline points="380.5,461.5 380.1,456.8 379.6,454.3 379.1,452.6 378.6,451.2 378.2,450.2 377.7,449.3 377.2,448.5 376.7,447.6 376.3,446.8 375.8,446.0 375.3,445.2 374.9,444.5 374.4,443.8 373.9,443.1 373.4,442.4 373.0,441.7 372.5,441.0 372.0,440.4 371.6,439.7 371.1,439.0 370.6,438.3 370.1,437.5 369.7,436.7 369.2,436.0 368.7,435.3 368.2,434.6 367.8,434.0 367.3,433.3 366.8,432.7 366.4,432.1 365.9,431.5 365.4,430.9 364.9,430.3 364.5,429.7 364.0,429.2 363.5,428.6 363.0,428.1 362.6,427.5 362.1,427.0 361.6,426.5 361.2,426.0 360.7,425.5 360.2,425.0 359.7,424.5 359.3,424.0 358.8,423.6 358.3,423.1 357.8,422.7 357.4,422.2 356.9,421.8 356.4,421.3 356.0,420.9 355.5,420.5 355.0,420.1 354.5,419.7 354.1,419.3 353.6,418.9 353.1,418.5 352.6,418.1 352.2,417.7 351.7,417.3 351.2,416.9 350.8,416.5 350.3,416.1 349.8,415.8 349.3,415.4 348.9,415.0 348.4,414.6 347.9,414.3 347.5,413.9 347.0,413.6 346.5,413.2 346.0,412.8 345.6,412.5 345.1,412.1 344.6,411.8 344.1,411.5 343.7,411.1 343.2,410.8 342.7,410.4 342.3,410.1 341.8,409.8 341.3,409.4 340.8,409.1 340.4,408.8 339.9,408.5 339.4,408.1 338.9,407.8 338.5,407.5 338.0,407.1 337.5,406.8 337.1,406.5 336.6,406.2 336.1,405.9 335.6,405.6 335.2,405.3 334.7,405.0 334.2,404.7 333.8,404.4 333.3,404.1 332.8,403.8 332.3,403.6 331.9,403.3 331.4,403.0 330.9,402.8 330.4,402.5 330.0,402.3 329.5,402.1 329.0,401.8 328.6,401.6 328.1,401.4 327.6,401.2 327.1,401.0 326.7,400.8 326.2,400.5 325.7,400.3 325.2,400.2 324.8,400.0 324.3,399.8 323.8,399.6 323.4,399.4 322.9,399.2 322.4,399.0 321.9,398.8 321.5,398.7 321.0,398.5 320.5,398.3 320.0,398.1 319.6,398.0 319.1,397.8 318.6,397.6 318.2,397.5 317.7,397.3 317.2,397.1 316.7,396.9 316.3,396.8 315.8,396.6 315.3,396.4 314.9,396.3 314.4,396.1 313.9,395.9 313.4,395.7 313.0,395.6 312.5,395.4 312.0,395.2 311.5,395.0 311.1,394.9 310.6,394.7 310.1,394.5 309.7,394.3 309.2,394.1 308.7,393.9 308.2,393.8 307.8,393.6 307.3,393.4 306.8,393.2 306.3,393.0 305.9,392.9 305.4,392.7 304.9,392.5 304.5,392.4 304.0,392.2 303.5,392.1 303.0,391.9 302.6,391.8 302.1,391.6 301.6,391.5 301.1,391.4 300.7,391.2 300.2,391.1 299.7,391.0 299.3,390.9 298.8,390.7 298.3,390.6 297.8,390.5 297.4,390.4 296.9,390.2 296.4,390.1 295.9,390.0 295.5,389.8 295.0,389.7 294.5,389.6 294.1,389.4 293.6,389.3 293.1,389.1 292.6,389.0 292.2,388.8 291.7,388.6 291.2,388.5 290.8,388.3 290.3,388.1 289.8,387.9 289.3,387.8 288.9,387.6 288.4,387.4 287.9,387.2 287.4,387.0 287.0,386.9 286.5,386.7" fill="none" stroke="none" marker-start="url(#mkh)" marker-mid="url(#mkh)" marker-end="url(#mkh)"/>
<polyline points="381.5,431.6 381.9,427.0 382.4,424.5 382.9,422.8 383.4,421.5 383.8,420.4 384.3,419.4 384.8,418.5 385.3,417.6 385.7,416.7 386.2,416.0 386.7,415.2 387.1,414.6 387.6,414.0 388.1,413.3 388.6,412.7 389.0,412.0 389.5,411.4 390.0,410.7 390.4,410.1 390.9,409.5 391.4,408.9 391.9,408.3 392.3,407.7 392.8,407.2 393.3,406.6 393.8,406.1 394.2,405.6 394.7,405.0 395.2,404.5 395.6,404.0 396.1,403.5 396.6,403.0 397.1,402.5 397.5,402.0 398.0,401.5 398.5,401.0 399.0,400.5 399.4,400.0 399.9,399.5 400.4,399.0 400.8,398.6 401.3,398.1 401.8,397.7 402.3,397.2 402.7,396.8 403.2,396.3 403.7,395.9 404.2,395.5 404.6,395.1 405.1,394.6 405.6,394.2 406.0,393.8 406.5,393.4 407.0,393.0 407.5,392.6 407.9,392.3 408.4,391.9 408.9,391.6 409.4,391.2 409.8,390.9 410.3,390.6 410.8,390.3 411.2,390.0 411.7,389.7 412.2,389.4 412.7,389.1 413.1,388.8 413.6,388.5 414.1,388.2 414.5,388.0 415.0,387.7 415.5,387.5 416.0,387.2 416.4,386.9 416.9,386.7 417.4,386.5 417.9,386.2 418.3,386.0 418.8,385.7 419.3,385.5 419.7,385.3 420.2,385.1 420.7,384.8 421.2,384.6 421.6,384.4 422.1,384.2 422.6,384.0 423.1,383.8 423.5,383.6 424.0,383.4 424.5,383.1 424.9,382.9 425.4,382.7 425.9,382.5 426.4,382.4 426.8,382.2 427.3,382.0 427.8,381.8 428.2,381.6 428.7,381.4 429.2,381.2 429.7,381.1 430.1,380.9 430.6,380.7 431.1,380.6 431.6,380.4 432.0,380.3 432.5,380.1 433.0,380.0 433.4,379.8 433.9,379.7 434.4,379.5 434.9,379.4 435.3,379.3 435.8,379.1 436.3,379.0 436.8,378.9 437.2,378.8 437.7,378.6 438.2,378.5 438.6,378.4 439.1,378.3 439.6,378.2 440.1,378.0 440.5,377.9 441.0,377.8 441.5,377.7 442.0,377.6 442.4,377.5 442.9,377.4 443.4,377.3 443.8,377.2 444.3,377.1 444.8,377.0 445.3,376.9 445.7,376.8 446.2,376.7 446.7,376.6 447.1,376.5 447.6,376.4 448.1,376.3 448.6,376.2 449.0,376.2 449.5,376.1 450.0,376.0 450.5,375.9 450.9,375.8 451.4,375.7 451.9,375.6 452.3,375.6 452.8,375.5 453.3,375.4 453.8,375.3 454.2,375.2 454.7,375.2 455.2,375.1 455.7,375.0 456.1,374.9 456.6,374.9 457.1,374.8 457.5,374.7 458.0,374.6 458.5,374.6 459.0,374.5 459.4,374.5 459.9,374.4 460.4,374.3 460.9,374.3 461.3,374.2 461.8,374.2 462.3,374.1 462.7,374.0 463.2,374.0 463.7,373.9 464.2,373.9 464.6,373.8 465.1,373.8 465.6,373.7 466.0,373.7 466.5,373.6 467.0,373.6 467.5,373.5 467.9,373.5 468.4,373.4 468.9,373.4 469.4,373.3 469.8,373.3 470.3,373.2 470.8,373.2 471.2,373.1 471.7,373.1 472.2,373.1 472.7,373.0 473.1,373.0 473.6,372.9 474.1,372.9 474.6,372.9 475.0,372.8 475.5,372.8" fill="none" stroke="none" marker-start="url(#mkh)" marker-mid="url(#mkh)" marker-end="url(#mkh)"/>
<polyline points="381.5,460.8 381.9,456.4 382.4,453.5 382.9,451.5 383.4,450.0 383.8,448.8 384.3,447.8 384.8,446.9 385.3,446.0 385.7,445.1 386.2,444.3 386.7,443.4 387.1,442.6 387.6,441.7 388.1,440.9 388.6,440.0 389.0,439.1 389.5,438.2 390.0,437.3 390.4,436.4 390.9,435.5 391.4,434.6 391.9,433.7 392.3,432.9 392.8,432.0 393.3,431.1 393.8,430.2 394.2,429.2 394.7,428.3 395.2,427.4 395.6,426.5 396.1,425.7 396.6,424.8 397.1,424.0 397.5,423.1 398.0,422.4 398.5,421.6 399.0,420.8 399.4,420.1 399.9,419.4 400.4,418.6 400.8,417.9 401.3,417.2 401.8,416.5 402.3,415.8 402.7,415.2 403.2,414.5 403.7,413.9 404.2,413.2 404.6,412.6 405.1,412.0 405.6,411.3 406.0,410.7 406.5,410.1 407.0,409.5 407.5,408.9 407.9,408.4 408.4,407.8 408.9,407.2 409.4,406.6 409.8,406.1 410.3,405.5 410.8,405.0 411.2,404.4 411.7,403.9 412.2,403.3 412.7,402.8 413.1,402.3 413.6,401.7 414.1,401.2 414.5,400.7 415.0,400.2 415.5,399.7 416.0,399.2 416.4,398.7 416.9,398.2 417.4,397.7 417.9,397.2 418.3,396.7 418.8,396.2 419.3,395.7 419.7,395.2 420.2,394.8 420.7,394.3 421.2,393.8 421.6,393.3 422.1,392.8 422.6,392.4 423.1,391.9 423.5,391.5 424.0,391.0 424.5,390.5 424.9,390.1 425.4,389.7 425.9,389.2 426.4,388.8 426.8,388.4 427.3,388.0 427.8,387.6 428.2,387.2 428.7,386.8 429.2,386.4 429.7,386.0 430.1,385.6 430.6,385.2 431.1,384.9 431.6,384.5 432.0,384.2 432.5,383.9 433.0,383.6 433.4,383.3 433.9,383.0 434.4,382.8 434.9,382.5 435.3,382.3 435.8,382.0 436.3,381.8 436.8,381.6 437.2,381.4 437.7,381.2 438.2,381.0 438.6,380.8 439.1,380.6 439.6,380.4 440.1,380.2 440.5,380.0 441.0,379.9 441.5,379.7 442.0,379.5 442.4,379.4 442.9,379.2 443.4,379.1 443.8,378.9 444.3,378.8 444.8,378.7 445.3,378.5 445.7,378.4 446.2,378.3 446.7,378.2 447.1,378.1 447.6,377.9 448.1,377.8 448.6,377.7 449.0,377.6 449.5,377.5 450.0,377.4 450.5,377.3 450.9,377.2 451.4,377.1 451.9,377.0 452.3,376.9 452.8,376.8 453.3,376.7 453.8,376.6 454.2,376.5 454.7,376.4 455.2,376.3 455.7,376.2 456.1,376.1 456.6,376.0 457.1,375.9 457.5,375.8 458.0,375.7 458.5,375.6 459.0,375.5 459.4,375.5 459.9,375.4 460.4,375.3 460.9,375.2 461.3,375.1 461.8,375.0 462.3,375.0 462.7,374.9 463.2,374.8 463.7,374.7 464.2,374.6 464.6,374.6 465.1,374.5 465.6,374.4 466.0,374.3 466.5,374.3 467.0,374.2 467.5,374.1 467.9,374.0 468.4,374.0 468.9,373.9 469.4,373.8 469.8,373.8 470.3,373.7 470.8,373.6 471.2,373.5 471.7,373.5 472.2,373.4 472.7,373.3 473.1,373.3 473.6,373.2 474.1,373.1 474.6,373.0 475.0,373.0 475.5,372.9" fill="none" stroke="none" marker-start="url(#mkh)" marker-mid="url(#mkh)" marker-end="url(#mkh)"/>
<polyline points="381.0,493.2 381.0,500.3" fill="none" stroke="none" marker-start="url(#mkz)" marker-mid="url(#mkz)" marker-end="url(#mkz)"/>
<polyline points="364.98,398.32 364.30,397.81 363.61,397.32 362.93,396.85 362.24,396.39 361.56,395.96 360.87,395.54 360.19,395.14 359.50,394.75 358.82,394.38 358.14,394.00 357.45,393.63 356.77,393.27 356.08,392.92 355.40,392.58 354.71,392.26 354.03,391.95 353.34,391.65 352.66,391.37 351.97,391.11 351.29,390.87 350.60,390.65 349.92,390.46 349.23,390.28 348.55,390.10 347.86,389.93 347.18,389.77 346.49,389.62 345.81,389.47 345.13,389.33 344.44,389.20 343.76,389.07 343.07,388.96 342.39,388.84 341.70,388.74 341.02,388.64 340.33,388.55 339.65,388.47 338.96,388.39 338.28,388.32 337.59,388.26 336.91,388.19 336.22,388.13 335.54,388.07 334.85,388.01 334.17,387.95 333.48,387.90 332.80,387.84 332.12,387.79 331.43,387.74 330.75,387.70 330.06,387.65 329.38,387.61 328.69,387.57 328.01,387.53 327.32,387.50 326.64,387.47 325.95,387.44 325.27,387.42 324.58,387.40" fill="none" stroke="#f0141e" stroke-width="1.35" stroke-linejoin="round"/>
<polyline points="333.75,404.40 332.95,403.92 332.15,403.46 331.35,403.01 330.55,402.59 329.75,402.18 328.94,401.79 328.14,401.41 327.34,401.05 326.54,400.70 325.74,400.36 324.94,400.03 324.14,399.70 323.34,399.39 322.54,399.08 321.74,398.77 320.94,398.47 320.14,398.18 319.33,397.89 318.53,397.60 317.73,397.31 316.93,397.02 316.13,396.73 315.33,396.44 314.53,396.15 313.73,395.86 312.93,395.56 312.13,395.27 311.33,394.96 310.53,394.65 309.72,394.34 308.92,394.03 308.12,393.71 307.32,393.41 306.52,393.10 305.72,392.81 304.92,392.53 304.12,392.26 303.32,392.00 302.52,391.76 301.72,391.53 300.92,391.31 300.11,391.09 299.31,390.88 298.51,390.67 297.71,390.46 296.91,390.24 296.11,390.02 295.31,389.79 294.51,389.55 293.71,389.31 292.91,389.05 292.11,388.77 291.31,388.49 290.50,388.21 289.70,387.91 288.90,387.61 288.10,387.30 287.30,386.99 286.50,386.68" fill="none" stroke="#f0141e" stroke-width="1.35" stroke-linejoin="round"/>
<polyline points="410.20,390.64 411.31,389.92 412.41,389.23 413.52,388.57 414.63,387.93 415.73,387.32 416.84,386.73 417.95,386.17 419.05,385.62 420.16,385.09 421.27,384.57 422.37,384.07 423.48,383.58 424.59,383.10 425.70,382.63 426.80,382.17 427.91,381.73 429.02,381.31 430.12,380.91 431.23,380.52 432.34,380.16 433.44,379.81 434.55,379.49 435.66,379.17 436.76,378.88 437.87,378.59 438.98,378.31 440.08,378.04 441.19,377.79 442.30,377.53 443.40,377.29 444.51,377.05 445.62,376.82 446.72,376.60 447.83,376.39 448.94,376.18 450.04,375.98 451.15,375.78 452.26,375.58 453.36,375.38 454.47,375.20 455.58,375.02 456.68,374.84 457.79,374.68 458.90,374.52 460.01,374.38 461.11,374.24 462.22,374.10 463.33,373.97 464.43,373.84 465.54,373.71 466.65,373.59 467.75,373.47 468.86,373.36 469.97,373.25 471.07,373.15 472.18,373.05 473.29,372.96 474.39,372.87 475.50,372.79" fill="none" stroke="#f0141e" stroke-width="1.35" stroke-linejoin="round"/>
<polyline points="408.31,407.90 409.45,406.53 410.59,405.19 411.73,403.87 412.87,402.57 414.00,401.30 415.14,400.05 416.28,398.82 417.42,397.62 418.56,396.44 419.70,395.28 420.84,394.12 421.98,392.98 423.11,391.85 424.25,390.75 425.39,389.68 426.53,388.65 427.67,387.65 428.81,386.70 429.95,385.77 431.09,384.88 432.23,384.06 433.36,383.34 434.50,382.70 435.64,382.12 436.78,381.58 437.92,381.08 439.06,380.61 440.20,380.17 441.34,379.75 442.47,379.37 443.61,379.01 444.75,378.68 445.89,378.38 447.03,378.09 448.17,377.81 449.31,377.54 450.45,377.28 451.59,377.02 452.72,376.78 453.86,376.54 455.00,376.31 456.14,376.08 457.28,375.86 458.42,375.64 459.56,375.43 460.70,375.23 461.83,375.03 462.97,374.84 464.11,374.65 465.25,374.47 466.39,374.29 467.53,374.11 468.67,373.93 469.81,373.76 470.94,373.58 472.08,373.41 473.22,373.24 474.36,373.07 475.50,372.91" fill="none" stroke="#f0141e" stroke-width="1.35" stroke-linejoin="round"/>
</g>
<rect x="286.5" y="371.5" width="189.10000000000002" height="139.0" fill="none" stroke="#404040" stroke-width="1.1"/>
<path d="M286.50,510.5v-2.5M286.50,371.5v2.5" stroke="#222" stroke-width="0.9"/>
<text x="286.50" y="523.6" text-anchor="middle">-2</text>
<path d="M310.12,510.5v-2.5M310.12,371.5v2.5" stroke="#222" stroke-width="0.9"/>
<text x="310.12" y="523.6" text-anchor="middle">-1.5</text>
<path d="M333.75,510.5v-2.5M333.75,371.5v2.5" stroke="#222" stroke-width="0.9"/>
<text x="333.75" y="523.6" text-anchor="middle">-1</text>
<path d="M357.38,510.5v-2.5M357.38,371.5v2.5" stroke="#222" stroke-width="0.9"/>
<text x="357.38" y="523.6" text-anchor="middle">-0.5</text>
<path d="M381.00,510.5v-2.5M381.00,371.5v2.5" stroke="#222" stroke-width="0.9"/>
<text x="381.00" y="523.6" text-anchor="middle">0</text>
<path d="M404.62,510.5v-2.5M404.62,371.5v2.5" stroke="#222" stroke-width="0.9"/>
<text x="404.62" y="523.6" text-anchor="middle">0.5</text>
<path d="M428.25,510.5v-2.5M428.25,371.5v2.5" stroke="#222" stroke-width="0.9"/>
<text x="428.25" y="523.6" text-anchor="middle">1</text>
<path d="M451.88,510.5v-2.5M451.88,371.5v2.5" stroke="#222" stroke-width="0.9"/>
<text x="451.88" y="523.6" text-anchor="middle">1.5</text>
<path d="M475.50,510.5v-2.5M475.50,371.5v2.5" stroke="#222" stroke-width="0.9"/>
<text x="475.50" y="523.6" text-anchor="middle">2</text>
<text x="283.5" y="515.30" text-anchor="end">10<tspan dy="-5" font-size="7.8">-12</tspan></text>
<text x="283.5" y="487.60" text-anchor="end">10<tspan dy="-5" font-size="7.8">-10</tspan></text>
<text x="283.5" y="459.90" text-anchor="end">10<tspan dy="-5" font-size="7.8">-8</tspan></text>
<text x="283.5" y="432.20" text-anchor="end">10<tspan dy="-5" font-size="7.8">-6</tspan></text>
<text x="283.5" y="404.50" text-anchor="end">10<tspan dy="-5" font-size="7.8">-4</tspan></text>
<text x="283.5" y="376.80" text-anchor="end">10<tspan dy="-5" font-size="7.8">-2</tspan></text>
<path d="M286.5,510.00h2.5M475.6,510.00h-2.5M286.5,496.15h2.5M475.6,496.15h-2.5M286.5,482.30h2.5M475.6,482.30h-2.5M286.5,468.45h2.5M475.6,468.45h-2.5M286.5,454.60h2.5M475.6,454.60h-2.5M286.5,440.75h2.5M475.6,440.75h-2.5M286.5,426.90h2.5M475.6,426.90h-2.5M286.5,413.05h2.5M475.6,413.05h-2.5M286.5,399.20h2.5M475.6,399.20h-2.5M286.5,385.35h2.5M475.6,385.35h-2.5M286.5,371.50h2.5M475.6,371.50h-2.5" stroke="#222" stroke-width="0.9"/>
<path d="M286.5,505.83h1.5M475.6,505.83h-1.5M286.5,503.39h1.5M475.6,503.39h-1.5M286.5,501.66h1.5M475.6,501.66h-1.5M286.5,500.32h1.5M475.6,500.32h-1.5M286.5,499.22h1.5M475.6,499.22h-1.5M286.5,498.30h1.5M475.6,498.30h-1.5M286.5,497.49h1.5M475.6,497.49h-1.5M286.5,496.78h1.5M475.6,496.78h-1.5M286.5,491.98h1.5M475.6,491.98h-1.5M286.5,489.54h1.5M475.6,489.54h-1.5M286.5,487.81h1.5M475.6,487.81h-1.5M286.5,486.47h1.5M475.6,486.47h-1.5M286.5,485.37h1.5M475.6,485.37h-1.5M286.5,484.45h1.5M475.6,484.45h-1.5M286.5,483.64h1.5M475.6,483.64h-1.5M286.5,482.93h1.5M475.6,482.93h-1.5M286.5,478.13h1.5M475.6,478.13h-1.5M286.5,475.69h1.5M475.6,475.69h-1.5M286.5,473.96h1.5M475.6,473.96h-1.5M286.5,472.62h1.5M475.6,472.62h-1.5M286.5,471.52h1.5M475.6,471.52h-1.5M286.5,470.60h1.5M475.6,470.60h-1.5M286.5,469.79h1.5M475.6,469.79h-1.5M286.5,469.08h1.5M475.6,469.08h-1.5M286.5,464.28h1.5M475.6,464.28h-1.5M286.5,461.84h1.5M475.6,461.84h-1.5M286.5,460.11h1.5M475.6,460.11h-1.5M286.5,458.77h1.5M475.6,458.77h-1.5M286.5,457.67h1.5M475.6,457.67h-1.5M286.5,456.75h1.5M475.6,456.75h-1.5M286.5,455.94h1.5M475.6,455.94h-1.5M286.5,455.23h1.5M475.6,455.23h-1.5M286.5,450.43h1.5M475.6,450.43h-1.5M286.5,447.99h1.5M475.6,447.99h-1.5M286.5,446.26h1.5M475.6,446.26h-1.5M286.5,444.92h1.5M475.6,444.92h-1.5M286.5,443.82h1.5M475.6,443.82h-1.5M286.5,442.90h1.5M475.6,442.90h-1.5M286.5,442.09h1.5M475.6,442.09h-1.5M286.5,441.38h1.5M475.6,441.38h-1.5M286.5,436.58h1.5M475.6,436.58h-1.5M286.5,434.14h1.5M475.6,434.14h-1.5M286.5,432.41h1.5M475.6,432.41h-1.5M286.5,431.07h1.5M475.6,431.07h-1.5M286.5,429.97h1.5M475.6,429.97h-1.5M286.5,429.05h1.5M475.6,429.05h-1.5M286.5,428.24h1.5M475.6,428.24h-1.5M286.5,427.53h1.5M475.6,427.53h-1.5M286.5,422.73h1.5M475.6,422.73h-1.5M286.5,420.29h1.5M475.6,420.29h-1.5M286.5,418.56h1.5M475.6,418.56h-1.5M286.5,417.22h1.5M475.6,417.22h-1.5M286.5,416.12h1.5M475.6,416.12h-1.5M286.5,415.20h1.5M475.6,415.20h-1.5M286.5,414.39h1.5M475.6,414.39h-1.5M286.5,413.68h1.5M475.6,413.68h-1.5M286.5,408.88h1.5M475.6,408.88h-1.5M286.5,406.44h1.5M475.6,406.44h-1.5M286.5,404.71h1.5M475.6,404.71h-1.5M286.5,403.37h1.5M475.6,403.37h-1.5M286.5,402.27h1.5M475.6,402.27h-1.5M286.5,401.35h1.5M475.6,401.35h-1.5M286.5,400.54h1.5M475.6,400.54h-1.5M286.5,399.83h1.5M475.6,399.83h-1.5M286.5,395.03h1.5M475.6,395.03h-1.5M286.5,392.59h1.5M475.6,392.59h-1.5M286.5,390.86h1.5M475.6,390.86h-1.5M286.5,389.52h1.5M475.6,389.52h-1.5M286.5,388.42h1.5M475.6,388.42h-1.5M286.5,387.50h1.5M475.6,387.50h-1.5M286.5,386.69h1.5M475.6,386.69h-1.5M286.5,385.98h1.5M475.6,385.98h-1.5M286.5,381.18h1.5M475.6,381.18h-1.5M286.5,378.74h1.5M475.6,378.74h-1.5M286.5,377.01h1.5M475.6,377.01h-1.5M286.5,375.67h1.5M475.6,375.67h-1.5M286.5,374.57h1.5M475.6,374.57h-1.5M286.5,373.65h1.5M475.6,373.65h-1.5M286.5,372.84h1.5M475.6,372.84h-1.5M286.5,372.13h1.5M475.6,372.13h-1.5" stroke="#222" stroke-width="0.8"/>
<text x="381" y="538.7" text-anchor="middle">Voltage <tspan font-style="italic">V</tspan> (V)</text>
<text transform="translate(257.8,441.0) rotate(-90)" text-anchor="middle">Current <tspan font-style="italic">I</tspan> (A)</text>
<rect x="290.8" y="474.9" width="81" height="30.2" fill="#fff" stroke="#404040" stroke-width="1"/>
<circle cx="301.1" cy="483.09999999999997" r="1.4" fill="none" stroke="#15287a" stroke-width="0.5" opacity="0.55"/>
<text x="311.6" y="486.5">Measured</text>
<line x1="293.5" y1="497.09999999999997" x2="308.5" y2="497.09999999999997" stroke="#f0141e" stroke-width="1.5" opacity="0.75"/>
<text x="311.6" y="501.09999999999997">TAT fit</text>
<text x="461.9" y="505" font-weight="bold" font-size="13">h</text>
<clipPath id="cpg"><rect x="526.5" y="368.2" width="156.5" height="145.40000000000003"/></clipPath>
<g clip-path="url(#cpg)">
<polyline points="681.6,454.4 675.5,453.1 669.9,451.9 664.7,450.8 659.8,449.6 655.3,448.6 651.2,447.5 647.2,446.5 643.6,445.6 640.1,444.6 636.8,443.7 633.8,442.7 630.9,441.8 628.1,440.9 625.5,440.0 623.1,439.0 620.7,438.1 618.5,437.0 616.4,436.0 614.4,435.0 612.4,434.0 610.6,433.1 608.8,432.1 607.2,431.2 605.5,430.2 604.0,429.2 602.5,428.2 601.1,427.2 599.7,426.1 598.4,425.0 597.1,424.0 595.9,423.0 594.7,421.9 593.5,420.9 592.4,419.9 591.4,418.9 590.3,417.9 589.3,416.9 588.4,415.9 587.4,414.9 586.5,413.9 585.6,413.0 584.8,412.1 584.0,411.2 583.2,410.4 582.4,409.5 581.6,408.7 580.9,407.9 580.2,407.2 579.5,406.4 578.8,405.7 578.2,405.0 577.5,404.3 576.9,403.7 576.3,403.0 575.7,402.4 575.1,401.8 574.6,401.2 574.0,400.6 573.5,400.0 572.9,399.4 572.4,398.9 571.9,398.3 571.4,397.8 571.0,397.3 570.5,396.8 570.1,396.3 569.6,395.9 569.2,395.4 568.7,394.9 568.3,394.5 567.9,394.1 567.5,393.6 567.1,393.2 566.7,392.8 566.4,392.4 566.0,392.0 565.6,391.7 565.3,391.3 564.9,390.9 564.6,390.6 564.3,390.2 563.9,389.9 563.6,389.6 563.3,389.2 563.0,388.9 562.7,388.6 562.4,388.3 562.1,388.0 561.8,387.7 561.5,387.4 561.2,387.1 561.0,386.8 560.7,386.6 560.4,386.3 560.2,386.0 559.9,385.8 559.7,385.5 559.4,385.2 559.2,385.0 558.9,384.7 558.7,384.5 558.5,384.3 558.2,384.0 558.0,383.8 557.8,383.5 557.6,383.3 557.4,383.1 557.1,382.9 556.9,382.6 556.7,382.4 556.5,382.2 556.3,382.0 556.1,381.8 555.9,381.6 555.8,381.4 555.6,381.2 555.4,381.0 555.2,380.8 555.0,380.6 554.8,380.4 554.7,380.2 554.5,380.0 554.3,379.9 554.2,379.7 554.0,379.5 553.8,379.3 553.7,379.2 553.5,379.0 553.4,378.8 553.2,378.7 553.0,378.5 552.9,378.3 552.7,378.2 552.6,378.0 552.5,377.8 552.3,377.7 552.2,377.5 552.0,377.4 551.9,377.2 551.8,377.1 551.6,376.9 551.5,376.8 551.4,376.7 551.2,376.5 551.1,376.4 551.0,376.2 550.8,376.1 550.7,376.0 550.6,375.8 550.5,375.7 550.4,375.6 550.2,375.4 550.1,375.3 550.0,375.2 549.9,375.1 549.8,374.9 549.7,374.8 549.6,374.7 549.4,374.6 549.3,374.5 549.2,374.4 549.1,374.2 549.0,374.1 548.9,374.0 548.8,373.9 548.7,373.8 548.6,373.7 548.5,373.6 548.4,373.5 548.3,373.4 548.2,373.2 548.1,373.1 548.0,373.0 547.9,372.9 547.8,372.8 547.7,372.7" fill="none" stroke="none" marker-start="url(#mkg)" marker-mid="url(#mkg)" marker-end="url(#mkg)"/>
<polyline points="681.6,509.8 675.5,507.4 669.9,505.2 664.7,503.0 659.8,501.0 655.3,499.1 651.2,497.3 647.2,495.5 643.6,493.8 640.1,492.1 636.8,490.5 633.8,488.8 630.9,487.2 628.1,485.6 625.5,484.0 623.1,482.4 620.7,480.8 618.5,479.3 616.4,477.7 614.4,476.1 612.4,474.5 610.6,473.0 608.8,471.4 607.2,469.8 605.5,468.2 604.0,466.6 602.5,465.0 601.1,463.4 599.7,461.8 598.4,460.2 597.1,458.6 595.9,456.9 594.7,455.3 593.5,453.5 592.4,451.8 591.4,449.9 590.3,447.9 589.3,446.0 588.4,444.1 587.4,442.3 586.5,440.6 585.6,439.0 584.8,437.4 584.0,435.9 583.2,434.4 582.4,433.0 581.6,431.6 580.9,430.3 580.2,429.0 579.5,427.7 578.8,426.5 578.2,425.3 577.5,424.2 576.9,423.0 576.3,421.9 575.7,420.8 575.1,419.8 574.6,418.8 574.0,417.8 573.5,416.8 572.9,415.9 572.4,415.0 571.9,414.1 571.4,413.2 571.0,412.3 570.5,411.5 570.1,410.7 569.6,409.9 569.2,409.1 568.7,408.3 568.3,407.5 567.9,406.8 567.5,406.1 567.1,405.4 566.7,404.6 566.4,404.0 566.0,403.3 565.6,402.6 565.3,401.9 564.9,401.3 564.6,400.7 564.3,400.0 563.9,399.4 563.6,398.8 563.3,398.2 563.0,397.6 562.7,397.1 562.4,396.5 562.1,396.0 561.8,395.4 561.5,394.9 561.2,394.4 561.0,393.9 560.7,393.4 560.4,392.9 560.2,392.4 559.9,391.9 559.7,391.5 559.4,391.0 559.2,390.6 558.9,390.1 558.7,389.7 558.5,389.3 558.2,388.9 558.0,388.5 557.8,388.1 557.6,387.7 557.4,387.3 557.1,386.9 556.9,386.5 556.7,386.2 556.5,385.8 556.3,385.4 556.1,385.1 555.9,384.7 555.8,384.4 555.6,384.0 555.4,383.7 555.2,383.4 555.0,383.0 554.8,382.7 554.7,382.4 554.5,382.1 554.3,381.8 554.2,381.5 554.0,381.2 553.8,380.9 553.7,380.7 553.5,380.4 553.4,380.2 553.2,379.9 553.0,379.7 552.9,379.4 552.7,379.2 552.6,379.0 552.5,378.7 552.3,378.5 552.2,378.3 552.0,378.1 551.9,377.9 551.8,377.7 551.6,377.5 551.5,377.3 551.4,377.1 551.2,377.0 551.1,376.8 551.0,376.6 550.8,376.5 550.7,376.3 550.6,376.1 550.5,376.0 550.4,375.8 550.2,375.7 550.1,375.5 550.0,375.4 549.9,375.2 549.8,375.1 549.7,374.9 549.6,374.8 549.4,374.7 549.3,374.5 549.2,374.4 549.1,374.3 549.0,374.1 548.9,374.0 548.8,373.9 548.7,373.8 548.6,373.7 548.5,373.6 548.4,373.5 548.3,373.3 548.2,373.2 548.1,373.1 548.0,373.0 547.9,372.9 547.8,372.8 547.7,372.7" fill="none" stroke="none" marker-start="url(#mkg)" marker-mid="url(#mkg)" marker-end="url(#mkg)"/>
<polyline points="547.75,372.73 590.72,419.01" fill="none" stroke="#f0141e" stroke-width="1.35" stroke-linejoin="round"/>
<polyline points="548.80,373.85 593.01,454.56" fill="none" stroke="#f0141e" stroke-width="1.35" stroke-linejoin="round"/>
</g>
<rect x="529.5" y="371.2" width="150.5" height="139.40000000000003" fill="none" stroke="#404040" stroke-width="1.1"/>
<path d="M529.50,510.6v-2.5M529.50,371.2v2.5" stroke="#222" stroke-width="0.9"/>
<text x="529.50" y="524" text-anchor="middle">0</text>
<path d="M567.12,510.6v-2.5M567.12,371.2v2.5" stroke="#222" stroke-width="0.9"/>
<text x="567.12" y="524" text-anchor="middle">2</text>
<path d="M604.75,510.6v-2.5M604.75,371.2v2.5" stroke="#222" stroke-width="0.9"/>
<text x="604.75" y="524" text-anchor="middle">4</text>
<path d="M642.38,510.6v-2.5M642.38,371.2v2.5" stroke="#222" stroke-width="0.9"/>
<text x="642.38" y="524" text-anchor="middle">6</text>
<path d="M680.00,510.6v-2.5M680.00,371.2v2.5" stroke="#222" stroke-width="0.9"/>
<text x="680.00" y="524" text-anchor="middle">8</text>
<path d="M529.5,510.60h2.5M680,510.60h-2.5" stroke="#222" stroke-width="0.9"/>
<text x="527" y="515.50" text-anchor="end">2</text>
<path d="M529.5,482.72h2.5M680,482.72h-2.5" stroke="#222" stroke-width="0.9"/>
<text x="527" y="487.62" text-anchor="end">4</text>
<path d="M529.5,454.84h2.5M680,454.84h-2.5" stroke="#222" stroke-width="0.9"/>
<text x="527" y="459.74" text-anchor="end">6</text>
<path d="M529.5,426.96h2.5M680,426.96h-2.5" stroke="#222" stroke-width="0.9"/>
<text x="527" y="431.86" text-anchor="end">8</text>
<path d="M529.5,399.08h2.5M680,399.08h-2.5" stroke="#222" stroke-width="0.9"/>
<text x="527" y="403.98" text-anchor="end">10</text>
<path d="M529.5,371.20h2.5M680,371.20h-2.5" stroke="#222" stroke-width="0.9"/>
<text x="527" y="376.10" text-anchor="end">12</text>
<text x="604.1" y="538.6" text-anchor="middle">1/<tspan font-style="italic">E</tspan>  (m/V)</text>
<text x="654" y="541.5">×10<tspan dy="-5" font-size="7.8">-8</tspan></text>
<text transform="translate(506.7,442.1) rotate(-90)" text-anchor="middle">log(<tspan font-style="italic">J</tspan>)  (log(A/m<tspan dy="-5" font-size="7.8">2</tspan><tspan dy="5">))</tspan></text>
<rect x="594.5" y="374.9" width="82.2" height="30.2" fill="#fff" stroke="#404040" stroke-width="1"/>
<circle cx="604.7" cy="383" r="1.4" fill="none" stroke="#15287a" stroke-width="0.5" opacity="0.55"/>
<text x="615.5" y="386.4">Positive <tspan font-style="italic">V</tspan></text>
<line x1="597.1" y1="396.8" x2="612.1" y2="396.8" stroke="#f0141e" stroke-width="1.5" opacity="0.75"/>
<text x="615.5" y="401">TAT fit</text>
<text x="534.5" y="505" font-weight="bold" font-size="13">g</text>
<line x1="488.5" y1="2" x2="488.5" y2="356.5" stroke="#bbb" stroke-width="1"/>
<line x1="2.5" y1="360.5" x2="487" y2="360.5" stroke="#888" stroke-width="1"/>
</svg></body></html>
